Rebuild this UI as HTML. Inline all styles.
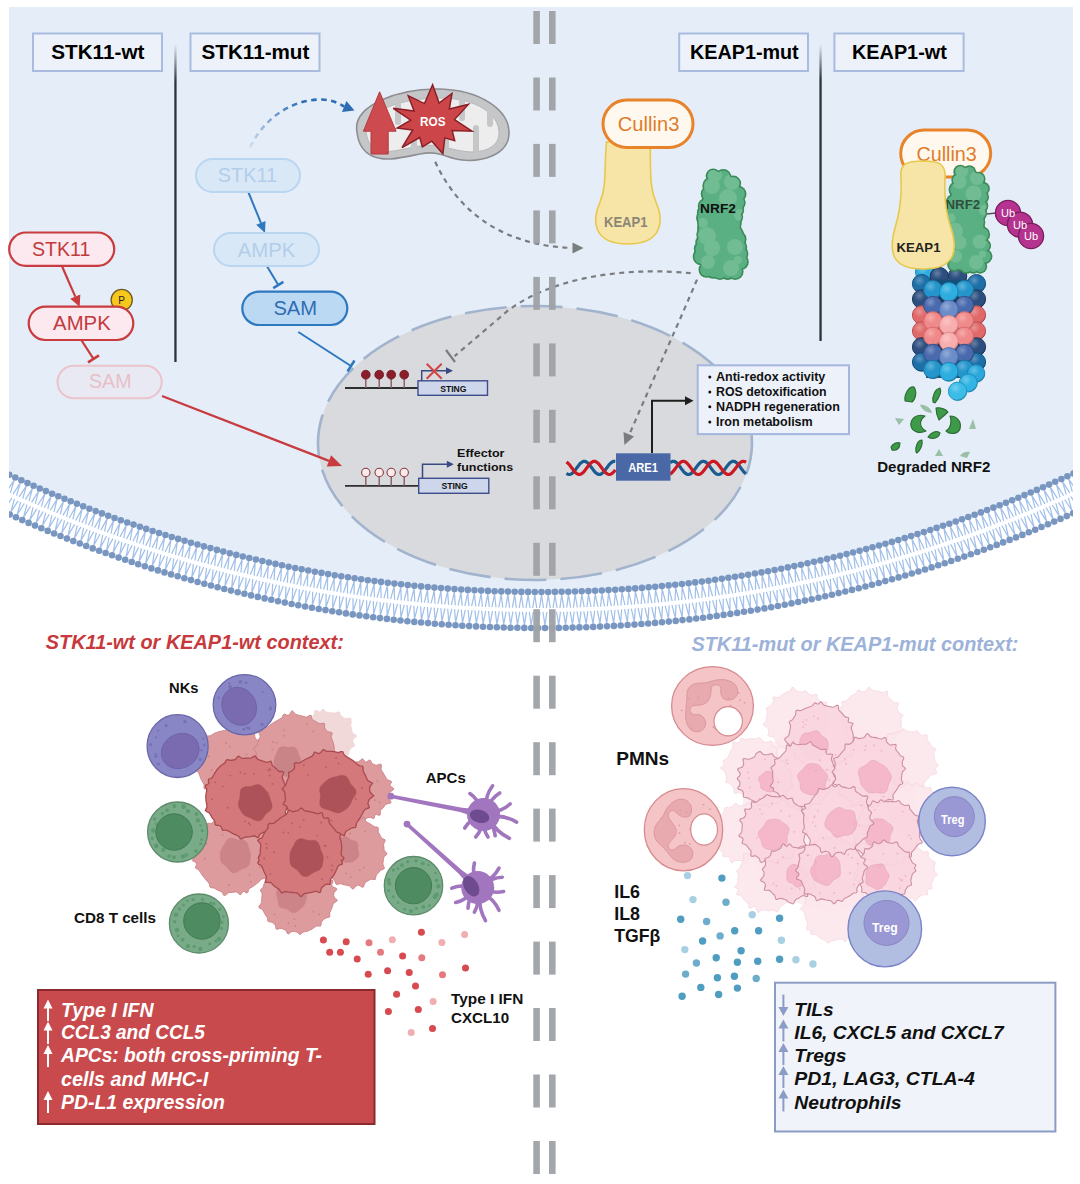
<!DOCTYPE html>
<html><head><meta charset="utf-8"><style>
html,body{margin:0;padding:0;background:#fff;width:1080px;height:1184px;overflow:hidden}
svg{display:block;font-family:"Liberation Sans", sans-serif}
</style></head><body>
<svg width="1080" height="1184" viewBox="0 0 1080 1184">
<defs><clipPath id="panelclip"><rect x="9" y="0" width="1064" height="1184"/></clipPath></defs>
<path d="M9,7 H1073 V474.65 A1260,1260 0 0 1 9,474.65 Z" fill="#E5EEF8"/>
<g clip-path="url(#panelclip)"><path d="M9,474.6 A1260,1260 0 0 0 1073,473.7" fill="none"/><path d="M1080.9,473.3L1084.6,485.9M1080.9,473.3L1088.2,484.2M1090.6,501.9L1083.3,491.0M1090.6,501.9L1086.9,489.3M1074.8,476.2L1078.5,488.8M1074.8,476.2L1082.1,487.1M1084.4,504.8L1077.1,493.9M1084.4,504.8L1080.7,492.2M1068.7,479.0L1072.3,491.7M1068.7,479.0L1076.0,490.0M1078.1,507.7L1070.9,496.7M1078.1,507.7L1074.5,495.0M1062.6,481.8L1066.2,494.5M1062.6,481.8L1069.8,492.8M1071.9,510.5L1064.7,499.5M1071.9,510.5L1068.4,497.9M1056.5,484.6L1060.0,497.3M1056.5,484.6L1063.6,495.6M1065.6,513.4L1058.5,502.3M1065.6,513.4L1062.1,500.7M1050.3,487.3L1053.8,500.0M1050.3,487.3L1057.4,498.4M1059.3,516.1L1052.3,505.0M1059.3,516.1L1055.9,503.4M1044.2,490.0L1047.5,502.7M1044.2,490.0L1051.2,501.1M1053.0,518.9L1046.0,507.7M1053.0,518.9L1049.7,506.1M1038.0,492.7L1041.3,505.4M1038.0,492.7L1045.0,503.8M1046.7,521.6L1039.8,510.4M1046.7,521.6L1043.4,508.8M1031.8,495.3L1035.1,508.0M1031.8,495.3L1038.7,506.5M1040.4,524.3L1033.5,513.1M1040.4,524.3L1037.2,511.5M1025.6,497.9L1028.8,510.7M1025.6,497.9L1032.5,509.1M1034.0,526.9L1027.2,515.7M1034.0,526.9L1030.9,514.1M1019.4,500.5L1022.5,513.2M1019.4,500.5L1026.2,511.7M1027.6,529.5L1020.9,518.2M1027.6,529.5L1024.6,516.7M1013.2,503.0L1016.2,515.8M1013.2,503.0L1019.9,514.3M1021.3,532.1L1014.6,520.8M1021.3,532.1L1018.3,519.3M1007.0,505.5L1009.9,518.3M1007.0,505.5L1013.7,516.8M1014.9,534.6L1008.3,523.3M1014.9,534.6L1012.0,521.8M1000.7,508.0L1003.6,520.8M1000.7,508.0L1007.3,519.3M1008.5,537.1L1001.9,525.8M1008.5,537.1L1005.6,524.3M994.5,510.4L997.3,523.2M994.5,510.4L1001.0,521.8M1002.1,539.6L995.6,528.2M1002.1,539.6L999.3,526.8M988.2,512.8L991.0,525.7M988.2,512.8L994.7,524.2M995.6,542.1L989.2,530.6M995.6,542.1L992.9,529.2M981.9,515.2L984.6,528.0M981.9,515.2L988.3,526.6M989.2,544.5L982.8,533.0M989.2,544.5L986.6,531.6M975.6,517.5L978.2,530.4M975.6,517.5L982.0,529.0M982.7,546.8L976.4,535.3M982.7,546.8L980.2,533.9M969.3,519.8L971.9,532.7M969.3,519.8L975.6,531.3M976.3,549.2L970.0,537.6M976.3,549.2L973.8,536.3M963.0,522.1L965.5,535.0M963.0,522.1L969.2,533.6M969.8,551.5L963.6,539.9M969.8,551.5L967.4,538.5M956.7,524.3L959.1,537.2M956.7,524.3L962.8,535.9M963.3,553.7L957.2,542.1M963.3,553.7L960.9,540.8M950.3,526.5L952.6,539.4M950.3,526.5L956.4,538.1M956.8,556.0L950.7,544.3M956.8,556.0L954.5,543.0M944.0,528.7L946.2,541.6M944.0,528.7L950.0,540.3M950.3,558.2L944.3,546.5M950.3,558.2L948.1,545.2M937.6,530.8L939.8,543.8M937.6,530.8L943.6,542.5M943.8,560.3L937.8,548.6M943.8,560.3L941.6,547.4M931.2,532.9L933.3,545.9M931.2,532.9L937.1,544.6M937.2,562.5L931.3,550.7M937.2,562.5L935.1,549.5M924.8,534.9L926.9,547.9M924.8,534.9L930.7,546.7M930.7,564.6L924.8,552.8M930.7,564.6L928.7,551.6M918.4,537.0L920.4,550.0M918.4,537.0L924.2,548.8M924.1,566.6L918.4,554.8M924.1,566.6L922.2,553.6M912.0,539.0L913.9,552.0M912.0,539.0L917.7,550.8M917.6,568.6L911.8,556.8M917.6,568.6L915.7,555.6M905.6,540.9L907.4,554.0M905.6,540.9L911.3,552.8M911.0,570.6L905.3,558.8M911.0,570.6L909.2,557.6M899.1,542.9L900.9,555.9M899.1,542.9L904.8,554.8M904.4,572.6L898.8,560.7M904.4,572.6L902.6,559.6M892.7,544.8L894.4,557.8M892.7,544.8L898.3,556.7M897.8,574.5L892.3,562.6M897.8,574.5L896.1,561.5M886.2,546.6L887.9,559.7M886.2,546.6L891.7,558.6M891.2,576.4L885.7,564.4M891.2,576.4L889.6,563.3M879.8,548.4L881.4,561.5M879.8,548.4L885.2,560.4M884.5,578.2L879.2,566.3M884.5,578.2L883.0,565.2M873.3,550.2L874.8,563.3M873.3,550.2L878.7,562.2M877.9,580.1L872.6,568.0M877.9,580.1L876.4,567.0M866.8,552.0L868.3,565.1M866.8,552.0L872.1,564.0M871.3,581.8L866.0,569.8M871.3,581.8L869.9,568.8M860.3,553.7L861.7,566.8M860.3,553.7L865.6,565.8M864.6,583.6L859.4,571.5M864.6,583.6L863.3,570.5M853.8,555.4L855.1,568.5M853.8,555.4L859.0,567.5M858.0,585.3L852.8,573.2M858.0,585.3L856.7,572.2M847.3,557.0L848.6,570.1M847.3,557.0L852.4,569.2M851.3,587.0L846.2,574.8M851.3,587.0L850.1,573.9M840.8,558.7L842.0,571.8M840.8,558.7L845.8,570.8M844.6,588.6L839.6,576.4M844.6,588.6L843.5,575.5M834.3,560.2L835.4,573.3M834.3,560.2L839.3,572.4M837.9,590.2L833.0,578.0M837.9,590.2L836.9,577.1M827.7,561.8L828.8,574.9M827.7,561.8L832.7,574.0M831.2,591.8L826.4,579.6M831.2,591.8L830.3,578.7M821.2,563.3L822.1,576.4M821.2,563.3L826.0,575.5M824.5,593.3L819.7,581.1M824.5,593.3L823.6,580.2M814.7,564.8L815.5,577.9M814.7,564.8L819.4,577.0M817.8,594.8L813.1,582.5M817.8,594.8L817.0,581.7M808.1,566.2L808.9,579.3M808.1,566.2L812.8,578.5M811.1,596.3L806.4,584.0M811.1,596.3L810.3,583.1M801.5,567.6L802.3,580.8M801.5,567.6L806.2,579.9M804.4,597.7L799.8,585.4M804.4,597.7L803.7,584.5M795.0,569.0L795.6,582.1M795.0,569.0L799.5,581.3M797.6,599.1L793.1,586.7M797.6,599.1L797.0,585.9M788.4,570.3L789.0,583.5M788.4,570.3L792.9,582.7M790.9,600.4L786.4,588.1M790.9,600.4L790.3,587.3M781.8,571.6L782.3,584.8M781.8,571.6L786.2,584.0M784.2,601.7L779.7,589.4M784.2,601.7L783.7,588.6M775.2,572.9L775.6,586.1M775.2,572.9L779.6,585.3M777.4,603.0L773.0,590.6M777.4,603.0L777.0,589.9M768.6,574.1L769.0,587.3M768.6,574.1L772.9,586.6M770.6,604.3L766.3,591.8M770.6,604.3L770.3,591.1M762.0,575.3L762.3,588.5M762.0,575.3L766.2,587.8M763.9,605.5L759.6,593.0M763.9,605.5L763.6,592.3M755.4,576.5L755.6,589.7M755.4,576.5L759.6,589.0M757.1,606.6L752.9,594.2M757.1,606.6L756.9,593.5M748.7,577.6L748.9,590.8M748.7,577.6L752.9,590.1M750.3,607.8L746.2,595.3M750.3,607.8L750.2,594.6M742.1,578.7L742.2,591.9M742.1,578.7L746.2,591.2M743.5,608.9L739.5,596.4M743.5,608.9L743.5,595.7M735.5,579.8L735.5,592.9M735.5,579.8L739.5,592.3M736.7,609.9L732.8,597.4M736.7,609.9L736.7,596.8M728.8,580.8L728.8,594.0M728.8,580.8L732.8,593.4M729.9,611.0L726.0,598.4M729.9,611.0L730.0,597.8M722.2,581.8L722.1,594.9M722.2,581.8L726.1,594.4M723.1,612.0L719.3,599.4M723.1,612.0L723.3,598.8M715.6,582.7L715.4,595.9M715.6,582.7L719.3,595.3M716.3,612.9L712.6,600.3M716.3,612.9L716.5,599.8M708.9,583.7L708.7,596.8M708.9,583.7L712.6,596.3M709.5,613.8L705.8,601.2M709.5,613.8L709.8,600.7M702.2,584.5L701.9,597.7M702.2,584.5L705.9,597.2M702.7,614.7L699.1,602.1M702.7,614.7L703.0,601.6M695.6,585.4L695.2,598.5M695.6,585.4L699.2,598.0M695.9,615.6L692.3,602.9M695.9,615.6L696.3,602.4M688.9,586.2L688.5,599.3M688.9,586.2L692.4,598.9M689.0,616.4L685.6,603.7M689.0,616.4L689.5,603.2M682.2,587.0L681.7,600.1M682.2,587.0L685.7,599.7M682.2,617.2L678.8,604.5M682.2,617.2L682.8,604.0M675.6,587.7L675.0,600.8M675.6,587.7L679.0,600.4M675.4,617.9L672.0,605.2M675.4,617.9L676.0,604.8M668.9,588.4L668.2,601.5M668.9,588.4L672.2,601.1M668.5,618.6L665.2,605.9M668.5,618.6L669.2,605.5M662.2,589.1L661.5,602.2M662.2,589.1L665.5,601.8M661.7,619.3L658.5,606.5M661.7,619.3L662.5,606.1M655.5,589.7L654.7,602.8M655.5,589.7L658.7,602.5M654.8,619.9L651.7,607.1M654.8,619.9L655.7,606.8M648.8,590.3L648.0,603.4M648.8,590.3L651.9,603.1M648.0,620.5L644.9,607.7M648.0,620.5L648.9,607.4M642.1,590.9L641.2,604.0M642.1,590.9L645.2,603.7M641.1,621.0L638.1,608.2M641.1,621.0L642.1,607.9M635.4,591.4L634.4,604.5M635.4,591.4L638.4,604.2M634.3,621.6L631.3,608.7M634.3,621.6L635.3,608.4M628.7,591.9L627.7,605.0M628.7,591.9L631.7,604.7M627.4,622.0L624.5,609.2M627.4,622.0L628.5,608.9M622.0,592.3L620.9,605.4M622.0,592.3L624.9,605.2M620.6,622.5L617.8,609.6M620.6,622.5L621.7,609.4M615.3,592.8L614.1,605.8M615.3,592.8L618.1,605.6M613.7,622.9L611.0,610.0M613.7,622.9L615.0,609.8M608.6,593.1L607.3,606.2M608.6,593.1L611.3,606.0M606.8,623.3L604.2,610.4M606.8,623.3L608.2,610.2M601.9,593.5L600.6,606.6M601.9,593.5L604.6,606.4M600.0,623.6L597.4,610.7M600.0,623.6L601.4,610.5M595.2,593.8L593.8,606.9M595.2,593.8L597.8,606.7M593.1,623.9L590.6,611.0M593.1,623.9L594.6,610.8M588.5,594.1L587.0,607.1M588.5,594.1L591.0,607.0M586.2,624.2L583.8,611.3M586.2,624.2L587.8,611.1M581.8,594.3L580.2,607.4M581.8,594.3L584.2,607.2M579.4,624.4L577.0,611.5M579.4,624.4L581.0,611.3M575.1,594.5L573.4,607.6M575.1,594.5L577.4,607.5M572.5,624.6L570.2,611.6M572.5,624.6L574.2,611.5M568.4,594.7L566.7,607.7M568.4,594.7L570.7,607.6M565.6,624.7L563.4,611.8M565.6,624.7L567.4,611.7M561.7,594.8L559.9,607.8M561.7,594.8L563.9,607.8M558.7,624.9L556.5,611.9M558.7,624.9L560.5,611.8M554.9,594.9L553.1,607.9M554.9,594.9L557.1,607.9M551.9,624.9L549.7,612.0M551.9,624.9L553.7,611.9M548.2,595.0L546.3,608.0M548.2,595.0L550.3,608.0M545.0,625.0L542.9,612.0M545.0,625.0L546.9,612.0M541.5,595.0L539.5,608.0M541.5,595.0L543.5,608.0M538.1,625.0L536.1,612.0M538.1,625.0L540.1,612.0M534.8,595.0L532.7,608.0M534.8,595.0L536.7,608.0M531.2,625.0L529.3,612.0M531.2,625.0L533.3,612.0M528.1,594.9L526.0,607.9M528.1,594.9L530.0,608.0M524.4,624.9L522.5,611.9M524.4,624.9L526.5,611.9M521.4,594.9L519.2,607.8M521.4,594.9L523.2,607.9M517.5,624.8L515.7,611.8M517.5,624.8L519.7,611.8M514.6,594.7L512.4,607.7M514.6,594.7L516.4,607.8M510.6,624.7L508.9,611.6M510.6,624.7L512.9,611.7M507.9,594.6L505.6,607.5M507.9,594.6L509.6,607.6M503.7,624.5L502.1,611.4M503.7,624.5L506.1,611.6M501.2,594.4L498.8,607.3M501.2,594.4L502.8,607.5M496.9,624.3L495.3,611.2M496.9,624.3L499.3,611.4M494.5,594.2L492.0,607.1M494.5,594.2L496.0,607.2M490.0,624.0L488.5,611.0M490.0,624.0L492.5,611.1M487.8,593.9L485.3,606.8M487.8,593.9L489.3,607.0M483.1,623.7L481.7,610.7M483.1,623.7L485.7,610.8M481.1,593.6L478.5,606.5M481.1,593.6L482.5,606.7M476.3,623.4L474.9,610.3M476.3,623.4L478.9,610.5M474.4,593.3L471.7,606.2M474.4,593.3L475.7,606.4M469.4,623.1L468.1,610.0M469.4,623.1L472.1,610.2M467.7,592.9L464.9,605.8M467.7,592.9L468.9,606.0M462.5,622.7L461.3,609.6M462.5,622.7L465.3,609.8M461.0,592.5L458.2,605.4M461.0,592.5L462.2,605.6M455.7,622.2L454.5,609.1M455.7,622.2L458.5,609.4M454.3,592.1L451.4,604.9M454.3,592.1L455.4,605.2M448.8,621.8L447.7,608.7M448.8,621.8L451.7,609.0M447.6,591.6L444.6,604.4M447.6,591.6L448.6,604.7M441.9,621.3L440.9,608.2M441.9,621.3L444.9,608.5M440.9,591.1L437.9,603.9M440.9,591.1L441.8,604.2M435.1,620.7L434.2,607.6M435.1,620.7L438.1,607.9M434.2,590.6L431.1,603.3M434.2,590.6L435.1,603.7M428.2,620.2L427.4,607.0M428.2,620.2L431.4,607.4M427.5,590.0L424.3,602.7M427.5,590.0L428.3,603.1M421.4,619.5L420.6,606.4M421.4,619.5L424.6,606.8M420.8,589.4L417.6,602.1M420.8,589.4L421.6,602.5M414.5,618.9L413.8,605.8M414.5,618.9L417.8,606.2M414.1,588.7L410.8,601.4M414.1,588.7L414.8,601.8M407.7,618.2L407.0,605.1M407.7,618.2L411.0,605.5M407.4,588.0L404.1,600.7M407.4,588.0L408.1,601.2M400.9,617.5L400.3,604.4M400.9,617.5L404.3,604.8M400.8,587.3L397.3,600.0M400.8,587.3L401.3,600.4M394.0,616.7L393.5,603.6M394.0,616.7L397.5,604.0M394.1,586.5L390.6,599.2M394.1,586.5L394.6,599.7M387.2,615.9L386.8,602.8M387.2,615.9L390.7,603.3M387.4,585.7L383.9,598.4M387.4,585.7L387.8,598.9M380.4,615.1L380.0,602.0M380.4,615.1L384.0,602.5M380.8,584.9L377.1,597.6M380.8,584.9L381.1,598.1M373.6,614.2L373.3,601.1M373.6,614.2L377.2,601.6M374.1,584.1L370.4,596.7M374.1,584.1L374.4,597.2M366.7,613.3L366.5,600.2M366.7,613.3L370.5,600.7M367.4,583.2L363.7,595.8M367.4,583.2L367.6,596.3M359.9,612.4L359.8,599.2M359.9,612.4L363.7,599.8M360.8,582.2L357.0,594.8M360.8,582.2L360.9,595.4M353.1,611.4L353.0,598.3M353.1,611.4L357.0,598.9M354.1,581.2L350.2,593.8M354.1,581.2L354.2,594.4M346.3,610.4L346.3,597.3M346.3,610.4L350.3,597.9M347.5,580.2L343.5,592.8M347.5,580.2L347.5,593.4M339.5,609.4L339.6,596.2M339.5,609.4L343.5,596.8M340.9,579.2L336.8,591.7M340.9,579.2L340.8,592.4M332.7,608.3L332.9,595.1M332.7,608.3L336.8,595.8M334.2,578.1L330.1,590.6M334.2,578.1L334.1,591.3M326.0,607.2L326.1,594.0M326.0,607.2L330.1,594.7M327.6,577.0L323.5,589.5M327.6,577.0L327.4,590.2M319.2,606.0L319.4,592.9M319.2,606.0L323.4,593.5M321.0,575.9L316.8,588.3M321.0,575.9L320.7,589.0M312.4,604.8L312.7,591.7M312.4,604.8L316.7,592.4M314.4,574.7L310.1,587.1M314.4,574.7L314.0,587.8M305.6,603.6L306.0,590.4M305.6,603.6L310.0,591.2M307.8,573.5L303.4,585.9M307.8,573.5L307.4,586.6M298.9,602.3L299.3,589.2M298.9,602.3L303.3,589.9M301.2,572.2L296.8,584.6M301.2,572.2L300.7,585.4M292.1,601.0L292.7,587.9M292.1,601.0L296.6,588.6M294.6,570.9L290.1,583.3M294.6,570.9L294.0,584.1M285.4,599.7L286.0,586.5M285.4,599.7L289.9,587.3M288.0,569.6L283.5,581.9M288.0,569.6L287.4,582.7M278.7,598.3L279.3,585.2M278.7,598.3L283.2,586.0M281.4,568.2L276.8,580.6M281.4,568.2L280.7,581.4M271.9,596.9L272.7,583.8M271.9,596.9L276.6,584.6M274.9,566.9L270.2,579.1M274.9,566.9L274.1,580.0M265.2,595.5L266.0,582.3M265.2,595.5L269.9,583.2M268.3,565.4L263.5,577.7M268.3,565.4L267.5,578.6M258.5,594.0L259.4,580.9M258.5,594.0L263.3,581.7M261.7,564.0L256.9,576.2M261.7,564.0L260.8,577.1M251.8,592.5L252.7,579.3M251.8,592.5L256.6,580.2M255.2,562.5L250.3,574.7M255.2,562.5L254.2,575.6M245.1,590.9L246.1,577.8M245.1,590.9L250.0,578.7M248.7,560.9L243.7,573.1M248.7,560.9L247.6,574.0M238.4,589.3L239.5,576.2M238.4,589.3L243.4,577.2M242.1,559.4L237.1,571.5M242.1,559.4L241.0,572.5M231.7,587.7L232.9,574.6M231.7,587.7L236.8,575.6M235.6,557.8L230.5,569.9M235.6,557.8L234.4,570.9M225.0,586.1L226.3,573.0M225.0,586.1L230.1,573.9M229.1,556.1L224.0,568.2M229.1,556.1L227.8,569.2M218.4,584.4L219.7,571.3M218.4,584.4L223.5,572.3M222.6,554.5L217.4,566.5M222.6,554.5L221.3,567.5M211.7,582.6L213.1,569.6M211.7,582.6L217.0,570.6M216.1,552.8L210.8,564.8M216.1,552.8L214.7,565.8M205.1,580.9L206.5,567.8M205.1,580.9L210.4,568.8M209.6,551.0L204.3,563.0M209.6,551.0L208.1,564.1M198.4,579.1L199.9,566.0M198.4,579.1L203.8,567.1M203.1,549.2L197.7,561.2M203.1,549.2L201.6,562.3M191.8,577.2L193.4,564.2M191.8,577.2L197.2,565.3M196.7,547.4L191.2,559.4M196.7,547.4L195.0,560.5M185.2,575.4L186.8,562.3M185.2,575.4L190.7,563.4M190.2,545.6L184.7,557.5M190.2,545.6L188.5,558.6M178.6,573.5L180.3,560.4M178.6,573.5L184.1,561.5M183.8,543.7L178.2,555.6M183.8,543.7L182.0,556.8M172.0,571.5L173.8,558.5M172.0,571.5L177.6,559.6M177.3,541.8L171.7,553.7M177.3,541.8L175.5,554.8M165.4,569.5L167.3,556.5M165.4,569.5L171.1,557.7M170.9,539.9L165.2,551.7M170.9,539.9L169.0,552.9M158.8,567.5L160.8,554.5M158.8,567.5L164.6,555.7M164.5,537.9L158.7,549.7M164.5,537.9L162.5,550.9M152.3,565.5L154.3,552.5M152.3,565.5L158.1,553.7M158.1,535.9L152.2,547.7M158.1,535.9L156.0,548.9M145.7,563.4L147.8,550.4M145.7,563.4L151.6,551.6M151.7,533.8L145.8,545.6M151.7,533.8L149.6,546.8M139.2,561.3L141.3,548.3M139.2,561.3L145.1,549.6M145.3,531.7L139.3,543.5M145.3,531.7L143.1,544.7M132.6,559.2L134.8,546.2M132.6,559.2L138.6,547.4M138.9,529.6L132.9,541.3M138.9,529.6L136.7,542.6M126.1,557.0L128.4,544.0M126.1,557.0L132.2,545.3M132.5,527.5L126.5,539.1M132.5,527.5L130.2,540.4M119.6,554.8L121.9,541.8M119.6,554.8L125.7,543.1M126.2,525.3L120.0,536.9M126.2,525.3L123.8,538.2M113.1,552.5L115.5,539.6M113.1,552.5L119.3,540.9M119.9,523.1L113.6,534.7M119.9,523.1L117.4,536.0M106.6,550.2L109.1,537.3M106.6,550.2L112.9,538.6M113.5,520.8L107.3,532.4M113.5,520.8L111.0,533.7M100.2,547.9L102.7,535.0M100.2,547.9L106.5,536.3M107.2,518.5L100.9,530.1M107.2,518.5L104.6,531.4M93.7,545.5L96.3,532.6M93.7,545.5L100.1,534.0M100.9,516.2L94.5,527.7M100.9,516.2L98.3,529.1M87.3,543.1L89.9,530.3M87.3,543.1L93.7,531.7M94.6,513.9L88.2,525.3M94.6,513.9L91.9,526.7M80.8,540.7L83.6,527.9M80.8,540.7L87.3,529.3M88.3,511.5L81.8,522.9M88.3,511.5L85.6,524.3M74.4,538.3L77.2,525.4M74.4,538.3L80.9,526.9M82.1,509.1L75.5,520.5M82.1,509.1L79.2,521.9M68.0,535.8L70.9,522.9M68.0,535.8L74.6,524.4M75.8,506.6L69.2,518.0M75.8,506.6L72.9,519.4M61.6,533.2L64.5,520.4M61.6,533.2L68.3,521.9M69.6,504.1L62.9,515.4M69.6,504.1L66.6,516.9M55.2,530.7L58.2,517.9M55.2,530.7L61.9,519.4M63.4,501.6L56.6,512.9M63.4,501.6L60.3,514.4M48.8,528.1L51.9,515.3M48.8,528.1L55.6,516.8M57.1,499.1L50.3,510.3M57.1,499.1L54.0,511.8M42.5,525.5L45.7,512.7M42.5,525.5L49.3,514.2M50.9,496.5L44.1,507.7M50.9,496.5L47.8,509.2M36.2,522.8L39.4,510.0M36.2,522.8L43.1,511.6M44.8,493.9L37.8,505.0M44.8,493.9L41.5,506.6M29.8,520.1L33.1,507.4M29.8,520.1L36.8,508.9M38.6,491.2L31.6,502.3M38.6,491.2L35.3,503.9M23.5,517.4L26.9,504.7M23.5,517.4L30.5,506.3M32.4,488.5L25.4,499.6M32.4,488.5L29.0,501.2M17.2,514.6L20.7,501.9M17.2,514.6L24.3,503.5M26.3,485.8L19.2,496.9M26.3,485.8L22.8,498.5M10.9,511.8L14.4,499.1M10.9,511.8L18.1,500.8M20.2,483.1L13.0,494.1M20.2,483.1L16.6,495.7M4.7,509.0L8.2,496.3M4.7,509.0L11.9,498.0M14.0,480.3L6.8,491.3M14.0,480.3L10.4,492.9M-1.6,506.1L2.1,493.5M-1.6,506.1L5.7,495.1M7.9,477.5L0.7,488.4M7.9,477.5L4.3,490.1M-7.8,503.2L-4.1,490.6M-7.8,503.2L-0.5,492.3M1.9,474.6L-5.5,485.5M1.9,474.6L-1.9,487.2M-14.0,500.3L-10.3,487.7M-14.0,500.3L-6.6,489.4M-4.2,471.7L-11.6,482.6M-4.2,471.7L-8.0,484.3M-20.2,497.3L-16.4,484.7M-20.2,497.3L-12.8,486.5M-10.3,468.8L-17.7,479.7M-10.3,468.8L-14.1,481.4M-26.4,494.3L-22.5,481.8M-26.4,494.3L-18.9,483.5" stroke="#A2C0EA" stroke-width="1.25" fill="none"/><g fill="#7896C0"><circle cx="1079.6" cy="470.6" r="3.3"/><circle cx="1091.9" cy="504.6" r="3.3"/><circle cx="1073.5" cy="473.5" r="3.3"/><circle cx="1085.6" cy="507.5" r="3.3"/><circle cx="1067.4" cy="476.3" r="3.3"/><circle cx="1079.4" cy="510.4" r="3.3"/><circle cx="1061.4" cy="479.1" r="3.3"/><circle cx="1073.1" cy="513.3" r="3.3"/><circle cx="1055.2" cy="481.8" r="3.3"/><circle cx="1066.8" cy="516.1" r="3.3"/><circle cx="1049.1" cy="484.6" r="3.3"/><circle cx="1060.5" cy="518.9" r="3.3"/><circle cx="1043.0" cy="487.3" r="3.3"/><circle cx="1054.2" cy="521.6" r="3.3"/><circle cx="1036.8" cy="489.9" r="3.3"/><circle cx="1047.9" cy="524.3" r="3.3"/><circle cx="1030.7" cy="492.5" r="3.3"/><circle cx="1041.5" cy="527.0" r="3.3"/><circle cx="1024.5" cy="495.1" r="3.3"/><circle cx="1035.2" cy="529.7" r="3.3"/><circle cx="1018.3" cy="497.7" r="3.3"/><circle cx="1028.8" cy="532.3" r="3.3"/><circle cx="1012.1" cy="500.2" r="3.3"/><circle cx="1022.4" cy="534.9" r="3.3"/><circle cx="1005.9" cy="502.7" r="3.3"/><circle cx="1016.0" cy="537.4" r="3.3"/><circle cx="999.6" cy="505.2" r="3.3"/><circle cx="1009.6" cy="539.9" r="3.3"/><circle cx="993.4" cy="507.6" r="3.3"/><circle cx="1003.1" cy="542.4" r="3.3"/><circle cx="987.1" cy="510.0" r="3.3"/><circle cx="996.7" cy="544.9" r="3.3"/><circle cx="980.9" cy="512.4" r="3.3"/><circle cx="990.2" cy="547.3" r="3.3"/><circle cx="974.6" cy="514.7" r="3.3"/><circle cx="983.8" cy="549.7" r="3.3"/><circle cx="968.3" cy="517.0" r="3.3"/><circle cx="977.3" cy="552.0" r="3.3"/><circle cx="962.0" cy="519.2" r="3.3"/><circle cx="970.8" cy="554.3" r="3.3"/><circle cx="955.7" cy="521.5" r="3.3"/><circle cx="964.3" cy="556.6" r="3.3"/><circle cx="949.3" cy="523.7" r="3.3"/><circle cx="957.8" cy="558.8" r="3.3"/><circle cx="943.0" cy="525.8" r="3.3"/><circle cx="951.2" cy="561.0" r="3.3"/><circle cx="936.6" cy="527.9" r="3.3"/><circle cx="944.7" cy="563.2" r="3.3"/><circle cx="930.3" cy="530.0" r="3.3"/><circle cx="938.2" cy="565.3" r="3.3"/><circle cx="923.9" cy="532.1" r="3.3"/><circle cx="931.6" cy="567.4" r="3.3"/><circle cx="917.5" cy="534.1" r="3.3"/><circle cx="925.0" cy="569.5" r="3.3"/><circle cx="911.1" cy="536.1" r="3.3"/><circle cx="918.4" cy="571.5" r="3.3"/><circle cx="904.7" cy="538.1" r="3.3"/><circle cx="911.8" cy="573.5" r="3.3"/><circle cx="898.3" cy="540.0" r="3.3"/><circle cx="905.2" cy="575.5" r="3.3"/><circle cx="891.9" cy="541.9" r="3.3"/><circle cx="898.6" cy="577.4" r="3.3"/><circle cx="885.4" cy="543.7" r="3.3"/><circle cx="892.0" cy="579.3" r="3.3"/><circle cx="879.0" cy="545.5" r="3.3"/><circle cx="885.3" cy="581.1" r="3.3"/><circle cx="872.5" cy="547.3" r="3.3"/><circle cx="878.7" cy="583.0" r="3.3"/><circle cx="866.1" cy="549.1" r="3.3"/><circle cx="872.0" cy="584.7" r="3.3"/><circle cx="859.6" cy="550.8" r="3.3"/><circle cx="865.4" cy="586.5" r="3.3"/><circle cx="853.1" cy="552.5" r="3.3"/><circle cx="858.7" cy="588.2" r="3.3"/><circle cx="846.6" cy="554.1" r="3.3"/><circle cx="852.0" cy="589.9" r="3.3"/><circle cx="840.1" cy="555.7" r="3.3"/><circle cx="845.3" cy="591.5" r="3.3"/><circle cx="833.6" cy="557.3" r="3.3"/><circle cx="838.6" cy="593.1" r="3.3"/><circle cx="827.1" cy="558.9" r="3.3"/><circle cx="831.9" cy="594.7" r="3.3"/><circle cx="820.5" cy="560.4" r="3.3"/><circle cx="825.2" cy="596.2" r="3.3"/><circle cx="814.0" cy="561.8" r="3.3"/><circle cx="818.5" cy="597.7" r="3.3"/><circle cx="807.5" cy="563.3" r="3.3"/><circle cx="811.7" cy="599.2" r="3.3"/><circle cx="800.9" cy="564.7" r="3.3"/><circle cx="805.0" cy="600.6" r="3.3"/><circle cx="794.3" cy="566.1" r="3.3"/><circle cx="798.2" cy="602.0" r="3.3"/><circle cx="787.8" cy="567.4" r="3.3"/><circle cx="791.5" cy="603.4" r="3.3"/><circle cx="781.2" cy="568.7" r="3.3"/><circle cx="784.7" cy="604.7" r="3.3"/><circle cx="774.6" cy="570.0" r="3.3"/><circle cx="777.9" cy="606.0" r="3.3"/><circle cx="768.0" cy="571.2" r="3.3"/><circle cx="771.2" cy="607.2" r="3.3"/><circle cx="761.5" cy="572.4" r="3.3"/><circle cx="764.4" cy="608.4" r="3.3"/><circle cx="754.9" cy="573.5" r="3.3"/><circle cx="757.6" cy="609.6" r="3.3"/><circle cx="748.2" cy="574.7" r="3.3"/><circle cx="750.8" cy="610.7" r="3.3"/><circle cx="741.6" cy="575.8" r="3.3"/><circle cx="744.0" cy="611.8" r="3.3"/><circle cx="735.0" cy="576.8" r="3.3"/><circle cx="737.2" cy="612.9" r="3.3"/><circle cx="728.4" cy="577.8" r="3.3"/><circle cx="730.4" cy="613.9" r="3.3"/><circle cx="721.8" cy="578.8" r="3.3"/><circle cx="723.6" cy="614.9" r="3.3"/><circle cx="715.1" cy="579.8" r="3.3"/><circle cx="716.7" cy="615.9" r="3.3"/><circle cx="708.5" cy="580.7" r="3.3"/><circle cx="709.9" cy="616.8" r="3.3"/><circle cx="701.9" cy="581.6" r="3.3"/><circle cx="703.1" cy="617.7" r="3.3"/><circle cx="695.2" cy="582.4" r="3.3"/><circle cx="696.2" cy="618.5" r="3.3"/><circle cx="688.6" cy="583.2" r="3.3"/><circle cx="689.4" cy="619.4" r="3.3"/><circle cx="681.9" cy="584.0" r="3.3"/><circle cx="682.5" cy="620.1" r="3.3"/><circle cx="675.2" cy="584.7" r="3.3"/><circle cx="675.7" cy="620.9" r="3.3"/><circle cx="668.6" cy="585.4" r="3.3"/><circle cx="668.8" cy="621.6" r="3.3"/><circle cx="661.9" cy="586.1" r="3.3"/><circle cx="662.0" cy="622.2" r="3.3"/><circle cx="655.2" cy="586.7" r="3.3"/><circle cx="655.1" cy="622.9" r="3.3"/><circle cx="648.6" cy="587.3" r="3.3"/><circle cx="648.2" cy="623.5" r="3.3"/><circle cx="641.9" cy="587.9" r="3.3"/><circle cx="641.4" cy="624.0" r="3.3"/><circle cx="635.2" cy="588.4" r="3.3"/><circle cx="634.5" cy="624.6" r="3.3"/><circle cx="628.5" cy="588.9" r="3.3"/><circle cx="627.6" cy="625.0" r="3.3"/><circle cx="621.8" cy="589.3" r="3.3"/><circle cx="620.7" cy="625.5" r="3.3"/><circle cx="615.2" cy="589.8" r="3.3"/><circle cx="613.9" cy="625.9" r="3.3"/><circle cx="608.5" cy="590.1" r="3.3"/><circle cx="607.0" cy="626.3" r="3.3"/><circle cx="601.8" cy="590.5" r="3.3"/><circle cx="600.1" cy="626.6" r="3.3"/><circle cx="595.1" cy="590.8" r="3.3"/><circle cx="593.2" cy="626.9" r="3.3"/><circle cx="588.4" cy="591.1" r="3.3"/><circle cx="586.3" cy="627.2" r="3.3"/><circle cx="581.7" cy="591.3" r="3.3"/><circle cx="579.4" cy="627.4" r="3.3"/><circle cx="575.0" cy="591.5" r="3.3"/><circle cx="572.6" cy="627.6" r="3.3"/><circle cx="568.3" cy="591.7" r="3.3"/><circle cx="565.7" cy="627.7" r="3.3"/><circle cx="561.6" cy="591.8" r="3.3"/><circle cx="558.8" cy="627.9" r="3.3"/><circle cx="554.9" cy="591.9" r="3.3"/><circle cx="551.9" cy="627.9" r="3.3"/><circle cx="548.2" cy="592.0" r="3.3"/><circle cx="545.0" cy="628.0" r="3.3"/><circle cx="541.5" cy="592.0" r="3.3"/><circle cx="538.1" cy="628.0" r="3.3"/><circle cx="534.8" cy="592.0" r="3.3"/><circle cx="531.2" cy="628.0" r="3.3"/><circle cx="528.1" cy="591.9" r="3.3"/><circle cx="524.3" cy="627.9" r="3.3"/><circle cx="521.4" cy="591.9" r="3.3"/><circle cx="517.4" cy="627.8" r="3.3"/><circle cx="514.7" cy="591.7" r="3.3"/><circle cx="510.5" cy="627.7" r="3.3"/><circle cx="508.0" cy="591.6" r="3.3"/><circle cx="503.7" cy="627.5" r="3.3"/><circle cx="501.3" cy="591.4" r="3.3"/><circle cx="496.8" cy="627.3" r="3.3"/><circle cx="494.6" cy="591.2" r="3.3"/><circle cx="489.9" cy="627.0" r="3.3"/><circle cx="487.9" cy="590.9" r="3.3"/><circle cx="483.0" cy="626.7" r="3.3"/><circle cx="481.2" cy="590.6" r="3.3"/><circle cx="476.1" cy="626.4" r="3.3"/><circle cx="474.5" cy="590.3" r="3.3"/><circle cx="469.2" cy="626.1" r="3.3"/><circle cx="467.8" cy="589.9" r="3.3"/><circle cx="462.3" cy="625.7" r="3.3"/><circle cx="461.2" cy="589.5" r="3.3"/><circle cx="455.5" cy="625.2" r="3.3"/><circle cx="454.5" cy="589.1" r="3.3"/><circle cx="448.6" cy="624.8" r="3.3"/><circle cx="447.8" cy="588.6" r="3.3"/><circle cx="441.7" cy="624.3" r="3.3"/><circle cx="441.1" cy="588.1" r="3.3"/><circle cx="434.8" cy="623.7" r="3.3"/><circle cx="434.4" cy="587.6" r="3.3"/><circle cx="428.0" cy="623.1" r="3.3"/><circle cx="427.8" cy="587.0" r="3.3"/><circle cx="421.1" cy="622.5" r="3.3"/><circle cx="421.1" cy="586.4" r="3.3"/><circle cx="414.3" cy="621.9" r="3.3"/><circle cx="414.4" cy="585.7" r="3.3"/><circle cx="407.4" cy="621.2" r="3.3"/><circle cx="407.8" cy="585.0" r="3.3"/><circle cx="400.5" cy="620.5" r="3.3"/><circle cx="401.1" cy="584.3" r="3.3"/><circle cx="393.7" cy="619.7" r="3.3"/><circle cx="394.4" cy="583.6" r="3.3"/><circle cx="386.9" cy="618.9" r="3.3"/><circle cx="387.8" cy="582.8" r="3.3"/><circle cx="380.0" cy="618.1" r="3.3"/><circle cx="381.1" cy="581.9" r="3.3"/><circle cx="373.2" cy="617.2" r="3.3"/><circle cx="374.5" cy="581.1" r="3.3"/><circle cx="366.3" cy="616.3" r="3.3"/><circle cx="367.8" cy="580.2" r="3.3"/><circle cx="359.5" cy="615.4" r="3.3"/><circle cx="361.2" cy="579.3" r="3.3"/><circle cx="352.7" cy="614.4" r="3.3"/><circle cx="354.6" cy="578.3" r="3.3"/><circle cx="345.9" cy="613.4" r="3.3"/><circle cx="348.0" cy="577.3" r="3.3"/><circle cx="339.1" cy="612.3" r="3.3"/><circle cx="341.3" cy="576.2" r="3.3"/><circle cx="332.3" cy="611.2" r="3.3"/><circle cx="334.7" cy="575.2" r="3.3"/><circle cx="325.5" cy="610.1" r="3.3"/><circle cx="328.1" cy="574.1" r="3.3"/><circle cx="318.7" cy="609.0" r="3.3"/><circle cx="321.5" cy="572.9" r="3.3"/><circle cx="311.9" cy="607.8" r="3.3"/><circle cx="314.9" cy="571.7" r="3.3"/><circle cx="305.1" cy="606.5" r="3.3"/><circle cx="308.3" cy="570.5" r="3.3"/><circle cx="298.3" cy="605.3" r="3.3"/><circle cx="301.7" cy="569.3" r="3.3"/><circle cx="291.6" cy="604.0" r="3.3"/><circle cx="295.2" cy="568.0" r="3.3"/><circle cx="284.8" cy="602.6" r="3.3"/><circle cx="288.6" cy="566.7" r="3.3"/><circle cx="278.0" cy="601.3" r="3.3"/><circle cx="282.0" cy="565.3" r="3.3"/><circle cx="271.3" cy="599.8" r="3.3"/><circle cx="275.5" cy="563.9" r="3.3"/><circle cx="264.6" cy="598.4" r="3.3"/><circle cx="268.9" cy="562.5" r="3.3"/><circle cx="257.8" cy="596.9" r="3.3"/><circle cx="262.4" cy="561.0" r="3.3"/><circle cx="251.1" cy="595.4" r="3.3"/><circle cx="255.9" cy="559.5" r="3.3"/><circle cx="244.4" cy="593.8" r="3.3"/><circle cx="249.3" cy="558.0" r="3.3"/><circle cx="237.7" cy="592.2" r="3.3"/><circle cx="242.8" cy="556.5" r="3.3"/><circle cx="231.0" cy="590.6" r="3.3"/><circle cx="236.3" cy="554.9" r="3.3"/><circle cx="224.3" cy="589.0" r="3.3"/><circle cx="229.8" cy="553.2" r="3.3"/><circle cx="217.6" cy="587.3" r="3.3"/><circle cx="223.3" cy="551.6" r="3.3"/><circle cx="211.0" cy="585.5" r="3.3"/><circle cx="216.9" cy="549.9" r="3.3"/><circle cx="204.3" cy="583.8" r="3.3"/><circle cx="210.4" cy="548.1" r="3.3"/><circle cx="197.6" cy="582.0" r="3.3"/><circle cx="203.9" cy="546.4" r="3.3"/><circle cx="191.0" cy="580.1" r="3.3"/><circle cx="197.5" cy="544.5" r="3.3"/><circle cx="184.4" cy="578.3" r="3.3"/><circle cx="191.0" cy="542.7" r="3.3"/><circle cx="177.7" cy="576.3" r="3.3"/><circle cx="184.6" cy="540.8" r="3.3"/><circle cx="171.1" cy="574.4" r="3.3"/><circle cx="178.2" cy="538.9" r="3.3"/><circle cx="164.5" cy="572.4" r="3.3"/><circle cx="171.8" cy="537.0" r="3.3"/><circle cx="157.9" cy="570.4" r="3.3"/><circle cx="165.4" cy="535.0" r="3.3"/><circle cx="151.4" cy="568.4" r="3.3"/><circle cx="159.0" cy="533.0" r="3.3"/><circle cx="144.8" cy="566.3" r="3.3"/><circle cx="152.6" cy="531.0" r="3.3"/><circle cx="138.2" cy="564.2" r="3.3"/><circle cx="146.2" cy="528.9" r="3.3"/><circle cx="131.7" cy="562.0" r="3.3"/><circle cx="139.9" cy="526.8" r="3.3"/><circle cx="125.2" cy="559.8" r="3.3"/><circle cx="133.5" cy="524.6" r="3.3"/><circle cx="118.6" cy="557.6" r="3.3"/><circle cx="127.2" cy="522.5" r="3.3"/><circle cx="112.1" cy="555.3" r="3.3"/><circle cx="120.8" cy="520.2" r="3.3"/><circle cx="105.6" cy="553.0" r="3.3"/><circle cx="114.5" cy="518.0" r="3.3"/><circle cx="99.1" cy="550.7" r="3.3"/><circle cx="108.2" cy="515.7" r="3.3"/><circle cx="92.7" cy="548.4" r="3.3"/><circle cx="101.9" cy="513.4" r="3.3"/><circle cx="86.2" cy="546.0" r="3.3"/><circle cx="95.7" cy="511.1" r="3.3"/><circle cx="79.8" cy="543.5" r="3.3"/><circle cx="89.4" cy="508.7" r="3.3"/><circle cx="73.3" cy="541.1" r="3.3"/><circle cx="83.2" cy="506.3" r="3.3"/><circle cx="66.9" cy="538.6" r="3.3"/><circle cx="76.9" cy="503.8" r="3.3"/><circle cx="60.5" cy="536.0" r="3.3"/><circle cx="70.7" cy="501.3" r="3.3"/><circle cx="54.1" cy="533.5" r="3.3"/><circle cx="64.5" cy="498.8" r="3.3"/><circle cx="47.7" cy="530.9" r="3.3"/><circle cx="58.3" cy="496.3" r="3.3"/><circle cx="41.3" cy="528.2" r="3.3"/><circle cx="52.1" cy="493.7" r="3.3"/><circle cx="35.0" cy="525.6" r="3.3"/><circle cx="45.9" cy="491.1" r="3.3"/><circle cx="28.6" cy="522.9" r="3.3"/><circle cx="39.8" cy="488.5" r="3.3"/><circle cx="22.3" cy="520.1" r="3.3"/><circle cx="33.6" cy="485.8" r="3.3"/><circle cx="16.0" cy="517.3" r="3.3"/><circle cx="27.5" cy="483.1" r="3.3"/><circle cx="9.7" cy="514.5" r="3.3"/><circle cx="21.4" cy="480.3" r="3.3"/><circle cx="3.4" cy="511.7" r="3.3"/><circle cx="15.3" cy="477.5" r="3.3"/><circle cx="-2.8" cy="508.8" r="3.3"/><circle cx="9.2" cy="474.7" r="3.3"/><circle cx="-9.1" cy="505.9" r="3.3"/><circle cx="3.1" cy="471.9" r="3.3"/><circle cx="-2.9" cy="469.0" r="3.3"/><circle cx="-9.0" cy="466.1" r="3.3"/></g></g>
<ellipse cx="535" cy="443" rx="217" ry="137" fill="#D9DADD" stroke="#A2B3CD" stroke-width="2.6" stroke-dasharray="42 14" stroke-dashoffset="10"/>
<defs><linearGradient id="sepg" x1="0" y1="0" x2="0" y2="1"><stop offset="0" stop-color="#2F3236" stop-opacity="0"/><stop offset="0.12" stop-color="#2F3236"/><stop offset="1" stop-color="#2F3236"/></linearGradient></defs>
<rect x="174.3" y="44" width="2.3" height="318" fill="url(#sepg)"/>
<rect x="819.4" y="44" width="2.3" height="297" fill="url(#sepg)"/>
<rect x="33" y="33.5" width="129" height="37.5" fill="#EDF2FA" stroke="#A9BCE0" stroke-width="2"/>
<text x="51.2" y="58.8" font-size="20" fill="#000" font-weight="bold" font-style="normal" text-anchor="start" textLength="93.2" lengthAdjust="spacingAndGlyphs" >STK11-wt</text>
<rect x="190.5" y="33.5" width="129.0" height="37.5" fill="#EDF2FA" stroke="#A9BCE0" stroke-width="2"/>
<text x="201.6" y="58.8" font-size="20" fill="#000" font-weight="bold" font-style="normal" text-anchor="start" textLength="107.7" lengthAdjust="spacingAndGlyphs" >STK11-mut</text>
<rect x="679.2" y="33.5" width="128.79999999999995" height="37.5" fill="#EDF2FA" stroke="#A9BCE0" stroke-width="2"/>
<text x="690.0" y="58.8" font-size="20" fill="#000" font-weight="bold" font-style="normal" text-anchor="start" textLength="108.7" lengthAdjust="spacingAndGlyphs" >KEAP1-mut</text>
<rect x="834.4" y="33.5" width="129.20000000000005" height="37.5" fill="#EDF2FA" stroke="#A9BCE0" stroke-width="2"/>
<text x="852.0" y="58.8" font-size="20" fill="#000" font-weight="bold" font-style="normal" text-anchor="start" textLength="94.8" lengthAdjust="spacingAndGlyphs" >KEAP1-wt</text>
<line x1="62" y1="266.3" x2="75.3" y2="296.6" stroke="#C83B3E" stroke-width="2.2"/>
<path d="M79.7,306.7 L70.2,298.8 L80.3,294.4Z" fill="#C83B3E"/>
<line x1="81.3" y1="340" x2="93.5" y2="358.8" stroke="#C83B3E" stroke-width="2.2"/>
<line x1="88.0" y1="362.3" x2="99.0" y2="355.3" stroke="#C83B3E" stroke-width="2.7"/>
<rect x="9.2" y="232.5" width="105.0" height="33.30000000000001" rx="16.650000000000006" fill="#FBE9EF" stroke="#C83B3E" stroke-width="2.2" opacity="1"/>
<text x="31.9" y="255.8" font-size="19.5" fill="#C23A3C" font-weight="normal" font-style="normal" text-anchor="start" textLength="58.5" lengthAdjust="spacingAndGlyphs" >STK11</text>
<circle cx="121.7" cy="300" r="10.6" fill="#F6C81C" stroke="#6E5A28" stroke-width="1.3"/>
<text x="121.7" y="304" font-size="10" fill="#222" font-weight="normal" font-style="normal" text-anchor="middle" >P</text>
<rect x="28.7" y="306.7" width="104.60000000000001" height="33.30000000000001" rx="16.650000000000006" fill="#FBE9EF" stroke="#C83B3E" stroke-width="2.2" opacity="1"/>
<text x="53.1" y="329.7" font-size="19.5" fill="#C23A3C" font-weight="normal" font-style="normal" text-anchor="start" textLength="57.6" lengthAdjust="spacingAndGlyphs" >AMPK</text>
<rect x="57.5" y="365.8" width="104.19999999999999" height="32.5" rx="16.25" fill="#E9E9F3" stroke="#EBC3CB" stroke-width="2" opacity="1"/>
<text x="88.9" y="388.3" font-size="19.5" fill="#E8BFC8" font-weight="normal" font-style="normal" text-anchor="start" textLength="42.7" lengthAdjust="spacingAndGlyphs" >SAM</text>
<line x1="162" y1="396" x2="329.0" y2="460.9" stroke="#C83B3E" stroke-width="2.2"/>
<path d="M342,466 L326.8,466.5 L331.1,455.3Z" fill="#C83B3E"/>
<line x1="248.3" y1="192" x2="260.9" y2="222.8" stroke="#2E78C0" stroke-width="2"/>
<path d="M265,233 L256.2,224.7 L265.5,220.9Z" fill="#2E78C0"/>
<line x1="267.3" y1="266.7" x2="278.3" y2="285" stroke="#2E78C0" stroke-width="2"/>
<line x1="273.2" y1="288.1" x2="283.4" y2="281.9" stroke="#2E78C0" stroke-width="2.5"/>
<line x1="298.3" y1="332" x2="351" y2="366" stroke="#2E78C0" stroke-width="2"/>
<line x1="347.5" y1="371.5" x2="354.5" y2="360.5" stroke="#2E78C0" stroke-width="2.5"/>
<rect x="196" y="159" width="104" height="33" rx="16.5" fill="#D9E8F6" stroke="#BAD5EF" stroke-width="2" opacity="1"/>
<text x="217.70000000000002" y="181.7" font-size="19.5" fill="#B3CEEA" font-weight="normal" font-style="normal" text-anchor="start" textLength="59.4" lengthAdjust="spacingAndGlyphs" >STK11</text>
<rect x="214" y="233" width="105" height="33" rx="16.5" fill="#D9E8F6" stroke="#BAD5EF" stroke-width="2" opacity="1"/>
<text x="237.70000000000002" y="256.7" font-size="19.5" fill="#B3CEEA" font-weight="normal" font-style="normal" text-anchor="start" textLength="57.7" lengthAdjust="spacingAndGlyphs" >AMPK</text>
<rect x="242.3" y="291.7" width="105.0" height="33.30000000000001" rx="16.650000000000006" fill="#BCD9F3" stroke="#2E78C0" stroke-width="2.2" opacity="1"/>
<text x="273.4" y="315" font-size="19.5" fill="#2E6DB4" font-weight="normal" font-style="normal" text-anchor="start" textLength="43.7" lengthAdjust="spacingAndGlyphs" >SAM</text>
<line x1="345" y1="388" x2="418" y2="388" stroke="#2E2E30" stroke-width="1.8"/>
<line x1="365.8" y1="374.7" x2="365.8" y2="388" stroke="#8A5A5E" stroke-width="1.4"/>
<circle cx="365.8" cy="374.7" r="4.4" fill="#8B1E2A" stroke="#6A1420" stroke-width="0.8"/>
<line x1="379.2" y1="374.7" x2="379.2" y2="388" stroke="#8A5A5E" stroke-width="1.4"/>
<circle cx="379.2" cy="374.7" r="4.4" fill="#8B1E2A" stroke="#6A1420" stroke-width="0.8"/>
<line x1="391.2" y1="374.7" x2="391.2" y2="388" stroke="#8A5A5E" stroke-width="1.4"/>
<circle cx="391.2" cy="374.7" r="4.4" fill="#8B1E2A" stroke="#6A1420" stroke-width="0.8"/>
<line x1="404.2" y1="374.7" x2="404.2" y2="388" stroke="#8A5A5E" stroke-width="1.4"/>
<circle cx="404.2" cy="374.7" r="4.4" fill="#8B1E2A" stroke="#6A1420" stroke-width="0.8"/>
<rect x="418" y="380.8" width="69.5" height="14.5" fill="#CED6EC" stroke="#3E4C8A" stroke-width="1.4"/>
<text x="440.2" y="391.7" font-size="8.6" fill="#111" font-weight="bold" font-style="normal" text-anchor="start" textLength="26.3" lengthAdjust="spacingAndGlyphs" >STING</text>
<path d="M421.7,380.8 V370.8 H447" fill="none" stroke="#3A4A80" stroke-width="1.5"/>
<path d="M453,370.8 L446,367.3 L446,374.3Z" fill="#3A4A80"/>
<line x1="345" y1="485.8" x2="418.7" y2="485.8" stroke="#2E2E30" stroke-width="1.8"/>
<line x1="365.8" y1="472.5" x2="365.8" y2="485.8" stroke="#8A5A5E" stroke-width="1.4"/>
<circle cx="365.8" cy="472.5" r="4.2" fill="#FBEAEA" stroke="#8A3A40" stroke-width="1.1"/>
<line x1="379.2" y1="472.5" x2="379.2" y2="485.8" stroke="#8A5A5E" stroke-width="1.4"/>
<circle cx="379.2" cy="472.5" r="4.2" fill="#FBEAEA" stroke="#8A3A40" stroke-width="1.1"/>
<line x1="391.2" y1="472.5" x2="391.2" y2="485.8" stroke="#8A5A5E" stroke-width="1.4"/>
<circle cx="391.2" cy="472.5" r="4.2" fill="#FBEAEA" stroke="#8A3A40" stroke-width="1.1"/>
<line x1="404.2" y1="472.5" x2="404.2" y2="485.8" stroke="#8A5A5E" stroke-width="1.4"/>
<circle cx="404.2" cy="472.5" r="4.2" fill="#FBEAEA" stroke="#8A3A40" stroke-width="1.1"/>
<rect x="418.7" y="478.3" width="70.10000000000002" height="15.0" fill="#CED6EC" stroke="#3E4C8A" stroke-width="1.4"/>
<text x="441.4" y="489.2" font-size="8.6" fill="#111" font-weight="bold" font-style="normal" text-anchor="start" textLength="26.4" lengthAdjust="spacingAndGlyphs" >STING</text>
<path d="M422.5,478.3 V464.2 H447.8" fill="none" stroke="#3A4A80" stroke-width="1.5"/>
<path d="M453.8,464.2 L446.8,460.7 L446.8,467.7Z" fill="#3A4A80"/>
<path d="M426.7,363.7 L441.7,378.7 M441.7,363.7 L426.7,378.7" stroke="#D24444" stroke-width="2"/>
<text x="457" y="456.7" font-size="11.5" fill="#111" font-weight="bold" font-style="normal" text-anchor="start" textLength="47.5" lengthAdjust="spacingAndGlyphs" >Effector</text>
<text x="457" y="470.8" font-size="11.5" fill="#111" font-weight="bold" font-style="normal" text-anchor="start" textLength="56.2" lengthAdjust="spacingAndGlyphs" >functions</text>
<polyline points="566.5,473.4 567.3,473.9 568.1,474.3 568.9,474.5 569.7,474.5 570.5,474.3 571.3,473.9 572.1,473.4 572.9,472.7 573.7,471.9 574.5,471.0 575.3,469.9 576.1,468.9 576.9,467.8 577.7,466.7 578.5,465.6 579.3,464.6 580.1,463.7 580.9,462.9 581.7,462.3 582.5,461.8 583.3,461.4 584.1,461.3 584.9,461.4 585.7,461.6 586.5,462.0 587.3,462.6 588.1,463.3 588.9,464.1 589.7,465.1 590.5,466.1 591.3,467.2 592.1,468.3 592.9,469.4 593.7,470.5 594.5,471.4 595.3,472.3 596.1,473.1 596.9,473.7 597.7,474.1 598.5,474.4 599.3,474.5 600.1,474.4 600.9,474.1 601.7,473.7 602.5,473.1 603.3,472.3 604.1,471.4 604.9,470.5 605.7,469.4 606.5,468.3 607.3,467.2 608.1,466.1 608.9,465.1 609.7,464.1 610.5,463.3 611.3,462.6 612.1,462.0 612.9,461.6 613.7,461.4 614.5,461.3 615.3,461.4" fill="none" stroke="#1A5C90" stroke-width="3.2"/>
<polyline points="566.5,462.0 567.3,462.6 568.1,463.3 568.9,464.1 569.7,465.1 570.5,466.1 571.3,467.2 572.1,468.3 572.9,469.4 573.7,470.5 574.5,471.4 575.3,472.3 576.1,473.1 576.9,473.7 577.7,474.1 578.5,474.4 579.3,474.5 580.1,474.4 580.9,474.1 581.7,473.7 582.5,473.1 583.3,472.3 584.1,471.4 584.9,470.5 585.7,469.4 586.5,468.3 587.3,467.2 588.1,466.1 588.9,465.1 589.7,464.1 590.5,463.3 591.3,462.6 592.1,462.0 592.9,461.6 593.7,461.4 594.5,461.3 595.3,461.4 596.1,461.8 596.9,462.3 597.7,462.9 598.5,463.7 599.3,464.6 600.1,465.6 600.9,466.7 601.7,467.8 602.5,468.9 603.3,469.9 604.1,471.0 604.9,471.9 605.7,472.7 606.5,473.4 607.3,473.9 608.1,474.3 608.9,474.5 609.7,474.5 610.5,474.3 611.3,473.9 612.1,473.4 612.9,472.7 613.7,471.9 614.5,471.0 615.3,469.9" fill="none" stroke="#CC1A24" stroke-width="3.2"/>
<polyline points="670.0,462.8 670.8,462.2 671.6,461.7 672.4,461.4 673.2,461.3 674.0,461.4 674.8,461.6 675.6,462.1 676.4,462.6 677.2,463.4 678.0,464.2 678.8,465.2 679.6,466.3 680.4,467.3 681.2,468.5 682.0,469.5 682.8,470.6 683.6,471.6 684.4,472.4 685.2,473.2 686.0,473.7 686.8,474.2 687.6,474.4 688.4,474.5 689.2,474.4 690.0,474.1 690.8,473.6 691.6,473.0 692.4,472.2 693.2,471.3 694.0,470.3 694.8,469.3 695.6,468.2 696.4,467.1 697.2,466.0 698.0,465.0 698.8,464.0 699.6,463.2 700.4,462.5 701.2,461.9 702.0,461.5 702.8,461.3 703.6,461.3 704.4,461.5 705.2,461.8 706.0,462.3 706.8,463.0 707.6,463.8 708.4,464.7 709.2,465.7 710.0,466.8 710.8,467.9 711.6,469.0 712.4,470.1 713.2,471.1 714.0,472.0 714.8,472.8 715.6,473.5 716.4,474.0 717.2,474.3 718.0,474.5 718.8,474.5 719.6,474.3 720.4,473.9 721.2,473.3 722.0,472.6 722.8,471.8 723.6,470.8 724.4,469.8 725.2,468.7 726.0,467.6 726.8,466.5 727.6,465.5 728.4,464.5 729.2,463.6 730.0,462.8 730.8,462.2 731.6,461.7 732.4,461.4 733.2,461.3 734.0,461.4 734.8,461.6 735.6,462.1 736.4,462.6 737.2,463.4 738.0,464.2 738.8,465.2 739.6,466.3 740.4,467.3 741.2,468.5 742.0,469.5 742.8,470.6 743.6,471.6 744.4,472.4 745.2,473.2 746.0,473.7" fill="none" stroke="#1A5C90" stroke-width="3.2"/>
<polyline points="670.0,474.1 670.8,473.6 671.6,473.0 672.4,472.2 673.2,471.3 674.0,470.3 674.8,469.3 675.6,468.2 676.4,467.1 677.2,466.0 678.0,465.0 678.8,464.0 679.6,463.2 680.4,462.5 681.2,461.9 682.0,461.5 682.8,461.3 683.6,461.3 684.4,461.5 685.2,461.8 686.0,462.3 686.8,463.0 687.6,463.8 688.4,464.7 689.2,465.7 690.0,466.8 690.8,467.9 691.6,469.0 692.4,470.1 693.2,471.1 694.0,472.0 694.8,472.8 695.6,473.5 696.4,474.0 697.2,474.3 698.0,474.5 698.8,474.5 699.6,474.3 700.4,473.9 701.2,473.3 702.0,472.6 702.8,471.8 703.6,470.8 704.4,469.8 705.2,468.7 706.0,467.6 706.8,466.5 707.6,465.5 708.4,464.5 709.2,463.6 710.0,462.8 710.8,462.2 711.6,461.7 712.4,461.4 713.2,461.3 714.0,461.4 714.8,461.6 715.6,462.1 716.4,462.6 717.2,463.4 718.0,464.2 718.8,465.2 719.6,466.3 720.4,467.3 721.2,468.5 722.0,469.5 722.8,470.6 723.6,471.6 724.4,472.4 725.2,473.2 726.0,473.7 726.8,474.2 727.6,474.4 728.4,474.5 729.2,474.4 730.0,474.1 730.8,473.6 731.6,473.0 732.4,472.2 733.2,471.3 734.0,470.3 734.8,469.3 735.6,468.2 736.4,467.1 737.2,466.0 738.0,465.0 738.8,464.0 739.6,463.2 740.4,462.5 741.2,461.9 742.0,461.5 742.8,461.3 743.6,461.3 744.4,461.5 745.2,461.8 746.0,462.3" fill="none" stroke="#CC1A24" stroke-width="3.2"/>
<rect x="616" y="453.3" width="54.5" height="27.4" fill="#4A68A6"/>
<text x="628.2" y="471.9" font-size="13" fill="#fff" font-weight="bold" font-style="normal" text-anchor="start" textLength="29.8" lengthAdjust="spacingAndGlyphs" >ARE1</text>
<path d="M652,453 V400.8 H686" fill="none" stroke="#1E1E1E" stroke-width="2"/>
<path d="M693.5,400.8 L685,396.3 L685,405.3Z" fill="#1E1E1E"/>
<rect x="697.7" y="365.3" width="151.3" height="68.8" fill="#EDF1FA" stroke="#A4B6DE" stroke-width="2"/>
<circle cx="709.8" cy="376.90000000000003" r="1.5" fill="#111"/>
<text x="716" y="381.3" font-size="12.5" fill="#111" font-weight="bold" font-style="normal" text-anchor="start" textLength="109.3" lengthAdjust="spacingAndGlyphs" >Anti-redox activity</text>
<circle cx="709.8" cy="392.0" r="1.5" fill="#111"/>
<text x="716" y="396.4" font-size="12.5" fill="#111" font-weight="bold" font-style="normal" text-anchor="start" textLength="110.5" lengthAdjust="spacingAndGlyphs" >ROS detoxification</text>
<circle cx="709.8" cy="406.8" r="1.5" fill="#111"/>
<text x="716" y="411.2" font-size="12.5" fill="#111" font-weight="bold" font-style="normal" text-anchor="start" textLength="123.8" lengthAdjust="spacingAndGlyphs" >NADPH regeneration</text>
<circle cx="709.8" cy="422.0" r="1.5" fill="#111"/>
<text x="716" y="426.4" font-size="12.5" fill="#111" font-weight="bold" font-style="normal" text-anchor="start" textLength="96.7" lengthAdjust="spacingAndGlyphs" >Iron metabolism</text>
<path d="M357,132 C352,105 400,88 440,89 C480,90 510,110 509,134 C508,156 480,162 462,160 C445,158 440,150 420,154 C400,158 385,162 372,156 C362,151 358,142 357,132Z" fill="#C5C6C8" stroke="#8E8E92" stroke-width="1.6"/>
<path d="M366,131 C364,112 400,98 440,98 C476,98 500,114 499,134 C498,150 478,154 462,151 C448,149 438,143 420,146 C402,149 388,154 377,150 C369,146 367,139 366,131Z" fill="#EDEDEE" stroke="#B8B8BC" stroke-width="1"/>
<line x1="384" y1="150" x2="384" y2="126" stroke="#C5C6C8" stroke-width="6" stroke-linecap="round"/>
<line x1="398" y1="98" x2="398" y2="122" stroke="#C5C6C8" stroke-width="6" stroke-linecap="round"/>
<line x1="414" y1="150" x2="414" y2="128" stroke="#C5C6C8" stroke-width="6" stroke-linecap="round"/>
<line x1="430" y1="98" x2="430" y2="120" stroke="#C5C6C8" stroke-width="6" stroke-linecap="round"/>
<line x1="446" y1="147" x2="446" y2="124" stroke="#C5C6C8" stroke-width="6" stroke-linecap="round"/>
<line x1="462" y1="98" x2="462" y2="118" stroke="#C5C6C8" stroke-width="6" stroke-linecap="round"/>
<line x1="476" y1="150" x2="476" y2="128" stroke="#C5C6C8" stroke-width="6" stroke-linecap="round"/>
<line x1="490" y1="108" x2="490" y2="124" stroke="#C5C6C8" stroke-width="6" stroke-linecap="round"/>
<path d="M379.6,91.8 L396.1,131.2 L388.2,131.2 L388.2,154 L371,154 L371,131.2 L363.4,131.2Z" fill="#CD4A4E" stroke="#B23A3E" stroke-width="1"/>
<polygon points="432.6,84.7 439.1,103.1 452,93.4 449.3,109.0 468.4,104.4 454.5,119.6 472,131.2 452.2,130.6 454.7,140.6 444.8,137.9 442.9,153.7 431.8,141.2 422.4,146.9 419.7,137.5 402,147.7 412.7,130.0 397.2,128 410.7,120.2 393.3,108.3 414.1,111.1 408.2,95.7 424.5,103.6" fill="#CC4548" stroke="#8A2028" stroke-width="1.5" stroke-linejoin="miter"/>
<text x="420" y="126.4" font-size="13" fill="#fff" font-weight="bold" font-style="normal" text-anchor="start" textLength="25.5" lengthAdjust="spacingAndGlyphs" >ROS</text>
<defs><linearGradient id="bdg" gradientUnits="userSpaceOnUse" x1="250" y1="150" x2="300" y2="100"><stop offset="0" stop-color="#2E6DB4" stop-opacity="0.1"/><stop offset="1" stop-color="#2E6DB4"/></linearGradient></defs>
<path d="M250,147 C268,112 298,99 322,99.5 C332,100 338,103 344.2,106.5" fill="none" stroke="url(#bdg)" stroke-width="2.6" stroke-dasharray="5.5 4.5"/>
<path d="M354.5,110.5 L342,112.1 L346.4,100.9Z" fill="#2E6DB4"/>
<path d="M435.2,161.7 C455,205 495,245 572,248" fill="none" stroke="#7A7C80" stroke-width="2.2" stroke-dasharray="5 4.5"/>
<path d="M583.5,248 L572.5,242.5 L572.5,253.5Z" fill="#7A7C80"/>
<path d="M690.6,273.2 C640,268 560,272 507.8,310.7 L454.6,356.1" fill="none" stroke="#7A7C80" stroke-width="2.2" stroke-dasharray="5 4.5"/>
<line x1="446" y1="350" x2="455" y2="362" stroke="#7A7C80" stroke-width="2.2"/>
<path d="M697,279.6 C680,320 655,375 630,433" fill="none" stroke="#7A7C80" stroke-width="2.2" stroke-dasharray="5 4.5"/>
<path d="M624.4,445 L623.5,432 L634,436.5Z" fill="#7A7C80"/>
<path d="M606.5,142 C604,168 607,186 600,202 C592,220 592,244 628,244 C663,244 664,220 656,202 C649,186 651,168 650,142 Z" fill="#F6E5A6" stroke="#E8C84C" stroke-width="1.6"/>
<rect x="603" y="100" width="90" height="47.5" rx="23.7" fill="#FFF8EE" stroke="#E8832A" stroke-width="3"/>
<text x="617.8" y="130.8" font-size="20.5" fill="#E07D2A" font-weight="normal" font-style="normal" text-anchor="start" textLength="61.6" lengthAdjust="spacingAndGlyphs" >Cullin3</text>
<text x="604" y="227.3" font-size="14.5" fill="#8C8677" font-weight="bold" font-style="normal" text-anchor="start" textLength="43.5" lengthAdjust="spacingAndGlyphs" >KEAP1</text>
<g fill="#3B8A58"><circle cx="713.2" cy="176.0" r="7.6"/><circle cx="723.3" cy="177.2" r="8.2"/><circle cx="733.3" cy="183.4" r="7.800000000000001"/><circle cx="738.2" cy="194.0" r="8.3"/><circle cx="737.3" cy="202.6" r="8.4"/><circle cx="737.0" cy="209.9" r="7.199999999999999"/><circle cx="736.0" cy="217.2" r="7.1"/><circle cx="733.0" cy="222.9" r="8.8"/><circle cx="733.7" cy="227.7" r="7.6"/><circle cx="736.1" cy="233.6" r="7.6"/><circle cx="737.4" cy="239.3" r="9.1"/><circle cx="739.2" cy="247.1" r="8.0"/><circle cx="739.6" cy="253.8" r="8.8"/><circle cx="740.7" cy="262.0" r="8.1"/><circle cx="735.2" cy="271.6" r="8.4"/><circle cx="727.7" cy="272.5" r="7.4"/><circle cx="720.0" cy="271.6" r="8.4"/><circle cx="713.4" cy="270.0" r="8.8"/><circle cx="706.6" cy="269.7" r="8.1"/><circle cx="701.3" cy="256.7" r="8.6"/><circle cx="702.2" cy="249.0" r="8.4"/><circle cx="702.5" cy="242.4" r="7.199999999999999"/><circle cx="704.9" cy="234.5" r="8.6"/><circle cx="705.3" cy="228.8" r="8.3"/><circle cx="704.7" cy="223.6" r="7.699999999999999"/><circle cx="703.2" cy="217.8" r="7.199999999999999"/><circle cx="705.6" cy="213.0" r="8.8"/><circle cx="705.7" cy="206.1" r="8.0"/><circle cx="709.2" cy="194.0" r="8.5"/><circle cx="711.2" cy="185.9" r="8.9"/></g><polygon points="713.2,172.0 723.4,172.5 733.6,178.9 739.5,189.0 740.0,214.8 738.7,229.5 741.2,244.2 741.2,266.3 735.3,276.0 720.0,276.4 706.4,274.1 700.0,261.7 700.5,238.7 699.2,215.7 703.0,201.0 708.1,188.1" fill="#3B8A58" stroke="#3B8A58" stroke-width="3.2" stroke-linejoin="round"/><polygon points="713.2,172.0 723.4,172.5 733.6,178.9 739.5,189.0 740.0,214.8 738.7,229.5 741.2,244.2 741.2,266.3 735.3,276.0 720.0,276.4 706.4,274.1 700.0,261.7 700.5,238.7 699.2,215.7 703.0,201.0 708.1,188.1" fill="#5BB083"/><g fill="#5BB083"><circle cx="713.2" cy="176.0" r="6.0"/><circle cx="723.3" cy="177.2" r="6.6"/><circle cx="733.3" cy="183.4" r="6.2"/><circle cx="738.2" cy="194.0" r="6.7"/><circle cx="737.3" cy="202.6" r="6.8"/><circle cx="737.0" cy="209.9" r="5.6"/><circle cx="736.0" cy="217.2" r="5.5"/><circle cx="733.0" cy="222.9" r="7.2"/><circle cx="733.7" cy="227.7" r="6.0"/><circle cx="736.1" cy="233.6" r="6.0"/><circle cx="737.4" cy="239.3" r="7.5"/><circle cx="739.2" cy="247.1" r="6.4"/><circle cx="739.6" cy="253.8" r="7.2"/><circle cx="740.7" cy="262.0" r="6.5"/><circle cx="735.2" cy="271.6" r="6.8"/><circle cx="727.7" cy="272.5" r="5.8"/><circle cx="720.0" cy="271.6" r="6.8"/><circle cx="713.4" cy="270.0" r="7.2"/><circle cx="706.6" cy="269.7" r="6.5"/><circle cx="701.3" cy="256.7" r="7.0"/><circle cx="702.2" cy="249.0" r="6.8"/><circle cx="702.5" cy="242.4" r="5.6"/><circle cx="704.9" cy="234.5" r="7.0"/><circle cx="705.3" cy="228.8" r="6.7"/><circle cx="704.7" cy="223.6" r="6.1"/><circle cx="703.2" cy="217.8" r="5.6"/><circle cx="705.6" cy="213.0" r="7.2"/><circle cx="705.7" cy="206.1" r="6.4"/><circle cx="709.2" cy="194.0" r="6.9"/><circle cx="711.2" cy="185.9" r="7.3"/></g><defs><clipPath id="nrfA"><circle cx="713.2" cy="176.0" r="6.0"/><circle cx="723.3" cy="177.2" r="6.6"/><circle cx="733.3" cy="183.4" r="6.2"/><circle cx="738.2" cy="194.0" r="6.7"/><circle cx="737.3" cy="202.6" r="6.8"/><circle cx="737.0" cy="209.9" r="5.6"/><circle cx="736.0" cy="217.2" r="5.5"/><circle cx="733.0" cy="222.9" r="7.2"/><circle cx="733.7" cy="227.7" r="6.0"/><circle cx="736.1" cy="233.6" r="6.0"/><circle cx="737.4" cy="239.3" r="7.5"/><circle cx="739.2" cy="247.1" r="6.4"/><circle cx="739.6" cy="253.8" r="7.2"/><circle cx="740.7" cy="262.0" r="6.5"/><circle cx="735.2" cy="271.6" r="6.8"/><circle cx="727.7" cy="272.5" r="5.8"/><circle cx="720.0" cy="271.6" r="6.8"/><circle cx="713.4" cy="270.0" r="7.2"/><circle cx="706.6" cy="269.7" r="6.5"/><circle cx="701.3" cy="256.7" r="7.0"/><circle cx="702.2" cy="249.0" r="6.8"/><circle cx="702.5" cy="242.4" r="5.6"/><circle cx="704.9" cy="234.5" r="7.0"/><circle cx="705.3" cy="228.8" r="6.7"/><circle cx="704.7" cy="223.6" r="6.1"/><circle cx="703.2" cy="217.8" r="5.6"/><circle cx="705.6" cy="213.0" r="7.2"/><circle cx="705.7" cy="206.1" r="6.4"/><circle cx="709.2" cy="194.0" r="6.9"/><circle cx="711.2" cy="185.9" r="7.3"/><polygon points="713.2,172.0 723.4,172.5 733.6,178.9 739.5,189.0 740.0,214.8 738.7,229.5 741.2,244.2 741.2,266.3 735.3,276.0 720.0,276.4 706.4,274.1 700.0,261.7 700.5,238.7 699.2,215.7 703.0,201.0 708.1,188.1"/></clipPath></defs><g fill="#78C098" opacity="0.75" clip-path="url(#nrfA)"><circle cx="715" cy="175" r="7"/><circle cx="732" cy="182" r="8"/><circle cx="712" cy="186" r="8"/><circle cx="728" cy="198" r="9"/><circle cx="740" cy="215" r="6"/><circle cx="703" cy="223" r="5"/><circle cx="707" cy="236" r="9"/><circle cx="712" cy="248" r="8"/><circle cx="735" cy="247" r="8"/><circle cx="708" cy="262" r="7"/><circle cx="731" cy="268" r="8"/><circle cx="738" cy="260" r="4"/></g>
<text x="700.1" y="212.8" font-size="13.5" fill="#111" font-weight="bold" font-style="normal" text-anchor="start" textLength="35.8" lengthAdjust="spacingAndGlyphs" >NRF2</text>
<rect x="900.7" y="130" width="90" height="47" rx="23.5" fill="#FFF8EE" stroke="#E8832A" stroke-width="3"/>
<text x="916.4" y="160.5" font-size="20.5" fill="#E07D2A" font-weight="normal" font-style="normal" text-anchor="start" textLength="60.4" lengthAdjust="spacingAndGlyphs" >Cullin3</text>
<line x1="987" y1="214" x2="996" y2="213" stroke="#555" stroke-width="1.5"/>
<circle cx="1008" cy="213" r="12.6" fill="#B5338F" stroke="#7A1D5E" stroke-width="1.3"/>
<circle cx="1020" cy="224.7" r="12.6" fill="#B5338F" stroke="#7A1D5E" stroke-width="1.3"/>
<circle cx="1031" cy="236" r="12.6" fill="#B5338F" stroke="#7A1D5E" stroke-width="1.3"/>
<text x="1008" y="217" font-size="11" fill="#fff" font-weight="normal" font-style="normal" text-anchor="middle" >Ub</text>
<text x="1020" y="228.7" font-size="11" fill="#fff" font-weight="normal" font-style="normal" text-anchor="middle" >Ub</text>
<text x="1031" y="240" font-size="11" fill="#fff" font-weight="normal" font-style="normal" text-anchor="middle" >Ub</text>
<defs><radialGradient id="hl" cx="0.38" cy="0.32" r="0.7"><stop offset="0" stop-color="#fff" stop-opacity="0.28"/><stop offset="0.45" stop-color="#fff" stop-opacity="0"/><stop offset="0.85" stop-color="#000" stop-opacity="0"/><stop offset="1" stop-color="#000" stop-opacity="0.18"/></radialGradient></defs>
<circle cx="924.5" cy="272" r="9" fill="#2EAEE0" stroke="#1C86B4" stroke-width="1"/><circle cx="924.5" cy="272" r="9" fill="url(#hl)"/>
<circle cx="939.3" cy="276.6" r="9.2" fill="#2C4F80" stroke="#1E3658" stroke-width="1"/><circle cx="939.3" cy="276.6" r="9.2" fill="url(#hl)"/>
<circle cx="957.6" cy="276" r="9.2" fill="#2C4F80" stroke="#1E3658" stroke-width="1"/><circle cx="957.6" cy="276" r="9.2" fill="url(#hl)"/>
<rect x="926" y="279.7" width="46" height="20" fill="#164E7A"/>
<rect x="926" y="295" width="46" height="20" fill="#1E3658"/>
<rect x="926" y="311" width="46" height="20" fill="#C04E50"/>
<rect x="926" y="327" width="46" height="20" fill="#C04E50"/>
<rect x="926" y="342.9" width="46" height="20" fill="#1E3658"/>
<rect x="926" y="358" width="46" height="20" fill="#164E7A"/>
<circle cx="921.6" cy="283.7" r="9.2" fill="#1E6EA8" stroke="#164E7A" stroke-width="1"/><circle cx="921.6" cy="283.7" r="9.2" fill="url(#hl)"/>
<circle cx="976.4" cy="283.7" r="9.2" fill="#1E6EA8" stroke="#164E7A" stroke-width="1"/><circle cx="976.4" cy="283.7" r="9.2" fill="url(#hl)"/>
<circle cx="921.6" cy="299" r="9.2" fill="#2C4F80" stroke="#1E3658" stroke-width="1"/><circle cx="921.6" cy="299" r="9.2" fill="url(#hl)"/>
<circle cx="976.4" cy="299" r="9.2" fill="#2C4F80" stroke="#1E3658" stroke-width="1"/><circle cx="976.4" cy="299" r="9.2" fill="url(#hl)"/>
<circle cx="921.6" cy="315" r="9.2" fill="#E06A6A" stroke="#C04E50" stroke-width="1"/><circle cx="921.6" cy="315" r="9.2" fill="url(#hl)"/>
<circle cx="976.4" cy="315" r="9.2" fill="#E06A6A" stroke="#C04E50" stroke-width="1"/><circle cx="976.4" cy="315" r="9.2" fill="url(#hl)"/>
<circle cx="921.6" cy="331" r="9.2" fill="#E06A6A" stroke="#C04E50" stroke-width="1"/><circle cx="921.6" cy="331" r="9.2" fill="url(#hl)"/>
<circle cx="976.4" cy="331" r="9.2" fill="#E06A6A" stroke="#C04E50" stroke-width="1"/><circle cx="976.4" cy="331" r="9.2" fill="url(#hl)"/>
<circle cx="921.6" cy="346.9" r="9.2" fill="#2C4F80" stroke="#1E3658" stroke-width="1"/><circle cx="921.6" cy="346.9" r="9.2" fill="url(#hl)"/>
<circle cx="976.4" cy="346.9" r="9.2" fill="#2C4F80" stroke="#1E3658" stroke-width="1"/><circle cx="976.4" cy="346.9" r="9.2" fill="url(#hl)"/>
<circle cx="921.6" cy="362" r="9.2" fill="#1E6EA8" stroke="#164E7A" stroke-width="1"/><circle cx="921.6" cy="362" r="9.2" fill="url(#hl)"/>
<circle cx="976.4" cy="362" r="9.2" fill="#1E6EA8" stroke="#164E7A" stroke-width="1"/><circle cx="976.4" cy="362" r="9.2" fill="url(#hl)"/>
<circle cx="932.8" cy="289.6" r="9.2" fill="#2596CC" stroke="#1A72A0" stroke-width="1"/><circle cx="932.8" cy="289.6" r="9.2" fill="url(#hl)"/>
<circle cx="964.4" cy="289.6" r="9.2" fill="#2596CC" stroke="#1A72A0" stroke-width="1"/><circle cx="964.4" cy="289.6" r="9.2" fill="url(#hl)"/>
<circle cx="948.8" cy="292" r="9.4" fill="#2EAEE0" stroke="#1C86B4" stroke-width="1"/><circle cx="948.8" cy="292" r="9.4" fill="url(#hl)"/>
<circle cx="932.8" cy="305.5" r="9.2" fill="#4A6AAE" stroke="#34508A" stroke-width="1"/><circle cx="932.8" cy="305.5" r="9.2" fill="url(#hl)"/>
<circle cx="964.4" cy="305.5" r="9.2" fill="#4A6AAE" stroke="#34508A" stroke-width="1"/><circle cx="964.4" cy="305.5" r="9.2" fill="url(#hl)"/>
<circle cx="948.8" cy="309.7" r="9.4" fill="#6A8CC8" stroke="#4E6EA8" stroke-width="1"/><circle cx="948.8" cy="309.7" r="9.4" fill="url(#hl)"/>
<circle cx="932.8" cy="320.9" r="9.2" fill="#F08A8A" stroke="#D86A6C" stroke-width="1"/><circle cx="932.8" cy="320.9" r="9.2" fill="url(#hl)"/>
<circle cx="964.4" cy="320.9" r="9.2" fill="#F08A8A" stroke="#D86A6C" stroke-width="1"/><circle cx="964.4" cy="320.9" r="9.2" fill="url(#hl)"/>
<circle cx="948.8" cy="325" r="9.4" fill="#F8AEAE" stroke="#E08A8C" stroke-width="1"/><circle cx="948.8" cy="325" r="9.4" fill="url(#hl)"/>
<circle cx="932.8" cy="336.3" r="9.2" fill="#F08A8A" stroke="#D86A6C" stroke-width="1"/><circle cx="932.8" cy="336.3" r="9.2" fill="url(#hl)"/>
<circle cx="964.4" cy="336.3" r="9.2" fill="#F08A8A" stroke="#D86A6C" stroke-width="1"/><circle cx="964.4" cy="336.3" r="9.2" fill="url(#hl)"/>
<circle cx="948.8" cy="341.6" r="9.4" fill="#F8AEAE" stroke="#E08A8C" stroke-width="1"/><circle cx="948.8" cy="341.6" r="9.4" fill="url(#hl)"/>
<circle cx="932.8" cy="353.4" r="9.2" fill="#4A6AAE" stroke="#34508A" stroke-width="1"/><circle cx="932.8" cy="353.4" r="9.2" fill="url(#hl)"/>
<circle cx="964.4" cy="353.4" r="9.2" fill="#4A6AAE" stroke="#34508A" stroke-width="1"/><circle cx="964.4" cy="353.4" r="9.2" fill="url(#hl)"/>
<circle cx="948.8" cy="357" r="9.4" fill="#6A8CC8" stroke="#4E6EA8" stroke-width="1"/><circle cx="948.8" cy="357" r="9.4" fill="url(#hl)"/>
<circle cx="932.8" cy="369.4" r="9.2" fill="#2596CC" stroke="#1A72A0" stroke-width="1"/><circle cx="932.8" cy="369.4" r="9.2" fill="url(#hl)"/>
<circle cx="964.4" cy="369.4" r="9.2" fill="#2596CC" stroke="#1A72A0" stroke-width="1"/><circle cx="964.4" cy="369.4" r="9.2" fill="url(#hl)"/>
<circle cx="948.8" cy="371.8" r="9.4" fill="#2EAEE0" stroke="#1C86B4" stroke-width="1"/><circle cx="948.8" cy="371.8" r="9.4" fill="url(#hl)"/>
<circle cx="976" cy="373.5" r="8.8" fill="#2AA8DC" stroke="#1C86B4" stroke-width="1"/><circle cx="976" cy="373.5" r="8.8" fill="url(#hl)"/>
<circle cx="968.3" cy="383" r="9" fill="#32B4E4" stroke="#1E8EBE" stroke-width="1"/><circle cx="968.3" cy="383" r="9" fill="url(#hl)"/>
<circle cx="957.6" cy="391.3" r="9.2" fill="#3CBDE8" stroke="#2096C6" stroke-width="1"/><circle cx="957.6" cy="391.3" r="9.2" fill="url(#hl)"/>
<g fill="#3B8A58"><circle cx="960.3" cy="171.7" r="7.0"/><circle cx="969.4" cy="172.0" r="6.800000000000001"/><circle cx="978.2" cy="179.0" r="7.300000000000001"/><circle cx="983.0" cy="188.7" r="6.9"/><circle cx="982.4" cy="197.1" r="6.699999999999999"/><circle cx="981.0" cy="205.7" r="7.300000000000001"/><circle cx="978.9" cy="213.1" r="8.3"/><circle cx="977.3" cy="222.3" r="8.0"/><circle cx="982.1" cy="234.4" r="8.0"/><circle cx="984.1" cy="245.7" r="7.0"/><circle cx="984.8" cy="256.4" r="7.6"/><circle cx="980.1" cy="266.6" r="7.1"/><circle cx="973.2" cy="266.8" r="6.9"/><circle cx="966.3" cy="267.1" r="6.800000000000001"/><circle cx="954.2" cy="264.8" r="7.0"/><circle cx="949.7" cy="250.9" r="8.3"/><circle cx="950.5" cy="243.4" r="8.1"/><circle cx="951.6" cy="236.0" r="8.1"/><circle cx="953.0" cy="229.1" r="8.0"/><circle cx="952.9" cy="223.8" r="6.9"/><circle cx="953.2" cy="218.6" r="7.199999999999999"/><circle cx="952.7" cy="213.5" r="7.699999999999999"/><circle cx="953.4" cy="208.2" r="7.9"/><circle cx="953.9" cy="202.0" r="8.1"/><circle cx="956.7" cy="189.6" r="8.2"/><circle cx="958.1" cy="179.9" r="6.800000000000001"/></g><polygon points="960.3,168.1 969.4,168.6 978.4,174.8 983.8,184.8 984.1,210.1 983.0,224.4 985.2,238.9 985.2,260.5 979.9,270.0 966.3,270.4 954.3,268.2 948.6,256.0 948.9,233.4 947.8,210.9 951.2,196.6 955.7,183.9" fill="#3B8A58" stroke="#3B8A58" stroke-width="3.2" stroke-linejoin="round"/><polygon points="960.3,168.1 969.4,168.6 978.4,174.8 983.8,184.8 984.1,210.1 983.0,224.4 985.2,238.9 985.2,260.5 979.9,270.0 966.3,270.4 954.3,268.2 948.6,256.0 948.9,233.4 947.8,210.9 951.2,196.6 955.7,183.9" fill="#5BB083"/><g fill="#5BB083"><circle cx="960.3" cy="171.7" r="5.4"/><circle cx="969.4" cy="172.0" r="5.2"/><circle cx="978.2" cy="179.0" r="5.7"/><circle cx="983.0" cy="188.7" r="5.3"/><circle cx="982.4" cy="197.1" r="5.1"/><circle cx="981.0" cy="205.7" r="5.7"/><circle cx="978.9" cy="213.1" r="6.7"/><circle cx="977.3" cy="222.3" r="6.4"/><circle cx="982.1" cy="234.4" r="6.4"/><circle cx="984.1" cy="245.7" r="5.4"/><circle cx="984.8" cy="256.4" r="6.0"/><circle cx="980.1" cy="266.6" r="5.5"/><circle cx="973.2" cy="266.8" r="5.3"/><circle cx="966.3" cy="267.1" r="5.2"/><circle cx="954.2" cy="264.8" r="5.4"/><circle cx="949.7" cy="250.9" r="6.7"/><circle cx="950.5" cy="243.4" r="6.5"/><circle cx="951.6" cy="236.0" r="6.5"/><circle cx="953.0" cy="229.1" r="6.4"/><circle cx="952.9" cy="223.8" r="5.3"/><circle cx="953.2" cy="218.6" r="5.6"/><circle cx="952.7" cy="213.5" r="6.1"/><circle cx="953.4" cy="208.2" r="6.3"/><circle cx="953.9" cy="202.0" r="6.5"/><circle cx="956.7" cy="189.6" r="6.6"/><circle cx="958.1" cy="179.9" r="5.2"/></g><defs><clipPath id="nrfB"><circle cx="960.3" cy="171.7" r="5.4"/><circle cx="969.4" cy="172.0" r="5.2"/><circle cx="978.2" cy="179.0" r="5.7"/><circle cx="983.0" cy="188.7" r="5.3"/><circle cx="982.4" cy="197.1" r="5.1"/><circle cx="981.0" cy="205.7" r="5.7"/><circle cx="978.9" cy="213.1" r="6.7"/><circle cx="977.3" cy="222.3" r="6.4"/><circle cx="982.1" cy="234.4" r="6.4"/><circle cx="984.1" cy="245.7" r="5.4"/><circle cx="984.8" cy="256.4" r="6.0"/><circle cx="980.1" cy="266.6" r="5.5"/><circle cx="973.2" cy="266.8" r="5.3"/><circle cx="966.3" cy="267.1" r="5.2"/><circle cx="954.2" cy="264.8" r="5.4"/><circle cx="949.7" cy="250.9" r="6.7"/><circle cx="950.5" cy="243.4" r="6.5"/><circle cx="951.6" cy="236.0" r="6.5"/><circle cx="953.0" cy="229.1" r="6.4"/><circle cx="952.9" cy="223.8" r="5.3"/><circle cx="953.2" cy="218.6" r="5.6"/><circle cx="952.7" cy="213.5" r="6.1"/><circle cx="953.4" cy="208.2" r="6.3"/><circle cx="953.9" cy="202.0" r="6.5"/><circle cx="956.7" cy="189.6" r="6.6"/><circle cx="958.1" cy="179.9" r="5.2"/><polygon points="960.3,168.1 969.4,168.6 978.4,174.8 983.8,184.8 984.1,210.1 983.0,224.4 985.2,238.9 985.2,260.5 979.9,270.0 966.3,270.4 954.3,268.2 948.6,256.0 948.9,233.4 947.8,210.9 951.2,196.6 955.7,183.9"/></clipPath></defs><g fill="#78C098" opacity="0.75" clip-path="url(#nrfB)"><circle cx="961.9" cy="171.0" r="6.3"/><circle cx="977.1" cy="177.9" r="7.2"/><circle cx="959.3" cy="181.8" r="7.2"/><circle cx="973.5" cy="193.6" r="8.1"/><circle cx="984.2" cy="210.2" r="5.4"/><circle cx="951.3" cy="218.1" r="4.5"/><circle cx="954.8" cy="230.8" r="8.1"/><circle cx="959.3" cy="242.6" r="7.2"/><circle cx="979.7" cy="241.6" r="7.2"/><circle cx="955.7" cy="256.3" r="6.3"/><circle cx="976.2" cy="262.2" r="7.2"/><circle cx="982.4" cy="254.3" r="3.6"/></g>
<text x="945.4" y="208.8" font-size="13.5" fill="#2F4F3F" font-weight="bold" font-style="normal" text-anchor="start" textLength="34.8" lengthAdjust="spacingAndGlyphs" >NRF2</text>
<path d="M901,178 C899,163 908,161 923,161 C938,161 946,163 945,178 C944,198 946,214 951,228 C958,250 956,269 923,269 C890,269 889,250 895,228 C900,212 902,198 901,178 Z" fill="#F6E5A6" stroke="#E8C84C" stroke-width="1.6"/>
<text x="896.5" y="252" font-size="13.5" fill="#222" font-weight="bold" font-style="normal" text-anchor="start" textLength="44" lengthAdjust="spacingAndGlyphs" >KEAP1</text>
<g fill="#3C9A48" stroke="#2A6A34" stroke-width="1.1" stroke-linejoin="round"><path d="M905,401 C904,394 909,386 914,387 C917,391 916,399 912,402 Z"/><path d="M933,402 C932,396 935,389 940,388 C942,392 939,398 935,403Z"/><path d="M936,408 C940,407 946,409 948,412 C945,415 941,418 939,420 C937,416 936,412 936,408Z"/><path d="M925,416 C915,413 910,420 911,426 C912,432 920,434 926,431 C920,428 918,421 925,416Z"/><path d="M950,416 C957,416 962,422 960,429 C958,434 950,435 946,431 C951,428 952,421 950,416Z"/><path d="M928,437 C931,432 937,430 940,433 C939,438 933,440 928,437Z"/><path d="M891,447 C893,443 898,442 900,443 C900,448 897,451 892,450Z"/><path d="M916,452 C915,446 918,440 922,440 C923,445 920,451 917,453Z"/></g>
<g fill="#8CB89A" opacity="0.85"><path d="M920,405 C925,404 931,408 932,413 C927,413 922,410 920,405Z"/><path d="M895,418 L904,419 L899,425Z"/><path d="M969,429 L973,419 L976,429Z"/><path d="M935,456 L939,449 L943,456Z"/><path d="M960,456 C962,452 967,451 970,452 L967,458Z"/></g>
<text x="877.2" y="472.2" font-size="15.5" fill="#111" font-weight="bold" font-style="normal" text-anchor="start" textLength="113.1" lengthAdjust="spacingAndGlyphs" >Degraded NRF2</text>
<text x="45.8" y="649.4" font-size="20" fill="#C8393B" font-weight="bold" font-style="italic" text-anchor="start" textLength="298" lengthAdjust="spacingAndGlyphs" >STK11-wt or KEAP1-wt context:</text>
<text x="691.4" y="650.8" font-size="20" fill="#9DB2D9" font-weight="bold" font-style="italic" text-anchor="start" textLength="327" lengthAdjust="spacingAndGlyphs" >STK11-mut or KEAP1-mut context:</text>
<g opacity="0.8"><path d="M356.6,736.5L355.2,737.6L353.8,738.5L353.1,739.5L352.9,740.5L353.0,741.5L353.4,742.7L354.3,744.0L354.8,745.3L354.4,746.3L353.0,747.0L351.8,747.6L351.0,748.3L350.4,749.2L349.9,750.0L349.3,750.9L348.9,751.8L348.8,753.0L348.7,754.3L348.0,755.2L346.6,755.3L345.2,755.4L344.2,755.7L343.3,756.2L342.6,756.9L342.2,758.1L342.0,759.7L341.5,760.9L340.2,760.9L338.7,760.2L337.5,759.8L336.4,759.8L335.5,760.1L334.5,760.3L333.6,760.5L332.6,760.7L331.7,761.0L330.8,761.7L329.9,762.9L328.9,763.7L327.8,763.4L326.8,762.4L325.8,761.6L324.9,761.2L323.9,761.3L322.8,761.7L321.5,762.6L320.3,763.0L319.4,762.4L318.8,761.0L318.1,759.8L317.4,759.1L316.6,758.5L315.8,758.0L315.0,757.4L314.2,756.8L313.3,756.4L312.1,756.4L310.6,756.6L309.5,756.2L309.3,755.0L309.3,753.6L309.0,752.5L308.0,752.1L306.3,752.1L304.4,752.2L303.5,751.4L304.0,749.8L304.6,748.3L304.7,747.1L304.4,746.2L304.0,745.3L303.6,744.4L303.3,743.4L303.0,742.5L302.7,741.5L302.1,740.6L300.9,739.7L299.4,738.7L298.9,737.6L299.8,736.5L301.2,735.5L302.1,734.5L302.5,733.5L302.6,732.5L302.8,731.5L303.0,730.5L303.3,729.6L303.4,728.6L303.4,727.5L303.0,726.2L302.7,724.9L303.1,723.9L304.0,723.2L304.2,722.0L303.9,720.5L304.5,719.6L306.2,719.5L308.0,719.6L309.2,719.3L310.0,718.7L310.7,718.0L311.4,717.3L312.2,716.7L312.9,716.0L313.6,715.2L314.1,714.2L314.4,712.6L314.7,710.8L315.6,710.0L317.1,710.6L318.6,711.6L319.8,712.0L320.7,711.5L321.5,710.3L322.4,709.2L323.5,709.3L324.7,710.4L325.8,711.5L326.8,712.1L327.8,712.3L328.7,712.4L329.7,712.4L330.6,712.5L331.6,712.6L332.5,712.8L333.5,712.9L334.4,713.0L335.4,713.0L336.6,712.5L338.0,711.9L339.2,711.8L339.9,712.8L340.3,714.2L340.8,715.2L341.5,715.9L342.3,716.5L343.1,717.1L343.9,717.7L344.7,718.2L345.9,718.4L347.6,718.2L349.6,717.9L350.8,718.4L351.1,719.6L351.2,720.9L351.3,722.1L351.1,723.5L350.8,724.8L350.8,725.9L351.1,726.9L351.4,727.8L351.6,728.8L351.9,729.7L352.0,730.7L352.2,731.6L352.5,732.6L353.3,733.5L354.8,734.4L356.4,735.4Z" fill="#F0D0D0" stroke="#E8C0C0" stroke-width="0.5"/></g>
<g opacity="1"><path d="M269.3,764.8L270.6,766.3L269.6,767.7L268.2,769.0L267.7,770.4L267.6,771.8L267.3,773.1L267.0,774.5L266.6,775.9L266.2,777.2L265.7,778.5L265.7,780.1L266.8,782.2L266.8,783.9L264.5,784.3L262.5,784.7L261.4,785.7L260.5,786.8L259.6,787.9L258.7,788.9L257.7,789.9L256.7,790.9L255.7,791.8L254.6,792.7L253.5,793.5L252.5,794.5L252.0,796.4L251.7,799.0L250.2,799.3L247.9,797.9L246.1,797.5L244.8,797.8L243.6,798.7L242.7,800.6L241.5,802.1L239.8,801.2L238.2,800.2L236.8,800.1L235.4,800.3L234.0,800.5L232.6,801.0L231.1,802.2L229.6,802.7L228.3,801.5L227.0,800.3L225.7,799.7L224.3,799.2L223.0,798.7L221.6,798.5L219.9,799.2L218.2,799.6L217.4,797.7L216.9,795.6L216.0,794.5L214.9,793.7L213.8,792.9L212.8,792.1L211.7,791.3L210.6,790.5L209.6,789.7L208.4,789.0L206.5,788.9L204.4,788.9L203.9,787.4L204.2,785.4L203.8,784.0L203.1,782.9L202.4,781.7L201.7,780.5L201.1,779.3L200.6,778.1L200.1,776.8L199.6,775.5L199.2,774.2L198.7,772.9L197.5,771.8L195.5,770.7L195.0,769.3L196.5,767.6L197.4,766.2L197.5,764.8L197.5,763.4L197.2,762.0L196.2,760.5L195.3,758.9L196.5,757.6L198.1,756.5L198.9,755.3L199.0,753.9L198.2,752.1L197.9,750.4L199.5,749.5L201.3,748.8L202.2,747.8L202.8,746.6L203.5,745.3L204.1,744.1L204.8,742.9L205.5,741.6L205.8,740.1L205.5,737.7L205.9,735.9L207.9,735.9L209.9,735.9L211.2,735.3L212.4,734.5L213.6,733.8L214.9,733.1L216.2,732.6L217.5,732.1L218.9,731.7L220.3,731.3L221.6,731.1L223.0,730.8L224.4,730.6L225.7,730.2L226.9,728.9L228.1,726.9L229.6,727.0L231.2,728.5L232.6,727.8L234.1,726.1L235.6,727.2L236.8,729.4L238.1,730.3L239.4,730.7L240.7,731.0L242.0,731.4L243.3,731.8L244.6,732.3L245.8,732.8L247.1,733.4L248.3,734.0L249.6,734.5L251.4,734.1L253.6,733.3L254.7,734.3L254.8,736.7L255.3,738.2L256.3,739.2L257.5,739.9L259.6,739.9L261.7,740.0L261.8,741.7L261.2,744.0L261.5,745.5L262.0,746.8L262.6,748.0L263.1,749.3L263.5,750.5L263.9,751.8L264.3,753.1L264.9,754.3L266.3,755.3L268.4,756.2L268.6,757.6L267.2,759.3L266.6,760.8L266.8,762.1L267.6,763.4Z" fill="#DE9B9D" stroke="#C98084" stroke-width="0.9"/><path d="M250.7,770.0L250.7,771.1L250.6,772.2L250.4,773.3L250.1,774.4L249.6,775.4L249.0,776.3L248.2,777.1L247.2,777.8L246.3,778.3L245.4,778.8L244.5,779.3L243.8,780.0L243.0,780.7L242.2,781.4L241.2,782.0L240.2,782.4L239.1,782.4L238.0,782.1L237.0,781.6L236.1,780.9L235.2,780.3L234.4,779.8L233.6,779.5L232.6,779.4L231.5,779.2L230.4,779.0L229.4,778.6L228.4,778.0L227.7,777.2L227.2,776.3L226.8,775.2L226.5,774.2L226.3,773.1L226.0,772.1L225.8,771.1L225.7,770.0L225.7,768.9L225.8,767.8L226.1,766.8L226.4,765.8L226.9,764.8L227.3,763.8L227.8,762.8L228.3,761.8L228.9,760.9L229.7,760.1L230.7,759.5L231.8,759.2L232.9,759.1L234.1,759.3L235.2,759.4L236.2,759.5L237.1,759.5L238.0,759.2L239.0,758.8L240.0,758.5L241.1,758.3L242.2,758.4L243.2,758.8L244.1,759.5L244.8,760.3L245.4,761.2L245.9,762.1L246.5,762.9L247.2,763.6L248.0,764.3L248.7,765.0L249.5,765.8L250.0,766.8L250.4,767.8L250.7,768.9Z" fill="#CC8488" stroke="#C98084" stroke-width="0.6" stroke-opacity="0.5"/><circle cx="211.6" cy="769.8" r="0.9" fill="#C98084"/><circle cx="251.3" cy="787.0" r="0.9" fill="#C98084"/><circle cx="256.1" cy="765.8" r="0.9" fill="#C98084"/><circle cx="246.4" cy="754.5" r="0.9" fill="#C98084"/><circle cx="208.8" cy="756.4" r="0.9" fill="#C98084"/><circle cx="253.6" cy="770.3" r="0.9" fill="#C98084"/><circle cx="226.0" cy="743.0" r="0.9" fill="#C98084"/><circle cx="229.7" cy="746.7" r="0.9" fill="#C98084"/><circle cx="233.9" cy="782.4" r="0.9" fill="#C98084"/><circle cx="202.8" cy="763.7" r="0.9" fill="#C98084"/></g>
<g opacity="1"><path d="M334.3,752.7L334.5,754.2L335.9,755.9L336.6,757.6L334.7,758.9L332.9,760.2L332.3,761.6L331.8,763.0L331.4,764.4L331.0,765.8L330.9,767.4L332.0,769.6L332.6,771.6L330.4,772.3L328.5,773.0L328.1,774.5L328.9,777.1L328.7,778.9L326.1,778.9L324.0,779.2L322.8,780.1L321.6,781.1L320.4,782.0L319.2,782.8L317.9,783.6L316.5,784.3L315.2,785.0L313.8,785.6L312.5,786.2L311.3,787.2L310.5,789.1L309.2,790.2L307.3,789.2L305.5,788.7L304.1,789.0L302.9,790.2L301.7,792.8L300.2,792.9L298.4,790.7L296.9,789.8L295.4,789.7L294.0,789.6L292.5,789.5L291.1,789.3L289.6,789.1L288.2,788.9L286.8,788.6L285.3,788.4L283.7,788.6L281.6,790.0L279.7,790.7L278.9,788.6L278.1,786.7L276.8,786.0L275.4,785.3L274.1,784.6L272.8,783.8L271.5,783.0L270.4,782.0L269.3,781.0L268.2,779.9L267.0,779.0L264.7,778.9L262.7,778.5L263.1,776.1L263.7,773.9L263.2,772.4L262.6,771.1L261.9,769.8L261.2,768.5L260.5,767.1L259.7,765.9L258.1,764.8L255.9,763.8L255.9,762.2L257.0,760.3L257.1,758.8L256.8,757.3L256.5,755.8L256.4,754.2L256.1,752.7L255.2,751.1L253.5,749.4L254.1,747.8L256.1,746.5L257.1,745.1L257.5,743.6L258.0,742.1L258.4,740.7L259.0,739.3L259.6,737.9L260.1,736.4L259.7,734.5L258.5,732.0L259.7,730.8L262.3,730.6L262.9,729.1L263.6,727.7L265.7,727.3L267.4,726.8L268.7,726.0L269.9,725.1L271.1,724.2L272.3,723.4L273.5,722.6L274.8,721.9L276.1,721.1L277.3,720.4L278.6,719.7L279.9,719.0L281.1,718.3L282.3,717.1L283.1,715.0L284.5,714.0L286.3,715.0L288.0,715.3L289.4,714.7L290.7,712.6L292.1,710.6L293.8,712.2L295.4,714.2L296.9,714.8L298.4,715.1L299.8,715.4L301.2,715.8L302.7,716.2L304.1,716.6L305.5,717.1L307.0,717.0L309.1,715.7L311.0,715.1L311.6,717.5L312.3,719.5L313.5,720.3L314.8,721.0L316.1,721.7L317.4,722.4L318.7,723.2L320.2,723.7L322.6,723.3L324.6,723.5L324.6,725.7L324.6,727.8L325.4,729.1L326.3,730.2L327.3,731.4L329.1,732.0L331.7,732.4L332.3,733.9L331.3,736.2L331.3,737.8L331.9,739.2L332.5,740.6L333.1,742.1L333.5,743.6L333.9,745.0L334.1,746.6L334.3,748.1L334.4,749.6L334.4,751.2Z" fill="#DE9B9D" stroke="#C98084" stroke-width="0.9"/><path d="M300.7,760.8L300.6,762.0L300.5,763.1L300.3,764.3L300.2,765.5L299.9,766.7L299.5,767.8L298.9,768.9L298.1,769.9L297.1,770.6L296.0,771.2L294.9,771.7L293.9,772.3L293.0,772.9L292.0,773.7L291.0,774.7L289.9,775.6L288.7,776.3L287.3,776.7L285.9,776.6L284.6,776.1L283.4,775.2L282.4,774.2L281.5,773.3L280.6,772.4L279.6,771.7L278.6,771.2L277.5,770.6L276.5,769.9L275.5,769.0L274.8,768.0L274.4,766.8L274.1,765.6L274.0,764.4L274.0,763.1L274.0,762.0L274.0,760.8L274.1,759.6L274.3,758.5L274.6,757.4L275.0,756.3L275.5,755.3L276.1,754.3L276.6,753.3L277.0,752.2L277.5,751.0L278.1,749.8L278.8,748.6L279.7,747.6L280.8,746.9L282.1,746.6L283.5,746.6L284.8,746.8L286.1,747.1L287.3,747.3L288.5,747.3L289.7,747.1L291.0,746.9L292.4,746.8L293.8,746.9L295.0,747.4L296.1,748.2L296.9,749.3L297.5,750.6L297.9,751.9L298.3,753.1L298.7,754.2L299.1,755.3L299.6,756.3L300.1,757.4L300.4,758.5L300.6,759.6Z" fill="#C98488" stroke="#C98084" stroke-width="0.6" stroke-opacity="0.5"/><circle cx="273.0" cy="742.0" r="0.9" fill="#C98084"/><circle cx="276.6" cy="742.7" r="0.9" fill="#C98084"/><circle cx="307.4" cy="723.9" r="0.9" fill="#C98084"/><circle cx="283.6" cy="735.8" r="0.9" fill="#C98084"/><circle cx="272.3" cy="749.7" r="0.9" fill="#C98084"/><circle cx="295.4" cy="785.9" r="0.9" fill="#C98084"/><circle cx="314.1" cy="752.2" r="0.9" fill="#C98084"/><circle cx="313.0" cy="731.4" r="0.9" fill="#C98084"/><circle cx="278.8" cy="768.0" r="0.9" fill="#C98084"/><circle cx="283.9" cy="730.2" r="0.9" fill="#C98084"/></g>
<g opacity="1"><path d="M393.1,790.0L391.2,791.2L390.1,792.4L389.7,793.5L389.5,794.7L389.2,795.8L388.9,796.9L388.8,798.1L389.4,799.5L390.7,801.3L391.0,802.8L389.2,803.5L387.1,803.8L385.8,804.4L385.0,805.3L384.3,806.3L383.6,807.2L382.9,808.0L382.1,808.8L381.2,809.6L380.5,810.5L380.2,811.9L380.4,813.9L379.9,815.3L378.2,815.1L376.3,814.4L375.1,814.7L374.6,816.1L374.3,818.0L373.2,818.6L371.6,817.9L370.1,817.3L368.9,817.5L367.8,817.8L366.8,818.2L365.7,818.5L364.6,818.9L363.5,819.6L362.4,820.9L361.2,821.5L360.0,820.6L358.8,819.4L357.7,818.7L356.6,818.3L355.6,818.0L354.4,818.0L353.2,818.4L351.8,819.2L350.6,819.1L349.8,817.6L349.1,816.3L348.2,815.6L347.2,815.1L346.2,814.7L345.1,814.2L344.1,813.7L343.1,813.2L342.2,812.6L341.2,812.0L340.3,811.3L339.5,810.5L338.5,809.9L336.9,809.7L334.7,809.9L333.2,809.4L333.5,807.7L334.2,805.8L334.2,804.5L333.7,803.4L333.1,802.4L332.4,801.4L331.1,800.6L329.1,800.1L327.7,799.1L328.4,797.6L329.7,796.0L329.9,794.8L328.8,793.7L327.7,792.5L328.0,791.3L329.4,790.0L330.4,788.8L330.8,787.7L331.1,786.6L331.3,785.5L331.6,784.3L331.9,783.2L332.2,782.1L332.4,781.0L332.4,779.8L331.7,778.3L330.5,776.4L330.8,775.1L332.6,774.7L334.3,774.3L335.3,773.5L336.0,772.5L336.7,771.6L337.4,770.7L338.2,769.9L339.0,769.0L339.5,767.9L339.5,766.0L339.6,764.1L340.9,763.6L342.8,764.2L343.9,763.7L344.4,762.2L345.6,761.8L347.4,762.7L349.0,763.4L350.2,763.4L351.2,763.1L352.3,762.8L353.4,762.5L354.5,762.3L355.6,762.1L356.7,761.9L357.8,761.8L358.9,761.6L360.0,760.8L361.2,759.4L362.5,758.7L363.6,759.7L364.5,761.3L365.6,762.0L366.8,761.8L368.3,760.7L369.8,759.9L370.8,760.8L371.4,762.4L372.2,763.5L373.2,764.1L374.2,764.6L375.3,765.0L376.6,765.2L378.4,764.7L380.5,764.0L381.5,764.9L381.2,767.1L381.0,769.0L381.4,770.2L382.0,771.2L382.7,772.1L383.3,773.1L383.9,774.1L384.4,775.0L385.0,776.0L385.5,777.0L386.1,778.0L386.7,778.9L387.6,779.8L389.3,780.5L391.2,781.2L391.5,782.4L390.5,783.9L389.9,785.3L390.6,786.4L392.5,787.4L393.9,788.7Z" fill="#DE9B9D" stroke="#C98084" stroke-width="0.9"/><path d="M368.0,792.0L368.4,792.9L368.8,793.9L368.9,794.9L368.8,795.9L368.3,796.8L367.7,797.6L366.9,798.2L366.0,798.7L365.3,799.3L364.6,799.9L364.0,800.6L363.4,801.3L362.7,802.1L361.9,802.8L361.0,803.4L360.1,803.7L359.0,803.8L358.0,803.8L357.0,803.7L356.0,803.5L355.0,803.2L354.1,802.8L353.2,802.4L352.3,801.8L351.6,801.1L351.0,800.3L350.5,799.5L350.0,798.7L349.5,798.0L348.9,797.3L348.2,796.6L347.6,795.8L347.1,794.9L346.8,794.0L346.8,793.0L347.1,792.0L347.6,791.1L348.2,790.3L348.6,789.5L349.0,788.7L349.1,787.9L349.2,786.9L349.2,785.9L349.4,784.8L349.8,783.8L350.4,783.0L351.2,782.3L352.2,781.9L353.2,781.6L354.2,781.5L355.1,781.3L356.1,781.1L357.0,780.9L358.0,780.7L359.0,780.7L360.0,780.7L361.0,781.0L361.9,781.3L362.8,781.7L363.7,782.2L364.5,782.7L365.4,783.2L366.2,783.8L366.8,784.6L367.3,785.5L367.5,786.5L367.6,787.5L367.6,788.5L367.5,789.5L367.5,790.3L367.7,791.2Z" fill="#CC8A8C" stroke="#C98084" stroke-width="0.6" stroke-opacity="0.5"/><circle cx="340.3" cy="796.1" r="0.9" fill="#C98084"/><circle cx="377.4" cy="780.9" r="0.9" fill="#C98084"/><circle cx="339.1" cy="789.0" r="0.9" fill="#C98084"/><circle cx="368.0" cy="808.4" r="0.9" fill="#C98084"/><circle cx="344.3" cy="773.3" r="0.9" fill="#C98084"/><circle cx="375.0" cy="800.0" r="0.9" fill="#C98084"/><circle cx="379.5" cy="802.5" r="0.9" fill="#C98084"/><circle cx="354.6" cy="775.6" r="0.9" fill="#C98084"/></g>
<g opacity="1"><path d="M270.2,854.0L270.2,855.4L270.2,856.9L270.1,858.3L270.1,859.8L270.0,861.2L269.8,862.7L269.9,864.2L270.6,866.0L271.0,867.8L269.5,868.9L268.1,869.9L267.3,871.2L266.6,872.5L266.0,873.8L266.1,875.7L266.3,877.7L264.6,878.5L262.5,878.7L261.2,879.5L260.2,880.6L259.1,881.6L258.0,882.6L256.9,883.5L255.7,884.5L254.5,885.4L253.3,886.2L252.1,887.0L250.8,887.7L249.5,888.4L248.5,889.9L247.8,892.5L246.3,893.0L244.2,891.4L242.6,891.5L241.5,893.8L240.1,894.9L238.2,893.1L236.6,892.0L235.1,892.0L233.6,892.2L232.1,892.4L230.6,892.5L229.0,892.6L227.4,893.4L225.4,895.3L223.7,895.3L222.6,893.1L221.3,891.7L219.9,891.1L218.5,890.5L217.1,889.8L215.7,889.1L214.4,888.2L212.9,887.8L211.0,887.8L209.8,886.7L209.5,884.6L208.8,883.1L207.8,881.9L206.8,880.8L205.8,879.7L204.9,878.5L203.9,877.4L203.0,876.2L202.1,875.0L201.3,873.8L200.5,872.6L199.7,871.3L198.9,870.0L197.3,869.0L195.5,868.1L195.7,866.3L196.6,864.4L196.3,862.9L194.5,861.8L192.2,860.6L193.3,858.8L195.3,857.0L195.9,855.5L195.9,854.0L195.9,852.5L196.0,851.0L196.1,849.6L196.4,848.1L196.6,846.6L197.0,845.2L197.4,843.8L197.9,842.4L198.3,841.0L197.9,839.2L197.3,837.3L198.9,836.3L201.0,835.7L202.2,834.8L203.1,833.6L204.0,832.5L204.9,831.4L205.8,830.2L206.7,829.1L207.3,827.7L207.0,825.3L207.4,823.3L209.5,823.4L211.3,823.4L212.6,822.5L213.7,821.5L214.9,820.5L215.9,819.2L216.6,817.1L217.8,815.9L219.8,816.7L221.6,817.0L223.1,816.7L224.6,816.3L226.1,816.1L227.6,815.9L229.1,815.8L230.6,815.7L232.1,815.7L233.6,815.1L235.2,813.9L236.8,813.9L238.2,815.3L239.6,816.1L241.1,816.4L242.7,816.3L244.6,814.9L246.8,813.5L247.8,815.5L248.5,817.9L249.8,819.0L251.1,819.7L252.4,820.4L253.7,821.2L255.0,822.0L256.2,822.9L257.5,823.7L259.4,823.8L262.2,823.1L263.3,824.3L262.8,827.0L263.2,828.8L264.2,829.9L265.9,830.5L268.4,830.8L268.9,832.4L268.2,834.7L268.2,836.3L268.7,837.8L269.2,839.3L269.6,840.7L269.8,842.2L270.0,843.7L270.3,845.2L271.3,846.5L273.3,847.7L272.9,849.3L271.1,851.1L270.3,852.6Z" fill="#DE9B9D" stroke="#C98084" stroke-width="0.9"/><path d="M250.7,855.0L250.7,856.3L250.6,857.7L250.5,859.0L250.3,860.3L250.1,861.7L249.7,863.2L249.2,864.5L248.5,865.8L247.4,866.8L246.2,867.6L244.8,868.2L243.5,868.6L242.2,869.0L240.9,869.6L239.7,870.3L238.5,871.2L237.1,872.0L235.6,872.7L234.0,872.9L232.5,872.7L231.0,872.0L229.8,870.9L228.8,869.7L227.9,868.4L227.0,867.3L226.1,866.3L225.1,865.5L224.0,864.8L222.9,863.9L221.9,862.9L221.2,861.7L220.7,860.4L220.4,859.1L220.3,857.7L220.3,856.3L220.3,855.0L220.3,853.7L220.4,852.3L220.7,851.0L221.1,849.7L221.7,848.5L222.4,847.4L223.1,846.3L223.9,845.1L224.5,843.9L225.2,842.6L226.0,841.2L226.9,839.9L228.1,838.9L229.5,838.2L231.0,837.9L232.6,838.1L234.2,838.6L235.6,839.1L236.9,839.6L238.3,839.9L239.6,840.0L241.1,840.0L242.6,840.0L244.1,840.3L245.4,841.0L246.6,841.9L247.4,843.2L248.0,844.6L248.3,846.1L248.7,847.5L249.0,848.8L249.4,850.0L249.8,851.2L250.2,852.4L250.6,853.7Z" fill="#CC8488" stroke="#C98084" stroke-width="0.6" stroke-opacity="0.5"/><circle cx="204.8" cy="858.7" r="0.9" fill="#C98084"/><circle cx="222.5" cy="835.0" r="0.9" fill="#C98084"/><circle cx="258.8" cy="855.7" r="0.9" fill="#C98084"/><circle cx="228.9" cy="885.0" r="0.9" fill="#C98084"/><circle cx="223.2" cy="827.6" r="0.9" fill="#C98084"/><circle cx="206.3" cy="843.6" r="0.9" fill="#C98084"/><circle cx="249.6" cy="874.7" r="0.9" fill="#C98084"/><circle cx="250.7" cy="881.8" r="0.9" fill="#C98084"/><circle cx="262.9" cy="865.4" r="0.9" fill="#C98084"/><circle cx="260.0" cy="867.4" r="0.9" fill="#C98084"/></g>
<g opacity="1"><path d="M385.6,852.0L387.0,853.4L386.5,854.7L384.8,855.9L383.9,857.0L383.6,858.3L383.5,859.5L383.3,860.8L383.1,862.1L382.9,863.4L383.0,864.8L383.9,866.7L384.4,868.5L383.1,869.3L381.2,869.9L380.1,870.7L379.3,871.8L378.5,872.8L377.6,873.8L376.7,874.7L376.0,875.9L375.7,877.6L375.4,879.3L373.8,879.5L371.8,879.2L370.4,879.4L369.3,880.0L368.2,880.7L367.0,881.3L365.9,882.0L364.9,882.9L364.2,884.7L363.5,887.0L362.0,887.2L360.2,885.8L358.7,885.2L357.4,885.4L356.1,885.9L354.9,887.2L353.5,888.9L352.1,888.7L350.7,887.0L349.4,885.9L348.1,885.6L346.8,885.3L345.5,885.1L344.2,884.8L343.0,884.4L341.7,884.0L340.4,883.7L338.8,884.0L337.1,884.6L335.8,883.9L335.3,882.0L334.6,880.6L333.6,879.6L332.7,878.8L331.7,877.9L330.6,877.1L329.0,877.0L326.7,877.4L325.9,876.2L326.6,873.8L326.7,872.0L326.2,870.8L325.5,869.8L324.5,868.9L322.5,868.6L320.2,868.3L320.0,866.8L321.1,864.8L321.4,863.3L321.0,862.1L320.5,860.9L320.1,859.7L319.7,858.4L319.5,857.2L319.3,855.9L319.2,854.6L318.9,853.3L317.8,852.0L315.9,850.6L316.2,849.2L318.4,848.0L319.9,846.9L320.4,845.7L320.7,844.5L320.5,843.1L319.7,841.5L319.6,840.0L321.0,839.1L322.4,838.3L323.1,837.2L323.7,836.1L324.3,834.9L324.9,833.8L325.6,832.7L326.3,831.6L327.1,830.6L327.8,829.6L328.5,828.4L328.4,826.4L328.2,824.0L329.5,823.4L331.8,824.0L333.4,824.0L334.6,823.4L335.6,822.5L336.4,821.2L337.1,819.4L338.2,818.5L339.9,819.0L341.5,819.3L342.8,819.1L344.1,818.7L345.4,818.4L346.6,817.4L347.8,815.6L349.2,814.9L350.7,816.6L352.1,818.1L353.4,818.7L354.7,819.0L356.0,819.2L357.2,819.5L358.5,819.8L359.8,819.8L361.4,818.9L363.4,817.2L364.8,817.7L365.3,820.1L366.1,821.7L367.2,822.4L368.4,822.9L369.6,823.5L370.7,824.2L371.8,824.9L372.8,825.7L373.9,826.5L375.2,827.0L377.1,827.0L378.3,827.8L378.3,829.7L378.2,831.4L378.7,832.7L379.3,833.8L379.9,835.0L380.5,836.1L381.1,837.2L381.8,838.3L383.4,839.0L385.1,839.8L385.0,841.3L384.0,843.0L383.6,844.4L383.7,845.7L383.9,847.0L384.0,848.2L384.1,849.5L384.4,850.7Z" fill="#DE9B9D" stroke="#C98084" stroke-width="0.9"/><path d="M358.2,850.0L358.5,851.1L358.8,852.3L359.0,853.5L359.0,854.7L358.7,855.9L358.2,857.1L357.5,858.0L356.6,858.9L355.7,859.7L354.8,860.5L353.8,861.1L352.8,861.7L351.7,862.2L350.5,862.4L349.4,862.5L348.2,862.5L347.1,862.4L346.0,862.4L344.9,862.4L343.8,862.5L342.6,862.6L341.5,862.5L340.3,862.2L339.3,861.5L338.6,860.6L338.0,859.6L337.6,858.4L337.2,857.4L336.7,856.5L336.1,855.7L335.3,855.0L334.3,854.2L333.4,853.4L332.6,852.4L332.2,851.2L332.0,850.0L332.2,848.8L332.6,847.6L333.2,846.6L333.7,845.5L334.2,844.5L334.7,843.5L335.2,842.4L335.7,841.4L336.4,840.4L337.3,839.6L338.2,838.9L339.2,838.3L340.3,837.8L341.4,837.3L342.5,836.9L343.6,836.6L344.8,836.4L346.0,836.5L347.1,836.9L348.2,837.5L349.2,838.2L350.0,838.9L350.9,839.6L351.7,840.0L352.7,840.4L353.9,840.6L355.0,841.0L356.1,841.5L357.1,842.3L357.7,843.2L358.0,844.4L358.1,845.6L358.0,846.8L357.9,847.9L358.0,849.0Z" fill="#CC8488" stroke="#C98084" stroke-width="0.6" stroke-opacity="0.5"/><circle cx="350.7" cy="877.2" r="0.9" fill="#C98084"/><circle cx="341.1" cy="827.1" r="0.9" fill="#C98084"/><circle cx="359.9" cy="870.2" r="0.9" fill="#C98084"/><circle cx="364.0" cy="867.7" r="0.9" fill="#C98084"/><circle cx="350.2" cy="833.5" r="0.9" fill="#C98084"/><circle cx="332.9" cy="848.2" r="0.9" fill="#C98084"/><circle cx="346.0" cy="873.3" r="0.9" fill="#C98084"/><circle cx="364.8" cy="831.3" r="0.9" fill="#C98084"/></g>
<g opacity="1"><path d="M334.1,897.0L335.5,898.5L337.4,900.1L336.3,901.6L334.1,902.8L333.1,904.1L332.7,905.5L332.3,906.8L331.8,908.2L331.3,909.5L330.7,910.8L330.1,912.1L329.6,913.4L329.7,915.1L329.8,916.8L328.1,917.5L326.1,917.9L324.8,918.6L323.8,919.5L322.8,920.5L321.8,921.4L321.2,922.7L321.1,924.7L320.4,926.2L318.5,926.0L316.8,926.0L315.6,926.6L314.4,927.4L313.3,928.2L312.1,929.0L310.9,929.6L309.7,930.2L308.4,930.8L307.0,931.2L305.7,931.5L304.3,931.8L303.0,932.2L301.7,933.4L300.4,934.6L298.8,933.8L297.4,932.4L296.0,931.8L294.7,931.6L293.3,931.5L291.9,931.5L290.3,932.5L288.5,934.0L287.2,933.2L286.4,931.0L285.3,929.9L284.0,929.4L282.7,928.9L281.4,928.4L279.8,928.4L277.6,929.3L276.0,929.0L275.7,926.8L275.3,925.1L274.3,924.0L273.2,923.1L272.1,922.3L270.4,921.9L268.5,921.7L267.6,920.5L267.6,918.6L267.1,917.2L266.3,916.1L265.5,914.9L264.7,913.7L264.0,912.4L263.4,911.1L262.7,909.8L261.2,908.8L259.0,907.8L258.9,906.3L260.6,904.3L261.5,902.7L261.6,901.2L261.7,899.8L261.8,898.4L261.9,897.0L262.0,895.6L262.1,894.2L261.8,892.8L260.7,891.2L260.6,889.7L262.0,888.5L263.1,887.3L263.5,886.0L263.9,884.6L264.3,883.3L264.8,882.0L265.3,880.7L265.9,879.4L266.3,877.9L266.1,876.1L266.6,874.6L268.5,874.2L270.1,873.7L271.3,872.9L272.3,871.9L273.4,871.1L274.5,870.2L275.5,869.2L276.1,867.7L276.7,866.0L278.2,865.7L280.1,866.1L281.5,865.9L282.8,865.4L284.0,864.7L285.1,863.5L285.9,861.5L287.2,861.0L289.1,862.3L290.6,863.0L292.0,863.0L293.4,862.9L294.7,862.8L296.1,862.7L297.4,862.7L298.8,862.6L300.1,862.6L301.5,862.6L302.9,862.6L304.2,862.6L305.7,862.5L307.4,861.7L309.2,860.8L310.4,861.7L311.4,863.3L312.6,864.0L314.3,863.9L316.5,862.9L317.9,863.5L318.2,865.9L318.7,867.7L319.6,868.8L320.6,869.8L321.6,870.8L322.5,871.9L323.4,873.0L324.3,874.0L325.2,875.1L326.0,876.2L326.8,877.3L327.7,878.4L328.8,879.4L330.9,880.0L333.0,880.6L332.8,882.4L331.8,884.3L331.9,885.8L333.0,887.0L335.4,887.9L337.1,889.1L335.6,890.9L334.0,892.7L333.7,894.1L333.7,895.6Z" fill="#DE9B9D" stroke="#C98084" stroke-width="0.9"/><path d="M306.7,896.6L306.5,897.9L306.2,899.2L305.9,900.5L305.5,901.8L305.1,903.1L304.6,904.3L303.9,905.4L303.1,906.5L302.1,907.4L301.1,908.3L300.1,909.2L299.1,910.1L298.0,910.9L296.8,911.8L295.5,912.4L294.1,912.7L292.7,912.7L291.3,912.2L290.0,911.5L288.8,910.6L287.8,909.8L286.7,909.2L285.6,908.8L284.4,908.5L283.1,908.3L281.7,908.0L280.5,907.4L279.5,906.5L278.8,905.4L278.3,904.1L278.2,902.7L278.1,901.4L277.9,900.2L277.7,899.0L277.3,897.8L276.9,896.6L276.6,895.3L276.4,894.0L276.4,892.6L276.7,891.3L277.1,890.0L277.6,888.7L278.3,887.5L279.0,886.3L279.9,885.2L280.9,884.2L282.1,883.4L283.4,882.9L284.8,882.6L286.2,882.5L287.5,882.5L288.8,882.4L290.0,882.3L291.3,881.9L292.6,881.6L294.0,881.3L295.4,881.3L296.7,881.7L297.9,882.4L298.8,883.5L299.6,884.8L300.1,886.1L300.7,887.2L301.3,888.2L302.1,889.0L303.1,889.8L304.2,890.6L305.2,891.5L306.0,892.7L306.5,893.9L306.7,895.3Z" fill="#CC8488" stroke="#C98084" stroke-width="0.6" stroke-opacity="0.5"/><circle cx="319.2" cy="914.3" r="0.9" fill="#C98084"/><circle cx="279.6" cy="871.9" r="0.9" fill="#C98084"/><circle cx="294.5" cy="919.0" r="0.9" fill="#C98084"/><circle cx="294.6" cy="869.9" r="0.9" fill="#C98084"/><circle cx="288.4" cy="923.0" r="0.9" fill="#C98084"/><circle cx="274.5" cy="914.4" r="0.9" fill="#C98084"/><circle cx="313.4" cy="911.8" r="0.9" fill="#C98084"/><circle cx="316.5" cy="883.3" r="0.9" fill="#C98084"/><circle cx="295.5" cy="926.0" r="0.9" fill="#C98084"/><circle cx="283.2" cy="881.7" r="0.9" fill="#C98084"/></g>
<g opacity="1"><path d="M291.8,797.0L291.0,798.7L288.8,800.3L288.1,801.9L287.9,803.5L287.6,805.1L287.2,806.7L286.7,808.2L286.2,809.7L285.6,811.2L285.5,813.0L286.9,815.4L286.8,817.3L283.7,817.6L281.7,818.2L280.6,819.5L279.6,820.7L278.6,821.9L277.6,823.1L276.5,824.3L276.1,826.1L276.3,828.7L274.7,829.4L272.0,828.8L270.3,829.1L268.9,829.8L267.6,830.5L266.2,831.2L264.8,831.8L263.3,832.4L261.9,833.0L260.5,833.7L259.4,835.1L258.4,837.4L256.7,837.3L254.8,836.0L253.2,836.0L251.7,836.3L250.1,836.6L248.6,836.8L247.0,837.0L245.4,837.1L243.8,837.5L242.0,838.8L240.4,838.8L239.1,836.8L237.7,835.7L236.3,835.1L234.8,834.4L233.4,833.8L232.1,833.1L230.7,832.3L229.4,831.6L228.0,830.9L226.7,830.2L224.8,830.2L222.7,830.4L221.9,828.9L221.3,827.1L220.2,826.0L218.6,825.4L216.4,825.3L215.1,824.3L215.0,822.3L214.4,820.7L213.4,819.4L212.5,818.2L211.6,816.8L210.8,815.4L210.1,814.0L209.1,812.7L206.9,811.8L205.4,810.5L206.4,808.4L207.0,806.6L206.8,805.0L206.5,803.4L206.2,801.8L206.0,800.2L205.9,798.6L205.8,797.0L205.9,795.4L206.1,793.8L206.4,792.2L206.7,790.6L206.7,789.0L205.5,787.0L205.5,785.3L207.8,784.3L208.9,783.0L208.3,781.0L208.6,779.3L210.8,778.5L212.2,777.5L213.0,776.2L213.8,774.8L214.6,773.4L215.4,772.1L216.3,770.8L217.2,769.5L218.3,768.3L219.4,767.1L220.5,766.0L221.8,765.0L223.1,764.1L224.4,763.2L225.5,761.9L226.3,760.0L228.0,759.7L230.1,760.4L231.8,760.4L233.4,760.0L234.9,759.6L236.2,758.7L237.3,756.7L238.9,756.3L240.8,757.8L242.4,758.4L244.0,758.3L245.5,758.2L247.0,758.1L248.5,758.1L250.1,758.1L251.6,757.9L253.4,756.6L255.2,755.9L256.4,757.8L257.7,759.2L259.1,759.8L260.6,760.3L262.0,760.8L263.5,761.3L264.9,761.9L266.4,762.3L268.6,761.8L270.9,761.2L271.7,763.1L272.1,765.2L273.2,766.3L274.5,767.3L275.7,768.3L276.8,769.4L277.9,770.6L279.4,771.5L282.1,771.5L283.8,772.4L282.7,775.1L282.2,777.3L282.7,778.8L283.2,780.3L283.8,781.8L284.3,783.2L284.9,784.7L286.2,786.0L288.0,787.1L287.9,788.9L287.0,790.7L287.0,792.3L287.5,793.8L289.1,795.3Z" fill="#D5787B" stroke="#A84C50" stroke-width="1.3"/><path d="M271.3,802.3L271.8,803.8L272.1,805.3L272.1,806.9L271.7,808.5L270.9,809.8L269.8,811.0L268.6,812.0L267.4,812.8L266.3,813.8L265.3,814.8L264.5,816.1L263.6,817.5L262.5,818.9L261.3,820.0L259.8,820.8L258.1,821.1L256.4,820.8L254.8,820.2L253.3,819.5L251.9,818.7L250.6,818.0L249.3,817.5L247.9,817.0L246.6,816.5L245.3,815.9L244.1,815.1L243.0,814.1L242.1,812.9L241.3,811.7L240.6,810.5L239.9,809.3L239.2,808.0L238.7,806.6L238.4,805.2L238.3,803.7L238.5,802.3L238.8,800.9L239.3,799.6L239.6,798.2L239.8,796.9L239.9,795.4L240.0,793.7L240.1,792.0L240.5,790.3L241.3,788.8L242.6,787.7L244.1,787.0L245.8,786.6L247.5,786.5L249.1,786.5L250.5,786.4L251.9,786.1L253.3,785.6L254.8,785.1L256.3,784.7L257.9,784.5L259.5,784.8L260.9,785.5L262.2,786.4L263.3,787.5L264.4,788.7L265.3,789.8L266.2,790.9L267.1,792.0L267.9,793.1L268.6,794.3L269.2,795.6L269.6,796.9L270.0,798.2L270.3,799.6L270.8,800.9Z" fill="#AD5258" stroke="#A84C50" stroke-width="0.6" stroke-opacity="0.5"/><circle cx="267.7" cy="792.3" r="0.9" fill="#B85A60"/><circle cx="244.9" cy="773.7" r="0.9" fill="#B85A60"/><circle cx="268.2" cy="795.1" r="0.9" fill="#B85A60"/><circle cx="269.6" cy="775.5" r="0.9" fill="#B85A60"/><circle cx="269.4" cy="768.8" r="0.9" fill="#B85A60"/><circle cx="248.7" cy="823.0" r="0.9" fill="#B85A60"/><circle cx="240.4" cy="772.7" r="0.9" fill="#B85A60"/><circle cx="245.0" cy="821.3" r="0.9" fill="#B85A60"/><circle cx="268.3" cy="770.4" r="0.9" fill="#B85A60"/><circle cx="254.1" cy="773.7" r="0.9" fill="#B85A60"/><circle cx="272.5" cy="783.9" r="0.9" fill="#B85A60"/><circle cx="250.3" cy="824.6" r="0.9" fill="#B85A60"/><circle cx="227.6" cy="807.7" r="0.9" fill="#B85A60"/><circle cx="222.7" cy="786.6" r="0.9" fill="#B85A60"/><circle cx="215.3" cy="782.3" r="0.9" fill="#B85A60"/><circle cx="230.4" cy="775.6" r="0.9" fill="#B85A60"/><circle cx="270.4" cy="769.8" r="0.9" fill="#B85A60"/><circle cx="211.9" cy="799.2" r="0.9" fill="#B85A60"/></g>
<g opacity="1"><path d="M371.8,794.0L373.7,795.8L371.7,797.5L369.5,799.0L368.7,800.6L368.2,802.2L367.9,803.8L368.9,805.8L369.3,807.7L366.6,808.6L364.8,809.7L363.9,811.0L363.1,812.4L362.3,813.8L361.6,815.2L360.8,816.6L360.0,817.9L359.1,819.3L358.2,820.7L357.3,822.0L356.4,823.4L356.1,825.5L355.6,827.4L353.5,827.6L351.7,828.0L350.3,828.8L348.9,829.7L347.4,830.5L346.0,831.3L345.1,833.3L344.3,835.7L342.1,834.9L339.9,833.7L338.2,833.9L336.7,834.3L335.1,834.6L333.5,834.9L331.9,835.2L330.3,835.4L328.7,836.1L327.0,838.4L325.2,839.0L323.6,836.7L322.1,835.6L320.5,835.3L318.9,835.0L317.2,834.7L315.5,834.9L313.3,836.0L311.8,835.3L310.8,833.2L309.4,832.2L307.8,831.6L306.3,831.0L304.8,830.3L303.2,829.6L301.6,828.9L299.3,829.1L296.7,829.4L296.2,827.3L296.0,825.0L294.9,823.7L293.8,822.4L292.7,821.0L291.8,819.6L290.9,818.1L290.2,816.6L289.5,815.0L289.0,813.4L288.4,811.8L288.0,810.2L287.5,808.6L287.1,807.0L285.7,805.6L283.3,804.5L283.8,802.6L285.4,800.6L285.5,798.9L285.3,797.3L285.1,795.6L285.0,794.0L284.8,792.3L283.7,790.6L282.2,788.7L283.6,787.1L285.4,785.7L286.0,784.2L286.5,782.6L287.0,781.0L287.7,779.5L288.3,778.0L288.9,776.4L288.6,774.4L288.6,772.5L290.6,771.7L292.3,770.8L293.4,769.6L294.3,768.2L294.7,766.5L294.2,763.7L295.7,762.7L298.5,763.1L300.2,762.6L301.5,761.7L302.9,760.8L304.3,760.0L305.7,759.2L307.1,758.5L308.6,757.9L310.0,757.2L311.5,756.6L312.8,755.6L313.8,753.4L315.1,752.0L317.2,753.2L318.9,753.5L320.5,752.8L321.9,751.0L323.5,749.5L325.3,750.6L327.0,751.4L328.7,751.4L330.4,751.3L332.0,751.4L333.7,751.6L335.4,751.9L337.0,752.3L338.7,752.5L340.7,751.7L342.7,751.6L343.6,753.8L344.8,755.5L346.2,756.4L347.6,757.2L349.0,758.1L350.4,759.0L351.8,759.9L353.2,760.8L354.5,761.8L355.8,762.9L357.0,764.0L358.3,765.1L359.9,765.9L362.3,766.1L363.2,767.7L362.9,770.0L363.4,771.7L364.3,773.1L365.0,774.6L365.8,776.1L366.4,777.7L367.1,779.2L367.9,780.7L370.1,781.8L372.5,783.1L370.9,785.3L369.6,787.3L369.6,789.0L369.8,790.6L370.1,792.3Z" fill="#D5787B" stroke="#A84C50" stroke-width="1.3"/><path d="M355.7,794.2L354.9,795.8L354.0,797.2L353.1,798.5L352.3,799.8L351.7,801.1L351.1,802.4L350.6,803.8L349.9,805.1L349.0,806.3L348.0,807.5L346.9,808.5L345.7,809.4L344.4,810.2L343.0,811.1L341.6,811.9L340.1,812.5L338.5,812.9L336.9,812.9L335.3,812.6L333.8,812.0L332.3,811.4L330.9,810.7L329.5,810.2L327.9,809.8L326.2,809.4L324.5,809.0L322.8,808.3L321.4,807.2L320.3,805.8L319.8,804.1L319.7,802.2L319.9,800.4L320.2,798.7L320.4,797.1L320.4,795.6L320.2,794.2L319.9,792.7L319.6,791.2L319.6,789.6L319.9,788.0L320.6,786.6L321.5,785.3L322.6,784.2L323.7,783.1L324.8,782.1L325.9,781.1L327.1,780.2L328.3,779.3L329.6,778.5L331.0,777.9L332.4,777.5L333.9,777.1L335.4,776.8L336.9,776.4L338.5,775.9L340.2,775.5L342.0,775.3L343.7,775.4L345.4,776.0L346.8,777.1L347.9,778.5L348.8,780.0L349.5,781.6L350.2,783.1L351.0,784.3L352.0,785.5L353.2,786.6L354.4,787.8L355.4,789.2L356.0,790.8L356.1,792.5Z" fill="#AD5258" stroke="#A84C50" stroke-width="0.6" stroke-opacity="0.5"/><circle cx="307.9" cy="816.7" r="0.9" fill="#B85A60"/><circle cx="301.8" cy="808.6" r="0.9" fill="#B85A60"/><circle cx="299.6" cy="811.5" r="0.9" fill="#B85A60"/><circle cx="325.2" cy="826.1" r="0.9" fill="#B85A60"/><circle cx="353.8" cy="795.7" r="0.9" fill="#B85A60"/><circle cx="314.7" cy="814.9" r="0.9" fill="#B85A60"/><circle cx="325.8" cy="767.1" r="0.9" fill="#B85A60"/><circle cx="336.0" cy="757.8" r="0.9" fill="#B85A60"/><circle cx="326.2" cy="830.3" r="0.9" fill="#B85A60"/><circle cx="338.5" cy="763.4" r="0.9" fill="#B85A60"/><circle cx="355.9" cy="799.0" r="0.9" fill="#B85A60"/><circle cx="308.3" cy="774.9" r="0.9" fill="#B85A60"/><circle cx="331.3" cy="820.6" r="0.9" fill="#B85A60"/><circle cx="325.2" cy="828.6" r="0.9" fill="#B85A60"/><circle cx="310.4" cy="817.5" r="0.9" fill="#B85A60"/><circle cx="303.8" cy="765.0" r="0.9" fill="#B85A60"/><circle cx="321.0" cy="815.9" r="0.9" fill="#B85A60"/><circle cx="361.8" cy="788.1" r="0.9" fill="#B85A60"/></g>
<g opacity="1"><path d="M341.2,852.5L341.0,854.1L341.6,855.7L343.8,857.6L343.6,859.3L341.3,860.6L342.3,862.5L342.1,864.2L339.3,865.1L337.9,866.3L337.3,867.7L336.7,869.2L336.1,870.6L335.4,872.1L334.7,873.4L333.9,874.8L333.0,876.1L332.1,877.4L331.1,878.6L330.3,880.0L330.3,882.3L329.9,884.3L327.6,884.2L325.7,884.4L324.4,885.4L323.1,886.4L321.9,887.4L321.0,889.1L320.6,892.0L318.9,892.5L316.6,891.3L314.8,891.4L313.3,891.9L311.7,892.3L310.1,892.7L308.5,893.0L306.9,893.1L305.3,893.3L303.7,893.8L302.2,895.8L300.5,896.6L298.9,894.4L297.3,893.1L295.7,892.8L294.1,892.7L292.5,892.5L290.9,892.4L289.3,892.2L287.7,891.9L286.1,891.7L284.2,892.0L281.9,892.9L280.5,891.8L279.6,889.9L278.3,888.8L276.9,887.9L275.5,886.9L274.2,885.9L273.0,884.7L271.8,883.6L270.5,882.5L268.3,882.3L265.6,882.3L265.8,879.8L266.6,877.1L266.1,875.5L265.3,874.1L264.5,872.6L263.8,871.2L263.2,869.7L262.6,868.2L262.0,866.7L261.0,865.3L258.7,864.3L257.7,862.8L259.1,860.7L258.6,859.1L258.3,857.5L259.6,855.7L260.2,854.1L260.3,852.5L260.3,850.9L260.4,849.3L260.5,847.8L260.7,846.2L260.7,844.6L259.7,842.7L257.7,840.4L259.0,839.0L261.6,838.2L262.6,836.8L263.3,835.3L263.9,833.9L264.7,832.5L265.6,831.1L266.6,829.8L267.6,828.6L268.2,827.1L268.0,824.8L269.2,823.5L271.7,823.7L273.5,823.3L274.8,822.4L276.0,821.4L277.2,820.5L278.5,819.6L279.8,818.6L281.0,817.7L282.3,816.8L283.7,816.0L285.0,815.1L286.4,814.2L287.5,812.4L288.6,810.2L290.5,810.7L292.4,811.6L294.0,811.5L295.6,811.2L297.2,810.9L298.8,810.0L300.5,808.1L302.2,808.3L303.8,810.3L305.4,811.0L307.0,811.2L308.7,811.5L310.3,811.8L311.9,812.2L313.5,812.6L315.0,813.1L316.6,813.7L318.4,813.7L320.8,812.6L322.4,813.3L322.8,816.1L323.7,817.8L325.4,818.3L327.9,817.8L329.0,819.1L328.9,821.8L329.6,823.4L330.6,824.7L331.6,825.9L332.7,827.1L333.7,828.4L334.7,829.7L335.7,830.9L336.9,832.1L339.2,832.8L340.7,834.0L340.0,836.1L339.9,838.0L340.4,839.5L340.9,841.1L341.3,842.7L341.5,844.3L341.6,846.0L341.7,847.6L341.6,849.3L341.5,850.9Z" fill="#D5787B" stroke="#A84C50" stroke-width="1.3"/><path d="M323.3,857.0L323.3,858.5L323.2,859.9L323.1,861.4L322.8,862.9L322.5,864.5L322.1,866.0L321.5,867.5L320.5,868.8L319.4,869.9L318.0,870.7L316.5,871.3L315.1,871.8L313.7,872.5L312.4,873.2L311.1,874.1L309.7,875.1L308.2,876.0L306.5,876.6L304.8,876.6L303.1,876.1L301.6,875.2L300.4,873.9L299.3,872.5L298.3,871.2L297.3,870.2L296.2,869.3L294.9,868.6L293.6,867.8L292.4,866.9L291.4,865.7L290.6,864.4L290.2,862.9L289.9,861.4L289.9,859.9L289.8,858.5L289.8,857.0L289.8,855.5L290.0,854.1L290.2,852.6L290.6,851.2L291.2,849.9L291.9,848.6L292.6,847.3L293.4,846.0L294.1,844.6L294.8,843.1L295.7,841.6L296.9,840.3L298.2,839.3L299.8,838.7L301.6,838.6L303.3,838.9L305.0,839.5L306.5,840.0L308.0,840.3L309.4,840.5L310.9,840.4L312.6,840.3L314.2,840.4L315.8,840.8L317.2,841.7L318.4,842.9L319.1,844.4L319.7,845.9L320.1,847.5L320.4,848.9L320.9,850.3L321.5,851.6L322.1,852.8L322.6,854.2L323.0,855.6Z" fill="#AD5258" stroke="#A84C50" stroke-width="0.6" stroke-opacity="0.5"/><circle cx="266.8" cy="847.9" r="0.9" fill="#B85A60"/><circle cx="325.7" cy="846.0" r="0.9" fill="#B85A60"/><circle cx="303.7" cy="820.2" r="0.9" fill="#B85A60"/><circle cx="288.2" cy="832.8" r="0.9" fill="#B85A60"/><circle cx="327.6" cy="857.1" r="0.9" fill="#B85A60"/><circle cx="299.9" cy="827.1" r="0.9" fill="#B85A60"/><circle cx="274.1" cy="852.3" r="0.9" fill="#B85A60"/><circle cx="321.0" cy="822.7" r="0.9" fill="#B85A60"/><circle cx="270.4" cy="874.0" r="0.9" fill="#B85A60"/><circle cx="332.0" cy="865.5" r="0.9" fill="#B85A60"/><circle cx="317.3" cy="835.6" r="0.9" fill="#B85A60"/><circle cx="292.1" cy="823.5" r="0.9" fill="#B85A60"/><circle cx="324.3" cy="845.5" r="0.9" fill="#B85A60"/><circle cx="266.4" cy="843.8" r="0.9" fill="#B85A60"/><circle cx="283.5" cy="832.4" r="0.9" fill="#B85A60"/><circle cx="331.9" cy="870.2" r="0.9" fill="#B85A60"/><circle cx="264.1" cy="858.5" r="0.9" fill="#B85A60"/><circle cx="322.0" cy="879.0" r="0.9" fill="#B85A60"/></g>
<ellipse cx="244.5" cy="704.7" rx="31.3" ry="30.1" fill="#8986C6" stroke="#6966A8" stroke-width="1.3"/><ellipse cx="239.2" cy="706.3" rx="16.9" ry="19.4" transform="rotate(-25 239.2 706.3)" fill="#7A6AB0" stroke="#6E5FA4" stroke-width="0.8"/><circle cx="261.9" cy="724.3" r="1.6" fill="#7670B6"/><circle cx="243.7" cy="729.2" r="1.4" fill="#7670B6"/><circle cx="229.4" cy="683.6" r="1.1" fill="#7670B6"/><circle cx="270.3" cy="709.3" r="1.3" fill="#7670B6"/><circle cx="246.1" cy="682.8" r="1.4" fill="#7670B6"/><circle cx="240.3" cy="681.9" r="1.8" fill="#7670B6"/><circle cx="262.5" cy="691.8" r="1.0" fill="#7670B6"/><circle cx="218.7" cy="697.9" r="1.3" fill="#7670B6"/><circle cx="249.5" cy="728.3" r="1.0" fill="#7670B6"/><circle cx="248.8" cy="728.5" r="1.4" fill="#7670B6"/><circle cx="247.0" cy="727.7" r="1.2" fill="#7670B6"/><circle cx="270.4" cy="708.2" r="1.4" fill="#7670B6"/><circle cx="230.1" cy="686.9" r="1.8" fill="#7670B6"/>
<ellipse cx="177.6" cy="746.1" rx="30.5" ry="31.4" fill="#8986C6" stroke="#6966A8" stroke-width="1.3"/><ellipse cx="180.2" cy="751" rx="19.5" ry="17" transform="rotate(-30 180.2 751)" fill="#7A6AB0" stroke="#6E5FA4" stroke-width="0.8"/><circle cx="203.3" cy="738.7" r="1.0" fill="#7670B6"/><circle cx="200.1" cy="759.4" r="1.6" fill="#7670B6"/><circle cx="166.2" cy="725.5" r="1.5" fill="#7670B6"/><circle cx="158.1" cy="730.7" r="1.1" fill="#7670B6"/><circle cx="155.9" cy="756.2" r="1.6" fill="#7670B6"/><circle cx="204.3" cy="745.1" r="1.4" fill="#7670B6"/><circle cx="155.7" cy="754.1" r="1.0" fill="#7670B6"/><circle cx="201.6" cy="750.3" r="1.3" fill="#7670B6"/><circle cx="158.3" cy="764.2" r="1.4" fill="#7670B6"/><circle cx="156.1" cy="737.5" r="1.0" fill="#7670B6"/><circle cx="150.7" cy="744.4" r="1.5" fill="#7670B6"/><circle cx="185.0" cy="721.5" r="1.7" fill="#7670B6"/>
<circle cx="177.6" cy="832" r="30" fill="#79AB89" stroke="#5B8B69" stroke-width="1.3"/><circle cx="174.1" cy="832" r="18.2" fill="#4F8B61" stroke="#427A52" stroke-width="1"/><circle cx="202.3" cy="830.7" r="1.6" fill="#5E9A70"/><circle cx="201.5" cy="839.6" r="1.3" fill="#5E9A70"/><circle cx="200.6" cy="843.8" r="1.5" fill="#5E9A70"/><circle cx="196.0" cy="851.1" r="1.8" fill="#5E9A70"/><circle cx="186.3" cy="854.9" r="2.0" fill="#5E9A70"/><circle cx="182.9" cy="856.5" r="2.2" fill="#5E9A70"/><circle cx="173.9" cy="857.2" r="2.0" fill="#5E9A70"/><circle cx="169.0" cy="856.1" r="1.9" fill="#5E9A70"/><circle cx="163.4" cy="849.8" r="2.2" fill="#5E9A70"/><circle cx="156.3" cy="845.9" r="2.3" fill="#5E9A70"/><circle cx="152.2" cy="838.3" r="1.7" fill="#5E9A70"/><circle cx="153.3" cy="830.5" r="2.3" fill="#5E9A70"/><circle cx="156.0" cy="823.8" r="1.4" fill="#5E9A70"/><circle cx="154.6" cy="819.0" r="1.7" fill="#5E9A70"/><circle cx="162.4" cy="813.6" r="1.8" fill="#5E9A70"/><circle cx="167.1" cy="810.4" r="1.9" fill="#5E9A70"/><circle cx="174.3" cy="806.1" r="2.0" fill="#5E9A70"/><circle cx="183.5" cy="806.7" r="2.4" fill="#5E9A70"/><circle cx="188.0" cy="811.1" r="2.2" fill="#5E9A70"/><circle cx="196.5" cy="813.9" r="1.9" fill="#5E9A70"/><circle cx="197.9" cy="820.2" r="2.2" fill="#5E9A70"/><circle cx="200.5" cy="825.6" r="1.3" fill="#5E9A70"/>
<circle cx="198.9" cy="923.5" r="29.5" fill="#79AB89" stroke="#5B8B69" stroke-width="1.3"/><circle cx="201.9" cy="921.0" r="18.2" fill="#4F8B61" stroke="#427A52" stroke-width="1"/><circle cx="221.9" cy="922.3" r="1.7" fill="#5E9A70"/><circle cx="221.3" cy="928.4" r="1.7" fill="#5E9A70"/><circle cx="219.0" cy="938.9" r="2.1" fill="#5E9A70"/><circle cx="215.9" cy="941.1" r="1.5" fill="#5E9A70"/><circle cx="209.8" cy="943.8" r="1.5" fill="#5E9A70"/><circle cx="200.4" cy="948.9" r="2.2" fill="#5E9A70"/><circle cx="194.2" cy="946.4" r="1.6" fill="#5E9A70"/><circle cx="187.9" cy="946.1" r="2.2" fill="#5E9A70"/><circle cx="182.6" cy="939.7" r="1.9" fill="#5E9A70"/><circle cx="178.0" cy="936.0" r="1.4" fill="#5E9A70"/><circle cx="176.9" cy="930.1" r="2.3" fill="#5E9A70"/><circle cx="174.5" cy="921.7" r="1.6" fill="#5E9A70"/><circle cx="176.0" cy="914.7" r="2.3" fill="#5E9A70"/><circle cx="179.4" cy="908.9" r="1.7" fill="#5E9A70"/><circle cx="183.5" cy="905.0" r="1.4" fill="#5E9A70"/><circle cx="187.5" cy="900.8" r="1.3" fill="#5E9A70"/><circle cx="193.2" cy="899.4" r="1.5" fill="#5E9A70"/><circle cx="202.5" cy="899.5" r="1.6" fill="#5E9A70"/><circle cx="210.7" cy="903.3" r="1.7" fill="#5E9A70"/><circle cx="214.0" cy="903.8" r="1.5" fill="#5E9A70"/><circle cx="219.7" cy="909.3" r="1.6" fill="#5E9A70"/><circle cx="223.6" cy="916.6" r="1.3" fill="#5E9A70"/>
<circle cx="413.5" cy="885.7" r="29.2" fill="#79AB89" stroke="#5B8B69" stroke-width="1.3"/><circle cx="413.5" cy="885.7" r="18.1" fill="#4F8B61" stroke="#427A52" stroke-width="1"/><circle cx="438.4" cy="886.3" r="2.2" fill="#5E9A70"/><circle cx="436.7" cy="894.8" r="2.3" fill="#5E9A70"/><circle cx="434.9" cy="896.7" r="2.3" fill="#5E9A70"/><circle cx="429.5" cy="905.4" r="1.3" fill="#5E9A70"/><circle cx="423.3" cy="906.9" r="1.9" fill="#5E9A70"/><circle cx="416.4" cy="908.2" r="1.5" fill="#5E9A70"/><circle cx="411.0" cy="911.0" r="2.1" fill="#5E9A70"/><circle cx="404.7" cy="909.2" r="1.4" fill="#5E9A70"/><circle cx="398.0" cy="902.7" r="1.2" fill="#5E9A70"/><circle cx="393.1" cy="896.8" r="1.5" fill="#5E9A70"/><circle cx="388.6" cy="890.5" r="1.5" fill="#5E9A70"/><circle cx="389.3" cy="883.5" r="2.0" fill="#5E9A70"/><circle cx="388.6" cy="880.0" r="2.0" fill="#5E9A70"/><circle cx="393.5" cy="870.1" r="1.6" fill="#5E9A70"/><circle cx="397.9" cy="868.7" r="1.4" fill="#5E9A70"/><circle cx="401.9" cy="865.2" r="1.9" fill="#5E9A70"/><circle cx="407.6" cy="861.7" r="1.6" fill="#5E9A70"/><circle cx="416.1" cy="860.7" r="1.8" fill="#5E9A70"/><circle cx="422.7" cy="863.4" r="2.0" fill="#5E9A70"/><circle cx="428.5" cy="864.9" r="1.2" fill="#5E9A70"/><circle cx="435.4" cy="873.1" r="1.2" fill="#5E9A70"/><circle cx="436.6" cy="880.3" r="1.9" fill="#5E9A70"/>
<text x="169" y="692.5" font-size="15" fill="#111" font-weight="bold" font-style="normal" text-anchor="start" textLength="29.5" lengthAdjust="spacingAndGlyphs" >NKs</text>
<text x="74" y="922.9" font-size="15" fill="#111" font-weight="bold" font-style="normal" text-anchor="start" textLength="82" lengthAdjust="spacingAndGlyphs" >CD8 T cells</text>
<text x="425.8" y="782.5" font-size="15.5" fill="#111" font-weight="bold" font-style="normal" text-anchor="start" textLength="40" lengthAdjust="spacingAndGlyphs" >APCs</text>
<path d="M390.5,797.9 L459.9,812.1 Q475.1,815.8 481.2,826.2 L485.8,802.6 Q476.2,809.9 460.8,807.6 L391.1,794.5Z" fill="#A176BE"/><circle cx="390.8" cy="796.2" r="3.4" fill="#A176BE"/><path d="M486.2,805.8 Q485.1,796.0 492.6,785.8" fill="none" stroke="#A176BE" stroke-width="3.6" stroke-linecap="round"/><path d="M479.4,808.2 Q478.7,799.7 469.9,793.6" fill="none" stroke="#A176BE" stroke-width="3.6" stroke-linecap="round"/><path d="M488.4,808.0 Q490.0,799.1 499.7,793" fill="none" stroke="#A176BE" stroke-width="3.6" stroke-linecap="round"/><path d="M491.5,811.3 Q500.9,811.9 510.1,804" fill="none" stroke="#A176BE" stroke-width="3.6" stroke-linecap="round"/><path d="M493.4,816.7 Q504.3,815.1 516.6,822.1" fill="none" stroke="#A176BE" stroke-width="3.6" stroke-linecap="round"/><path d="M491.3,821.6 Q496.3,831.7 509.4,838.3" fill="none" stroke="#A176BE" stroke-width="3.6" stroke-linecap="round"/><path d="M487.0,820.8 Q494.0,825.3 495.2,835.7" fill="none" stroke="#A176BE" stroke-width="3.6" stroke-linecap="round"/><path d="M484.9,821.2 Q482.3,828.7 488,837" fill="none" stroke="#A176BE" stroke-width="3.6" stroke-linecap="round"/><path d="M481.2,821.2 Q482.6,829.3 475.7,837" fill="none" stroke="#A176BE" stroke-width="3.6" stroke-linecap="round"/><path d="M477.9,818.5 Q469.9,819.3 464.7,828" fill="none" stroke="#A176BE" stroke-width="3.6" stroke-linecap="round"/><circle cx="483.5" cy="814.4" r="16.5" fill="#A176BE"/><ellipse cx="479.6" cy="816.3" rx="10" ry="6.5" transform="rotate(15 479.6 816.3)" fill="#6E4A8E"/>
<path d="M405.9,825.4 L458.5,873.4 Q469.7,884.5 469.7,896.5 L485.7,878.7 Q473.8,880.0 461.6,870.0 L408.1,822.8Z" fill="#A176BE"/><circle cx="407" cy="824.1" r="3.4" fill="#A176BE"/><path d="M476.7,880.2 Q471.8,873.4 474.4,863" fill="none" stroke="#A176BE" stroke-width="3.6" stroke-linecap="round"/><path d="M484.1,881.8 Q493.2,878.9 499,868.2" fill="none" stroke="#A176BE" stroke-width="3.6" stroke-linecap="round"/><path d="M485.1,884.5 Q490.9,877.7 502.3,877.2" fill="none" stroke="#A176BE" stroke-width="3.6" stroke-linecap="round"/><path d="M485.5,888.8 Q492.6,893.9 503.6,891.5" fill="none" stroke="#A176BE" stroke-width="3.6" stroke-linecap="round"/><path d="M484.1,894.4 Q493.4,898.5 499,910.3" fill="none" stroke="#A176BE" stroke-width="3.6" stroke-linecap="round"/><path d="M480.0,897.5 Q478.5,908.3 485.5,920.6" fill="none" stroke="#A176BE" stroke-width="3.6" stroke-linecap="round"/><path d="M476.7,895.0 Q479.7,902.9 474.4,912.2" fill="none" stroke="#A176BE" stroke-width="3.6" stroke-linecap="round"/><path d="M474.8,893.8 Q468.3,898.3 468,908.3" fill="none" stroke="#A176BE" stroke-width="3.6" stroke-linecap="round"/><path d="M471.1,892.1 Q466.7,899.9 455.7,902.5" fill="none" stroke="#A176BE" stroke-width="3.6" stroke-linecap="round"/><path d="M469.9,887.8 Q462.1,884.0 451.8,888.2" fill="none" stroke="#A176BE" stroke-width="3.6" stroke-linecap="round"/><circle cx="477.7" cy="887.6" r="16.5" fill="#A176BE"/><ellipse cx="471.2" cy="886.3" rx="7" ry="11" transform="rotate(-30 471.2 886.3)" fill="#6E4A8E"/>
<circle cx="323.4" cy="940.1" r="3.5" fill="#D64A50"/><circle cx="346.2" cy="941.7" r="3.5" fill="#D64A50"/><circle cx="369" cy="942.8" r="3.5" fill="#E47A7E"/><circle cx="392.3" cy="939.7" r="3.5" fill="#F0AEB0"/><circle cx="421.4" cy="932.3" r="3.5" fill="#D64A50"/><circle cx="441.9" cy="942.5" r="3.5" fill="#F0AEB0"/><circle cx="464.6" cy="934.6" r="3.5" fill="#F0AEB0"/><circle cx="329.7" cy="952.3" r="3.5" fill="#D64A50"/><circle cx="340.4" cy="952.3" r="3.5" fill="#D64A50"/><circle cx="357.2" cy="959" r="3.5" fill="#D64A50"/><circle cx="380.5" cy="952.3" r="3.5" fill="#E47A7E"/><circle cx="402.6" cy="955.9" r="3.5" fill="#D64A50"/><circle cx="421.8" cy="957.8" r="3.5" fill="#E47A7E"/><circle cx="368.2" cy="974.3" r="3.5" fill="#D64A50"/><circle cx="387.6" cy="970.8" r="3.5" fill="#D64A50"/><circle cx="409.2" cy="972.4" r="3.5" fill="#D64A50"/><circle cx="442.5" cy="974.8" r="3.5" fill="#E47A7E"/><circle cx="465.5" cy="968" r="3.5" fill="#D64A50"/><circle cx="415.5" cy="986.1" r="3.5" fill="#D64A50"/><circle cx="396.6" cy="994.3" r="3.5" fill="#D64A50"/><circle cx="433.1" cy="1001.5" r="3.5" fill="#F0AEB0"/><circle cx="388.4" cy="1011.6" r="3.5" fill="#D64A50"/><circle cx="418.3" cy="1009.4" r="3.5" fill="#D64A50"/><circle cx="432.5" cy="1028.6" r="3.5" fill="#D64A50"/><circle cx="411.2" cy="1032.5" r="3.5" fill="#F0AEB0"/>
<text x="451.1" y="1004.3" font-size="15.5" fill="#111" font-weight="bold" font-style="normal" text-anchor="start" textLength="72.2" lengthAdjust="spacingAndGlyphs" >Type I IFN</text>
<text x="451.1" y="1022.5" font-size="15.5" fill="#111" font-weight="bold" font-style="normal" text-anchor="start" textLength="58" lengthAdjust="spacingAndGlyphs" >CXCL10</text>
<rect x="38" y="990" width="336.5" height="134" fill="#C84A4C" stroke="#8A2A2C" stroke-width="2"/>
<text x="61" y="1016.7" font-size="19.5" fill="#fff" font-weight="bold" font-style="italic" text-anchor="start" textLength="92.6" lengthAdjust="spacingAndGlyphs" >Type I IFN</text>
<text x="61" y="1038.9" font-size="19.5" fill="#fff" font-weight="bold" font-style="italic" text-anchor="start" textLength="143.9" lengthAdjust="spacingAndGlyphs" >CCL3 and CCL5</text>
<text x="61" y="1062.2" font-size="19.5" fill="#fff" font-weight="bold" font-style="italic" text-anchor="start" textLength="261" lengthAdjust="spacingAndGlyphs" >APCs: both cross-priming T-</text>
<text x="61" y="1085.8" font-size="19.5" fill="#fff" font-weight="bold" font-style="italic" text-anchor="start" textLength="147.2" lengthAdjust="spacingAndGlyphs" >cells and MHC-I</text>
<text x="61" y="1108.9" font-size="19.5" fill="#fff" font-weight="bold" font-style="italic" text-anchor="start" textLength="163.9" lengthAdjust="spacingAndGlyphs" >PD-L1 expression</text>
<line x1="48" y1="1007.5" x2="48" y2="1021" stroke="#fff" stroke-width="2"/><path d="M48,999.5 L52.5,1008.5 L43.5,1008.5Z" fill="#fff"/>
<line x1="48" y1="1029.5" x2="48" y2="1044" stroke="#fff" stroke-width="2"/><path d="M48,1021.5 L52.5,1030.5 L43.5,1030.5Z" fill="#fff"/>
<line x1="48" y1="1053" x2="48" y2="1067" stroke="#fff" stroke-width="2"/><path d="M48,1045 L52.5,1054 L43.5,1054Z" fill="#fff"/>
<line x1="48" y1="1099" x2="48" y2="1113" stroke="#fff" stroke-width="2"/><path d="M48,1091 L52.5,1100 L43.5,1100Z" fill="#fff"/>
<ellipse cx="830" cy="815" rx="88" ry="95" fill="#FDEDF2"/>
<path d="M829.4,720.6L828.1,721.8L827.4,723.0L827.1,724.1L827.0,725.3L826.9,726.5L826.8,727.7L826.7,728.9L826.5,730.1L826.3,731.3L826.0,732.4L825.7,733.7L825.7,735.0L826.1,736.6L826.1,738.2L824.9,739.0L823.2,739.3L821.9,739.9L820.9,740.7L820.0,741.5L819.1,742.3L818.1,743.0L817.1,743.7L816.1,744.4L815.3,745.3L815.0,746.9L814.6,748.6L813.3,749.0L811.5,748.3L810.0,747.9L808.8,748.0L807.6,748.4L806.5,748.7L805.4,748.9L804.3,749.4L803.4,750.5L802.4,752.4L801.3,753.2L799.9,751.8L798.6,750.2L797.4,749.6L796.3,749.5L795.1,749.5L794.0,749.6L792.7,750.2L791.3,751.5L789.8,752.4L788.7,751.4L787.9,749.8L787.0,748.8L785.9,748.4L784.8,747.9L783.7,747.4L782.6,747.1L781.1,747.1L779.6,747.2L778.8,746.2L778.5,744.5L778.1,743.2L777.5,742.1L776.8,741.2L776.0,740.4L775.3,739.5L774.6,738.6L773.8,737.7L773.0,736.9L771.5,736.5L769.4,736.3L768.0,735.6L768.4,734.0L769.0,732.4L768.9,731.1L768.5,730.0L768.0,728.9L767.4,727.8L766.3,726.8L764.3,725.8L763.0,724.7L764.0,723.2L765.6,721.8L766.3,720.6L766.5,719.4L766.6,718.2L766.7,717.0L766.8,715.8L767.0,714.6L767.2,713.4L767.3,712.1L766.9,710.7L766.2,709.1L766.5,707.8L768.1,707.1L769.6,706.5L770.6,705.6L771.4,704.7L772.2,703.7L772.9,702.8L773.5,701.8L773.4,700.1L772.8,697.9L773.6,696.8L775.8,697.3L777.8,697.6L779.0,697.3L779.9,696.6L780.8,695.8L781.8,695.1L782.7,694.4L783.7,693.7L784.7,693.1L785.8,692.5L786.9,692.0L788.0,691.6L789.1,691.2L790.2,690.5L791.1,688.9L792.1,687.1L793.5,687.5L794.9,689.4L796.2,690.7L797.4,691.2L798.5,691.5L799.7,691.7L800.8,691.9L801.9,692.0L803.1,691.7L804.5,690.9L805.8,690.7L806.8,691.8L807.6,693.1L808.5,693.8L809.6,694.2L810.6,694.6L811.7,695.0L813.1,695.1L814.9,694.5L816.5,694.3L817.1,695.6L817.1,697.5L817.6,698.8L818.3,699.7L819.2,700.4L820.1,701.2L821.1,701.9L822.7,702.2L825.1,702.1L826.8,702.6L826.4,704.4L825.5,706.3L825.4,707.7L825.8,708.8L826.3,709.9L826.7,711.1L827.0,712.3L827.2,713.4L827.4,714.6L827.5,715.8L827.9,717.0L828.9,718.1L829.9,719.3Z" fill="#FCE6EC" stroke="#F4D0DA" stroke-width="0.8" opacity="0.85"/>
<path d="M901.0,720.6L901.1,721.8L901.2,723.0L901.3,724.2L901.2,725.4L901.3,726.7L902.0,728.1L902.8,729.7L902.3,730.9L900.6,731.6L899.1,732.4L898.3,733.3L897.6,734.3L897.0,735.3L896.3,736.3L895.6,737.2L894.9,738.2L894.2,739.2L893.6,740.1L893.1,741.3L893.0,742.9L893.1,744.8L892.2,745.8L890.5,745.7L889.2,746.0L888.7,747.5L888.5,749.6L887.4,750.4L885.5,749.7L883.8,749.1L882.5,749.2L881.4,749.5L880.2,749.9L879.0,750.2L877.9,750.5L876.7,750.7L875.5,750.9L874.3,751.3L873.2,752.6L872.0,754.5L870.7,755.0L869.4,753.3L868.3,751.6L867.1,750.8L866.0,750.4L864.8,750.1L863.7,749.7L862.6,749.3L861.4,749.3L859.8,750.3L858.0,751.2L857.2,750.0L857.0,747.6L856.5,745.9L855.7,745.1L854.8,744.5L853.8,743.9L852.8,743.3L851.8,742.7L850.8,742.1L849.6,741.7L847.7,741.9L845.6,742.0L844.9,740.9L845.4,739.0L845.5,737.4L845.1,736.3L844.5,735.3L844.0,734.2L843.6,733.1L843.2,732.0L842.9,730.9L842.6,729.7L842.4,728.6L842.2,727.5L841.9,726.3L841.4,725.2L840.0,724.2L838.2,723.2L838.1,721.9L839.7,720.6L840.8,719.4L841.1,718.3L841.2,717.1L841.3,715.9L841.4,714.8L841.5,713.6L841.6,712.4L841.0,711.0L839.8,709.2L839.5,707.7L841.1,707.0L842.7,706.3L842.6,704.9L841.7,702.8L842.1,701.5L844.2,701.4L846.0,701.1L847.0,700.4L847.8,699.4L848.6,698.5L849.4,697.6L850.3,696.7L851.2,695.9L852.3,695.2L853.3,694.6L854.4,694.0L855.5,693.5L856.5,692.7L857.2,691.2L858.0,690.0L859.5,690.3L861.2,691.3L862.6,691.7L863.8,691.7L864.9,691.5L866.0,690.9L867.0,689.4L868.1,687.5L869.4,687.2L870.7,688.9L871.9,690.1L873.1,690.5L874.3,690.6L875.4,690.7L876.6,690.8L877.8,691.1L878.9,691.4L880.1,691.8L881.2,692.3L882.3,692.6L883.7,692.4L885.6,691.4L887.2,691.1L887.6,693.0L887.6,695.3L888.1,696.7L888.9,697.5L889.7,698.3L890.6,699.1L891.4,699.9L892.2,700.7L892.9,701.6L893.8,702.4L895.3,702.7L897.6,702.6L898.9,703.3L898.2,705.2L897.2,707.1L897.0,708.5L897.4,709.6L897.8,710.6L898.2,711.7L898.8,712.7L900.2,713.5L902.3,714.3L903.1,715.5L902.0,716.9L901.0,718.2L900.8,719.4Z" fill="#FCE6EC" stroke="#F4D0DA" stroke-width="0.8" opacity="0.85"/>
<path d="M934.7,759.3L935.0,760.4L935.3,761.5L936.1,762.7L937.4,764.1L938.2,765.4L937.4,766.5L936.0,767.4L935.2,768.3L935.2,769.6L936.2,771.2L936.9,772.9L935.9,773.8L933.8,774.1L932.1,774.4L931.1,775.2L930.4,776.0L929.6,776.8L928.9,777.7L928.1,778.5L927.4,779.3L926.6,780.0L925.8,780.8L925.0,781.6L924.3,782.5L923.9,784.1L923.8,786.1L923.0,787.2L921.4,786.7L919.7,785.9L918.4,785.8L917.3,786.1L916.2,786.4L915.1,786.7L914.0,787.0L913.0,787.3L912.0,788.1L911.0,789.7L909.9,791.6L908.7,791.6L907.4,789.9L906.3,788.5L905.1,788.0L904.0,787.8L902.9,787.7L901.8,787.7L900.4,788.3L898.9,789.5L897.5,789.8L896.8,788.1L896.3,786.0L895.7,784.7L894.9,783.8L894.1,783.1L893.3,782.4L892.4,781.7L891.6,781.1L890.5,780.7L888.9,781.0L887.1,781.3L886.4,780.3L886.6,778.6L886.5,777.1L886.0,776.1L885.3,775.4L884.6,774.6L883.9,773.7L883.2,772.8L882.6,771.9L882.1,771.0L881.5,770.0L880.5,769.2L879.0,768.5L877.9,767.6L878.3,766.3L879.3,764.9L879.8,763.7L879.7,762.6L879.0,761.5L877.6,760.5L876.6,759.3L877.3,758.1L878.7,757.0L879.6,756.0L879.9,754.9L880.1,753.9L880.3,752.8L880.5,751.7L880.9,750.7L881.2,749.6L881.6,748.6L881.9,747.5L881.8,746.2L881.1,744.6L880.8,743.0L882.0,742.3L883.8,742.2L885.1,741.7L885.8,740.9L886.5,740.0L887.1,739.0L887.5,737.7L887.5,736.0L887.8,734.4L888.9,733.8L890.5,734.0L891.9,734.0L893.0,733.6L894.1,733.1L895.1,732.7L896.2,732.4L897.4,732.1L898.5,731.9L899.6,731.8L900.7,731.6L901.8,731.0L902.7,729.8L903.8,729.0L905.1,729.5L906.3,730.7L907.4,731.4L908.5,731.6L909.6,731.7L910.7,731.7L911.8,731.8L912.8,731.9L914.0,731.9L915.3,731.4L916.7,730.8L917.8,731.0L918.6,732.3L919.3,733.5L920.1,734.4L921.0,735.0L922.0,735.5L923.3,735.6L925.0,735.0L926.7,734.8L927.3,736.0L927.1,738.0L927.2,739.5L927.7,740.5L928.4,741.3L929.1,742.2L929.7,743.1L930.3,744.0L930.9,744.9L931.4,745.9L931.9,746.8L932.8,747.6L934.4,748.1L935.7,748.8L935.6,750.2L934.4,751.7L933.8,753.0L933.7,754.1L933.9,755.1L934.1,756.1L934.3,757.2L934.5,758.2Z" fill="#FCE6EC" stroke="#F4D0DA" stroke-width="0.8" opacity="0.85"/>
<path d="M779.8,767.4L779.8,768.5L779.8,769.5L779.8,770.6L779.8,771.7L780.4,772.9L781.8,774.4L782.8,775.9L781.8,776.9L779.8,777.4L778.4,778.1L777.7,779.0L777.3,780.0L776.8,781.0L776.3,781.9L775.8,782.9L775.3,783.9L774.7,784.8L774.0,785.7L773.3,786.6L772.7,787.5L772.4,788.8L772.3,790.5L771.7,791.7L770.2,791.6L768.5,791.2L767.2,791.2L766.1,791.6L765.2,792.0L764.2,792.6L763.3,793.3L762.7,794.7L761.9,796.0L760.7,796.3L759.4,795.7L758.2,795.4L757.1,795.5L756.0,795.9L754.9,796.2L753.7,796.4L752.6,796.6L751.4,796.8L750.3,797.1L749.0,797.9L747.6,798.7L746.4,798.4L745.5,797.0L744.6,795.7L743.6,795.0L742.6,794.4L741.6,793.8L740.7,793.3L739.7,792.8L738.5,792.6L736.9,793.0L735.1,793.6L734.1,792.8L734.1,790.8L734.1,789.1L733.6,788.0L732.8,787.2L732.1,786.3L731.4,785.5L730.8,784.6L730.1,783.8L729.1,783.1L727.6,782.7L726.0,782.3L725.7,781.1L726.4,779.5L726.9,778.1L726.8,776.9L726.4,775.9L726.0,774.9L725.7,773.9L725.4,772.8L725.0,771.8L724.3,770.8L722.7,769.8L720.8,768.6L720.7,767.4L722.5,766.2L724.0,765.2L724.2,764.0L723.3,762.8L722.6,761.4L723.4,760.4L725.3,759.7L726.7,759.0L727.4,758.1L727.9,757.2L728.3,756.2L728.8,755.3L729.2,754.3L729.7,753.4L730.1,752.4L730.6,751.4L731.1,750.4L731.6,749.5L732.2,748.5L732.7,747.5L732.8,746.0L732.6,744.0L732.7,742.2L734.1,742.0L736.0,742.6L737.5,742.8L738.6,742.4L739.5,741.6L740.1,740.3L740.7,738.7L741.8,738.1L743.3,738.7L744.7,739.4L745.9,739.5L747.0,739.3L748.1,739.1L749.2,738.9L750.3,738.8L751.5,738.7L752.6,738.7L753.7,738.8L754.8,738.9L756.0,738.9L757.2,738.6L758.5,737.8L759.7,737.6L760.7,738.7L761.5,740.1L762.4,740.9L763.3,741.5L764.4,741.9L765.4,742.3L766.6,742.5L768.1,742.1L770.1,741.2L771.7,741.1L772.0,742.8L772.0,744.7L772.4,746.0L773.3,746.7L774.7,747.0L776.4,747.1L777.3,747.9L777.1,749.6L776.7,751.3L776.7,752.6L777.0,753.7L777.3,754.8L777.6,755.9L777.8,757.0L778.1,758.0L778.4,759.0L779.2,759.9L780.7,760.7L782.1,761.5L781.9,762.8L780.7,764.1L779.9,765.3L779.7,766.3Z" fill="#FCE6EC" stroke="#F4D0DA" stroke-width="0.8" opacity="0.85"/>
<path d="M773.0,832.6L773.5,833.8L772.5,835.0L771.3,836.0L770.7,837.1L770.5,838.2L770.4,839.3L770.1,840.4L769.8,841.5L769.4,842.6L768.9,843.6L768.4,844.6L768.1,845.7L768.3,847.1L768.3,848.5L767.4,849.3L765.7,849.5L764.2,849.8L763.2,850.4L762.4,851.1L761.6,851.8L760.8,852.5L759.9,853.1L759.2,853.9L758.6,854.9L758.5,856.6L758.4,858.7L757.4,859.4L755.6,858.6L754.0,857.8L752.8,857.8L751.8,858.1L750.8,858.5L749.8,858.8L748.9,859.5L748.0,861.0L747.2,862.9L746.0,863.4L744.7,862.2L743.5,860.9L742.4,860.4L741.3,860.4L740.2,860.5L739.1,860.5L738.0,860.5L736.9,860.4L735.7,860.5L734.3,861.1L732.7,862.4L731.3,862.8L730.5,861.2L730.2,859.1L729.6,857.8L728.7,857.0L727.8,856.5L726.5,856.4L724.8,856.8L723.5,856.6L723.1,855.2L723.0,853.6L722.6,852.4L721.9,851.6L721.0,850.9L720.2,850.1L719.4,849.3L718.6,848.5L717.8,847.7L717.1,846.8L716.2,846.0L714.9,845.3L713.4,844.6L712.8,843.5L713.3,842.0L713.9,840.6L714.1,839.4L714.0,838.3L713.9,837.1L713.8,836.0L713.8,834.8L713.9,833.7L713.9,832.6L714.0,831.5L714.1,830.4L714.0,829.2L713.3,828.0L712.1,826.6L711.7,825.2L713.1,824.3L714.6,823.6L714.7,822.4L714.0,820.8L714.4,819.7L716.2,819.2L718.0,818.9L719.0,818.3L719.7,817.4L720.4,816.6L721.0,815.7L721.7,814.9L722.3,814.0L723.0,813.2L723.7,812.3L724.2,811.3L724.4,809.7L724.6,808.1L725.5,807.4L727.1,807.6L728.5,807.8L729.6,807.6L730.7,807.2L731.7,806.8L732.7,806.3L733.6,805.4L734.3,803.9L735.3,803.0L736.7,803.8L738.0,805.1L739.2,805.7L740.3,805.8L741.3,805.8L742.4,805.8L743.5,805.7L744.5,805.3L745.8,804.3L747.1,802.8L748.4,802.5L749.3,803.8L750.1,805.2L751.1,805.9L752.1,806.2L753.2,806.5L754.2,806.9L755.3,807.3L756.3,807.8L757.3,808.3L758.2,808.9L759.2,809.5L760.1,810.1L761.2,810.5L762.7,810.6L764.2,810.8L765.1,811.6L765.2,813.2L765.3,814.5L765.8,815.6L766.5,816.5L767.1,817.5L767.6,818.5L768.1,819.5L768.5,820.6L768.8,821.6L769.2,822.7L769.9,823.7L771.1,824.5L772.3,825.4L772.2,826.7L771.1,828.1L770.4,829.3L770.6,830.4L771.5,831.5Z" fill="#FCE6EC" stroke="#F4D0DA" stroke-width="0.8" opacity="0.85"/>
<path d="M796.9,879.4L797.0,880.6L796.9,881.8L796.7,882.9L796.4,884.1L796.1,885.2L795.7,886.3L795.3,887.4L794.9,888.5L795.0,889.8L795.9,891.4L796.6,893.1L795.4,893.9L793.3,894.2L792.0,894.8L791.9,896.1L792.6,898.1L792.8,899.8L791.3,900.2L789.3,900.1L788.1,900.6L787.2,901.4L786.4,902.3L785.6,903.1L784.7,903.9L783.7,904.6L782.8,905.3L781.8,905.9L780.7,906.6L779.8,907.3L779.0,908.6L778.4,910.6L777.5,912.0L775.9,911.4L774.3,910.3L773.0,910.0L771.8,910.2L770.6,910.4L769.4,910.6L768.1,910.6L766.9,910.6L765.7,910.5L764.5,910.3L763.3,910.0L762.1,909.9L760.7,910.5L759.1,912.0L757.6,912.3L756.9,910.3L756.3,908.1L755.5,907.0L754.4,906.5L753.0,906.6L751.1,907.6L749.3,908.2L748.6,906.8L748.6,904.6L748.1,903.3L747.2,902.5L746.2,901.8L745.3,901.0L744.4,900.2L743.6,899.3L742.9,898.3L742.3,897.3L741.6,896.3L740.7,895.5L738.9,895.1L736.8,894.7L736.6,893.4L738.0,891.4L738.8,889.8L738.1,888.8L736.1,888.1L734.6,887.1L735.5,885.7L737.1,884.1L737.9,882.8L737.9,881.7L737.9,880.5L737.9,879.4L737.9,878.3L738.0,877.1L738.1,876.0L738.2,874.8L737.8,873.6L737.0,872.2L736.6,870.9L737.7,869.9L739.0,869.1L739.8,868.2L740.2,867.1L740.6,866.0L741.0,864.9L741.4,863.8L741.9,862.7L742.4,861.6L743.0,860.6L743.6,859.5L743.9,858.1L743.6,856.1L743.5,854.0L744.9,853.6L747.1,854.3L748.8,854.5L750.0,854.1L751.1,853.6L752.2,853.1L753.3,852.7L754.4,852.3L755.5,851.8L756.6,851.4L757.7,851.0L758.7,850.3L759.6,848.8L760.5,847.2L761.8,846.9L763.2,848.0L764.5,848.6L765.7,848.6L766.9,848.5L768.1,848.4L769.3,848.4L770.6,848.4L771.9,848.0L773.3,847.2L774.7,847.0L775.7,848.2L776.6,849.5L777.6,850.4L778.7,851.0L779.8,851.5L780.8,852.1L781.8,852.7L782.8,853.4L783.9,854.0L785.0,854.5L786.6,854.4L788.3,854.4L789.0,855.5L788.9,857.4L789.1,858.9L789.6,860.0L790.2,861.0L790.9,861.9L792.1,862.5L793.6,863.0L794.2,864.1L793.7,865.7L793.4,867.2L793.6,868.3L794.1,869.4L794.9,870.3L796.2,871.1L797.4,872.1L797.4,873.3L796.8,874.7L796.5,875.9L796.7,877.1L796.8,878.2Z" fill="#FCE6EC" stroke="#F4D0DA" stroke-width="0.8" opacity="0.85"/>
<path d="M863.7,910.0L863.0,911.1L862.8,912.3L862.8,913.4L862.7,914.5L862.6,915.7L862.4,916.8L862.2,917.9L861.9,919.1L861.6,920.2L861.3,921.3L861.4,922.6L862.1,924.3L862.2,925.8L860.8,926.4L859.1,926.8L858.0,927.5L857.3,928.4L856.8,929.5L856.7,931.0L857.2,933.2L857.0,934.9L855.2,934.8L853.2,934.3L851.8,934.5L850.8,935.1L849.7,935.7L848.7,936.3L847.7,936.9L847.0,938.2L846.6,940.3L845.7,941.6L844.0,940.7L842.3,939.3L840.9,938.9L839.8,939.0L838.6,939.3L837.5,939.6L836.3,939.9L835.2,940.1L834.0,940.4L832.8,940.6L831.6,940.9L830.2,941.7L828.8,942.8L827.4,943.0L826.4,941.8L825.4,940.6L824.3,940.0L823.1,939.5L822.0,939.0L820.9,938.4L819.9,937.7L818.9,937.0L817.9,936.2L817.0,935.5L816.1,934.7L814.9,934.2L813.2,934.3L811.3,934.5L810.6,933.4L810.9,931.4L810.5,930.1L808.8,929.8L806.8,929.8L806.3,928.5L807.2,926.4L807.6,924.8L807.4,923.5L807.0,922.4L806.6,921.3L806.3,920.2L805.9,919.1L805.6,918.0L805.4,916.9L805.1,915.7L804.9,914.6L804.6,913.5L804.3,912.3L803.5,911.2L801.8,910.0L800.5,908.7L801.3,907.4L803.1,906.3L804.2,905.3L804.6,904.1L804.9,903.0L805.3,901.9L805.8,900.8L806.0,899.7L805.4,898.2L804.3,896.3L804.6,895.0L806.9,894.8L809.0,894.7L810.0,894.0L810.2,892.7L809.5,890.7L809.0,888.7L810.4,888.2L812.6,888.6L814.0,888.4L814.9,887.6L815.7,886.7L816.5,885.9L817.3,885.0L818.2,884.2L819.2,883.5L820.2,882.9L821.2,882.3L822.3,881.7L823.4,881.2L824.4,880.5L825.3,879.2L826.3,877.8L827.6,877.6L829.0,878.7L830.4,879.3L831.6,879.4L832.8,879.4L834.0,879.3L835.2,879.3L836.4,879.3L837.6,879.2L839.0,878.5L840.5,877.4L841.8,877.6L842.7,879.2L843.5,880.6L844.5,881.4L845.6,882.0L846.6,882.6L847.7,883.1L848.7,883.7L849.8,884.3L851.0,884.5L852.9,884.0L854.9,883.5L855.7,884.6L855.6,886.6L855.9,888.1L856.6,889.1L857.5,890.0L858.3,890.8L859.1,891.8L859.9,892.7L861.1,893.4L862.6,894.0L863.5,895.0L863.0,896.6L862.4,898.2L862.3,899.6L862.4,900.8L862.5,902.0L862.6,903.1L862.7,904.3L863.2,905.4L864.4,906.4L865.5,907.5L865.0,908.8Z" fill="#FCE6EC" stroke="#F4D0DA" stroke-width="0.8" opacity="0.85"/>
<path d="M942.5,810.2L941.5,811.3L940.5,812.3L940.1,813.4L939.9,814.4L939.8,815.4L939.7,816.5L939.8,817.6L940.6,819.0L941.8,820.6L942.1,822.1L940.6,822.7L938.6,823.0L937.2,823.5L936.3,824.2L935.6,825.0L934.9,825.7L934.2,826.5L933.6,827.4L933.4,828.6L933.5,830.2L933.1,831.4L931.7,831.5L930.0,831.2L928.8,831.3L927.9,831.7L927.1,832.3L926.3,833.0L925.7,834.1L925.2,835.7L924.7,837.2L923.6,837.6L922.2,836.9L920.8,836.3L919.7,836.1L918.7,836.2L917.6,836.2L916.6,836.2L915.5,836.2L914.5,836.1L913.5,835.9L912.5,835.8L911.5,835.5L910.5,835.4L909.5,835.5L908.4,836.0L907.1,836.7L906.1,836.6L905.3,835.5L904.6,834.3L903.8,833.7L902.7,833.7L901.3,834.1L900.1,834.1L899.4,833.2L899.0,831.9L898.5,830.8L897.8,830.1L897.1,829.4L896.3,828.8L895.6,828.1L894.8,827.5L893.9,826.9L892.7,826.6L891.1,826.5L890.0,825.9L889.8,824.7L890.0,823.4L889.9,822.2L889.5,821.3L889.0,820.3L888.6,819.4L888.2,818.4L887.9,817.4L887.7,816.4L887.5,815.4L887.4,814.3L887.4,813.3L887.4,812.3L887.2,811.2L886.6,810.2L885.5,809.1L884.9,808.0L885.7,806.9L886.9,806.0L887.8,805.1L888.1,804.1L888.3,803.1L888.5,802.1L888.6,801.0L888.8,800.0L888.7,798.8L888.3,797.4L887.9,795.9L888.5,794.9L889.8,794.4L891.2,794.0L892.2,793.4L893.0,792.7L893.7,791.9L894.5,791.2L895.2,790.5L895.7,789.3L895.8,787.7L896.1,786.3L897.3,786.0L899.0,786.6L900.5,786.9L901.6,786.8L902.6,786.5L903.5,786.1L904.4,785.6L905.2,784.5L905.8,782.9L906.7,781.8L908.0,782.4L909.3,783.7L910.5,784.7L911.5,784.9L912.5,784.9L913.5,784.4L914.6,783.4L915.7,782.6L916.7,782.9L917.6,784.1L918.5,785.0L919.5,785.4L920.4,785.6L921.4,785.8L922.4,786.0L923.4,786.2L924.4,786.6L925.3,787.0L926.3,787.4L927.3,787.8L928.5,787.8L929.9,787.6L931.0,788.1L931.3,789.4L931.3,790.9L931.7,792.0L932.8,792.3L934.6,792.2L936.1,792.4L936.3,793.6L935.7,795.4L935.4,796.8L935.6,797.8L936.1,798.7L936.7,799.5L937.2,800.4L937.7,801.3L938.2,802.2L938.6,803.1L939.0,804.1L939.4,805.1L939.7,806.0L940.4,807.0L941.6,808.0L942.7,809.1Z" fill="#FCE6EC" stroke="#F4D0DA" stroke-width="0.8" opacity="0.85"/>
<path d="M936.6,873.3L937.3,874.4L936.7,875.4L935.3,876.4L934.3,877.2L933.7,878.1L933.4,879.1L933.1,880.0L932.7,880.9L932.3,881.7L931.8,882.6L931.4,883.4L931.1,884.3L931.1,885.5L931.7,887.0L931.9,888.4L931.0,889.0L929.4,889.1L928.0,889.2L927.3,889.9L927.3,891.2L927.6,893.0L927.6,894.6L926.5,895.0L924.9,894.6L923.6,894.5L922.6,894.8L921.7,895.3L920.9,895.8L920.0,896.3L919.1,896.7L918.2,897.2L917.5,898.1L916.8,899.5L916.0,900.7L914.8,900.6L913.6,899.5L912.4,898.5L911.4,898.1L910.4,898.0L909.4,898.0L908.4,898.1L907.4,898.3L906.4,899.0L905.2,900.1L903.9,900.9L902.9,900.3L902.2,899.0L901.4,897.9L900.6,897.3L899.6,896.9L898.7,896.5L897.8,896.1L896.9,895.7L896.0,895.2L895.1,894.6L894.3,894.1L893.4,893.5L892.4,893.2L891.0,893.2L889.3,893.4L888.0,893.0L887.8,891.7L888.1,890.1L888.1,888.7L887.8,887.7L887.3,886.8L886.9,885.9L886.4,885.0L885.9,884.2L884.8,883.5L883.1,883.0L882.1,882.2L882.5,880.9L883.9,879.4L884.9,878.2L885.2,877.1L885.1,876.2L884.5,875.3L883.3,874.3L882.2,873.3L882.3,872.2L883.4,871.3L884.5,870.3L884.9,869.4L885.1,868.5L885.2,867.5L885.4,866.5L885.6,865.6L885.9,864.6L886.3,863.7L886.7,862.8L887.2,862.0L887.6,861.1L887.9,860.1L887.9,858.9L887.8,857.6L888.4,856.7L889.7,856.5L891.1,856.4L892.1,856.0L892.7,855.3L893.0,854.1L893.1,852.6L893.6,851.5L894.7,851.3L896.1,851.6L897.3,851.7L898.3,851.5L899.2,851.1L900.0,850.7L900.9,850.2L901.6,849.3L902.2,847.7L902.8,845.8L903.8,845.1L905.1,846.0L906.3,847.4L907.4,848.1L908.4,848.2L909.4,848.1L910.4,847.9L911.4,847.8L912.5,847.4L913.6,846.5L915.0,845.2L916.3,844.6L917.2,845.6L917.9,847.2L918.6,848.5L919.4,849.2L920.2,849.8L921.1,850.3L921.9,851.0L922.7,851.5L923.6,852.0L924.9,851.9L926.6,851.5L928.0,851.5L928.4,852.7L928.2,854.5L928.1,856.0L928.5,857.0L929.1,857.7L929.8,858.5L930.5,859.2L931.1,860.0L932.0,860.7L933.2,861.2L934.6,861.7L935.4,862.5L935.1,863.8L934.4,865.2L934.1,866.3L934.1,867.4L934.2,868.4L934.3,869.4L934.4,870.3L934.7,871.3L935.4,872.3Z" fill="#FCE6EC" stroke="#F4D0DA" stroke-width="0.8" opacity="0.85"/>
<g opacity="0.93"><path d="M853.3,736.9L853.3,738.2L853.3,739.5L853.2,740.7L853.5,742.1L854.3,743.6L854.6,745.0L853.5,746.1L852.1,747.1L851.4,748.2L850.9,749.4L850.5,750.6L850.6,752.1L851.6,754.1L851.9,756.0L850.1,756.5L847.8,756.5L846.7,757.3L846.6,759.0L846.5,760.7L845.2,761.3L843.2,761.2L841.8,761.5L840.7,762.2L839.7,762.9L838.6,763.6L837.6,764.3L836.5,764.9L835.4,765.6L834.3,766.2L833.2,766.8L832.1,767.4L831.0,768.3L830.1,769.8L829.0,771.2L827.6,770.9L826.0,770.0L824.7,769.6L823.4,769.5L822.1,769.5L820.8,769.4L819.5,769.2L818.2,769.6L816.8,770.9L815.3,771.6L814.2,770.1L813.3,768.1L812.2,767.3L810.7,767.9L809.0,768.8L807.9,768.1L807.3,766.1L806.6,764.7L805.6,764.0L804.5,763.4L803.5,762.8L802.4,762.2L801.4,761.5L800.4,760.8L799.4,760.1L797.9,759.8L795.9,759.9L794.6,759.3L794.7,757.5L794.9,755.7L794.5,754.5L793.8,753.4L793.2,752.4L792.5,751.3L791.9,750.2L791.4,749.1L790.8,747.9L790.4,746.8L789.9,745.6L789.1,744.5L787.7,743.5L786.4,742.4L785.7,741.1L784.7,739.7L785.1,738.3L787.2,736.9L788.6,735.6L789.1,734.4L789.3,733.2L789.5,731.9L789.8,730.7L790.0,729.5L790.3,728.3L790.5,727.1L790.6,725.8L790.1,724.2L789.3,722.4L789.8,721.1L791.4,720.4L792.6,719.6L793.3,718.5L794.0,717.4L794.7,716.3L795.4,715.2L795.8,713.8L795.8,711.9L796.3,710.4L798.2,710.4L800.1,710.6L801.5,710.3L802.7,709.8L803.8,709.2L805.0,708.6L806.1,708.1L807.3,707.7L808.5,707.2L809.7,706.8L810.9,706.4L812.1,705.9L813.1,704.9L814.1,703.4L815.4,702.9L816.9,703.8L818.2,704.2L819.5,702.8L820.8,701.8L822.1,702.9L823.3,704.6L824.5,705.4L825.7,705.7L827.0,705.9L828.2,706.2L829.4,706.5L830.6,706.8L831.8,707.1L833.1,707.3L834.8,706.5L836.9,705.2L838.3,705.7L838.4,708.1L838.8,710.0L839.6,711.0L840.6,711.8L841.5,712.7L842.3,713.6L843.1,714.6L843.9,715.6L844.7,716.5L845.9,717.1L847.7,717.3L848.8,718.2L848.4,720.0L848.1,721.6L849.1,722.5L851.4,722.8L853.0,723.6L852.3,725.3L851.2,727.0L851.2,728.3L851.6,729.5L852.1,730.7L852.5,731.9L852.8,733.1L853.0,734.4L853.2,735.6Z" fill="#FAD6E0" stroke="#C98A9E" stroke-width="1.1"/><path d="M828.2,745.0L828.2,746.3L828.1,747.5L827.9,748.8L827.5,750.0L826.9,751.2L826.2,752.2L825.3,753.1L824.4,754.0L823.6,754.9L822.7,755.8L821.9,756.8L821.1,757.7L820.0,758.6L818.9,759.2L817.6,759.5L816.2,759.4L814.9,758.9L813.7,758.3L812.6,757.6L811.6,757.1L810.5,756.8L809.4,756.7L808.2,756.7L806.9,756.7L805.7,756.5L804.5,756.0L803.5,755.2L802.8,754.1L802.3,753.0L801.9,751.8L801.5,750.7L801.1,749.6L800.6,748.5L800.2,747.4L799.8,746.2L799.5,745.0L799.4,743.7L799.5,742.5L799.7,741.2L799.9,740.0L800.3,738.7L800.7,737.5L801.3,736.3L802.0,735.2L802.9,734.2L804.1,733.5L805.4,733.1L806.7,732.9L808.0,732.8L809.2,732.7L810.3,732.5L811.4,732.1L812.5,731.6L813.7,731.0L815.0,730.7L816.2,730.6L817.5,731.0L818.6,731.7L819.5,732.6L820.2,733.7L820.9,734.7L821.7,735.5L822.5,736.2L823.5,736.8L824.5,737.4L825.6,738.1L826.5,739.0L827.2,740.1L827.7,741.2L828.0,742.5L828.2,743.7Z" fill="#F5B4C7" stroke="#C98A9E" stroke-width="0.6" stroke-opacity="0.5"/><circle cx="806.5" cy="719.8" r="0.9" fill="#F0B0C0"/><circle cx="817.8" cy="718.5" r="0.9" fill="#F0B0C0"/><circle cx="813.8" cy="716.3" r="0.9" fill="#F0B0C0"/><circle cx="805.4" cy="724.6" r="0.9" fill="#F0B0C0"/><circle cx="809.2" cy="754.0" r="0.9" fill="#F0B0C0"/><circle cx="808.7" cy="759.1" r="0.9" fill="#F0B0C0"/><circle cx="793.6" cy="741.6" r="0.9" fill="#F0B0C0"/><circle cx="803.2" cy="726.9" r="0.9" fill="#F0B0C0"/><circle cx="803.1" cy="721.8" r="0.9" fill="#F0B0C0"/><circle cx="835.5" cy="754.9" r="0.9" fill="#F0B0C0"/></g>
<g opacity="0.93"><path d="M790.9,779.6L790.6,780.6L790.5,781.6L790.6,782.6L791.1,783.8L792.3,785.1L793.4,786.5L793.0,787.5L791.1,788.2L789.3,788.7L788.3,789.3L787.7,790.2L787.3,791.1L786.9,792.0L786.8,793.1L787.1,794.5L787.2,795.9L786.5,796.7L785.1,796.9L783.8,797.1L782.8,797.6L782.0,798.2L781.3,798.9L780.7,799.8L780.3,801.0L780.0,802.3L779.2,803.0L777.9,802.9L776.5,802.6L775.4,802.7L774.5,802.9L773.6,803.3L772.6,803.7L771.8,804.4L771.0,805.5L770.2,806.9L769.2,807.5L768.0,806.8L766.9,805.7L765.8,805.0L764.8,804.7L763.8,804.5L762.9,804.3L761.9,804.1L760.9,804.2L759.8,804.7L758.6,805.5L757.5,805.5L756.8,804.3L756.2,802.9L755.5,802.0L754.7,801.5L753.9,801.1L753.0,800.7L752.1,800.3L751.2,799.9L750.4,799.5L749.5,799.0L748.7,798.5L747.9,797.9L746.8,797.6L745.5,797.5L744.0,797.3L743.2,796.6L743.3,795.2L743.5,793.8L743.4,792.7L743.0,791.8L742.5,791.0L741.7,790.3L740.2,789.8L738.5,789.3L737.7,788.4L738.4,787.1L739.5,785.7L740.0,784.5L740.0,783.5L739.9,782.6L739.6,781.6L738.9,780.6L737.9,779.6L737.3,778.5L737.9,777.5L739.0,776.5L739.8,775.6L740.1,774.7L740.2,773.7L739.7,772.5L738.6,771.1L737.6,769.6L738.1,768.5L739.7,768.0L741.3,767.6L742.2,767.0L742.8,766.1L743.3,765.2L743.6,764.2L743.7,763.0L743.3,761.2L742.9,759.4L743.7,758.5L745.6,758.8L747.5,759.3L748.8,759.3L749.8,759.0L750.8,758.6L751.7,758.2L752.6,757.8L753.5,757.4L754.3,756.9L755.0,756.0L755.6,754.6L756.2,753.3L757.2,752.7L758.2,752.2L759.2,751.5L760.4,751.6L761.6,752.8L762.8,754.0L763.8,754.6L764.8,754.7L765.8,754.7L766.8,754.8L767.7,754.8L768.8,754.6L769.9,754.0L771.1,753.5L772.1,753.8L772.8,754.9L773.5,756.0L774.3,756.7L775.1,757.2L776.0,757.6L776.9,758.1L777.7,758.5L778.5,759.1L779.3,759.6L780.1,760.2L781.1,760.6L782.4,760.6L784.2,760.2L785.6,760.3L785.8,761.6L785.2,763.5L784.9,765.0L785.1,766.1L785.5,766.9L786.0,767.7L786.5,768.5L787.4,769.2L788.9,769.6L791.0,769.9L792.2,770.7L791.8,772.0L790.8,773.4L790.8,774.4L791.7,775.3L792.5,776.3L792.3,777.4L791.5,778.6Z" fill="#FAD6E0" stroke="#C98A9E" stroke-width="1.1"/><path d="M779.1,781.7L778.7,782.6L778.2,783.3L777.8,784.1L777.6,784.9L777.4,785.7L777.3,786.6L777.2,787.5L777.0,788.5L776.6,789.4L776.0,790.1L775.2,790.7L774.3,791.1L773.4,791.4L772.5,791.5L771.6,791.7L770.7,791.8L769.8,791.9L768.9,791.9L768.0,791.7L767.2,791.5L766.4,791.2L765.6,790.8L764.8,790.4L764.1,790.1L763.3,789.8L762.5,789.4L761.7,788.9L761.1,788.3L760.6,787.5L760.4,786.6L760.3,785.7L760.4,784.8L760.4,784.0L760.3,783.2L760.0,782.5L759.7,781.7L759.2,780.9L758.8,779.9L758.6,779.0L758.7,778.0L759.1,777.1L759.7,776.4L760.4,775.7L761.1,775.2L761.9,774.7L762.5,774.1L763.2,773.5L763.8,772.9L764.5,772.3L765.3,771.8L766.2,771.5L767.1,771.3L768.0,771.2L768.9,771.3L769.8,771.4L770.7,771.5L771.6,771.7L772.4,772.1L773.2,772.5L773.9,773.1L774.4,773.8L774.9,774.6L775.3,775.3L775.7,776.0L776.2,776.6L776.8,777.1L777.5,777.7L778.2,778.3L778.8,779.0L779.2,779.9L779.2,780.8Z" fill="#F5B4C7" stroke="#C98A9E" stroke-width="0.6" stroke-opacity="0.5"/><circle cx="769.0" cy="795.8" r="0.9" fill="#F0B0C0"/><circle cx="770.5" cy="795.4" r="0.9" fill="#F0B0C0"/><circle cx="747.7" cy="772.5" r="0.9" fill="#F0B0C0"/><circle cx="764.3" cy="796.1" r="0.9" fill="#F0B0C0"/><circle cx="773.4" cy="797.3" r="0.9" fill="#F0B0C0"/><circle cx="759.3" cy="799.0" r="0.9" fill="#F0B0C0"/><circle cx="777.4" cy="785.9" r="0.9" fill="#F0B0C0"/><circle cx="749.8" cy="787.4" r="0.9" fill="#F0B0C0"/><circle cx="765.0" cy="759.5" r="0.9" fill="#F0B0C0"/><circle cx="748.8" cy="778.3" r="0.9" fill="#F0B0C0"/></g>
<g opacity="0.93"><path d="M833.9,775.6L834.6,776.8L836.1,778.2L836.5,779.5L835.1,780.6L833.7,781.6L833.0,782.7L832.7,783.8L832.6,785.1L833.0,786.5L834.1,788.3L834.3,789.8L832.5,790.4L830.7,790.8L829.6,791.6L828.9,792.6L828.2,793.6L827.5,794.5L826.7,795.5L826.0,796.4L825.2,797.3L824.3,798.1L823.5,799.0L822.6,799.9L822.0,801.1L821.8,803.0L821.3,804.6L819.7,804.5L817.9,803.8L816.5,803.8L815.3,804.1L814.1,804.5L813.0,804.8L811.8,805.1L810.7,805.5L809.7,806.6L808.7,808.7L807.6,809.9L806.1,808.6L804.7,807.0L803.5,806.5L802.3,806.5L801.0,806.8L799.7,807.9L798.1,809.7L796.7,810.0L795.6,808.4L794.7,806.8L793.5,806.2L792.3,806.1L790.7,806.5L789.1,806.9L788.0,806.0L787.4,804.3L786.7,803.0L785.8,802.1L784.8,801.3L783.9,800.4L783.0,799.6L782.2,798.7L781.4,797.7L780.6,796.8L779.8,795.9L779.0,794.9L778.3,793.9L777.5,793.0L776.3,792.2L774.6,791.8L773.3,791.0L773.5,789.4L773.5,788.0L771.9,787.3L770.3,786.4L771.0,784.8L772.6,783.0L773.1,781.6L773.1,780.4L773.0,779.2L772.8,778.0L772.7,776.8L772.7,775.6L772.6,774.4L772.7,773.2L772.7,772.0L772.4,770.7L771.6,769.2L770.9,767.8L771.8,766.7L773.4,765.8L774.4,764.9L774.9,763.8L775.0,762.5L774.5,760.8L774.7,759.5L776.3,759.0L778.1,758.6L779.3,758.0L780.1,757.1L780.9,756.3L781.7,755.4L782.4,754.5L783.2,753.7L784.0,752.8L784.9,751.9L785.7,751.0L786.2,749.7L786.3,747.5L786.5,745.3L788.0,745.1L789.9,746.1L791.1,745.6L791.7,743.7L792.7,742.5L794.4,743.4L796.0,744.5L797.4,744.8L798.6,744.6L799.8,744.5L801.0,744.4L802.3,744.3L803.5,744.3L804.7,744.3L806.0,744.2L807.3,743.8L808.7,742.6L810.3,741.6L811.4,742.6L812.3,744.4L813.3,745.5L814.4,746.1L815.5,746.6L816.6,747.1L817.7,747.7L818.8,748.3L819.8,749.0L820.9,749.5L822.4,749.6L824.4,749.1L825.9,749.4L826.0,751.2L826.1,753.0L826.8,754.1L828.4,754.3L830.9,754.0L832.5,754.5L832.1,756.5L831.4,758.5L831.5,759.9L832.0,761.1L832.5,762.2L832.9,763.4L833.2,764.6L833.5,765.8L834.1,767.0L835.3,768.0L836.5,769.0L836.1,770.4L834.8,771.9L834.0,773.2L833.8,774.4Z" fill="#FAD6E0" stroke="#C98A9E" stroke-width="1.1"/><path d="M827.0,779.6L826.4,780.8L825.8,781.9L825.4,783.0L825.3,784.2L825.3,785.5L825.3,786.9L825.1,788.3L824.7,789.7L824.0,790.9L823.0,791.9L821.8,792.6L820.5,793.2L819.2,793.6L817.9,794.0L816.7,794.4L815.4,794.8L814.0,795.0L812.7,795.1L811.4,795.0L810.0,794.8L808.7,794.4L807.5,793.9L806.2,793.5L805.0,793.0L803.7,792.4L802.6,791.7L801.5,790.8L800.8,789.6L800.3,788.3L800.1,786.9L800.1,785.5L800.2,784.2L800.1,783.0L799.7,781.9L799.2,780.8L798.5,779.6L797.9,778.3L797.6,776.9L797.6,775.6L798.0,774.3L798.8,773.1L799.8,772.2L800.8,771.3L801.8,770.5L802.7,769.6L803.5,768.6L804.2,767.5L805.1,766.4L806.1,765.4L807.3,764.7L808.5,764.1L809.9,763.8L811.3,763.6L812.7,763.6L814.1,763.7L815.5,763.9L816.8,764.2L818.1,764.8L819.3,765.5L820.3,766.5L821.1,767.6L821.9,768.6L822.6,769.7L823.4,770.6L824.3,771.5L825.3,772.3L826.3,773.2L827.2,774.3L827.7,775.6L827.8,776.9L827.6,778.3Z" fill="#F5B4C7" stroke="#C98A9E" stroke-width="0.6" stroke-opacity="0.5"/><circle cx="778.4" cy="782.3" r="0.9" fill="#F0B0C0"/><circle cx="824.3" cy="779.8" r="0.9" fill="#F0B0C0"/><circle cx="827.1" cy="769.7" r="0.9" fill="#F0B0C0"/><circle cx="818.6" cy="791.3" r="0.9" fill="#F0B0C0"/><circle cx="819.9" cy="760.1" r="0.9" fill="#F0B0C0"/><circle cx="829.2" cy="780.3" r="0.9" fill="#F0B0C0"/><circle cx="820.0" cy="793.2" r="0.9" fill="#F0B0C0"/><circle cx="786.9" cy="760.1" r="0.9" fill="#F0B0C0"/><circle cx="823.3" cy="770.7" r="0.9" fill="#F0B0C0"/><circle cx="787.7" cy="763.5" r="0.9" fill="#F0B0C0"/></g>
<g opacity="0.93"><path d="M902.6,771.5L902.1,772.8L901.9,774.1L901.8,775.4L901.6,776.7L901.4,778.0L901.3,779.3L901.8,780.8L902.8,782.6L902.3,783.9L900.4,784.6L899.1,785.5L898.4,786.7L897.8,787.8L897.1,788.9L896.4,790.0L895.7,791.1L894.9,792.2L894.1,793.2L893.4,794.3L892.9,795.7L893.3,798.1L893.0,800.0L891.0,799.8L888.9,799.4L887.6,799.8L886.4,800.5L885.3,801.1L884.1,801.7L882.9,802.2L881.6,802.7L880.5,803.5L879.5,804.8L878.4,806.0L876.8,805.4L875.3,804.6L874.0,805.1L872.9,806.6L871.5,807.3L870.1,806.1L868.7,805.3L867.4,805.1L866.0,805.2L864.7,805.3L863.3,805.4L862.0,805.3L860.6,805.2L859.2,805.1L857.9,804.8L856.5,804.7L854.7,805.3L852.5,806.6L851.2,805.9L850.9,803.3L850.3,801.6L849.3,800.6L848.2,799.7L847.2,798.8L846.2,797.9L845.2,796.9L844.2,796.0L843.1,795.2L841.1,795.0L838.6,795.2L838.1,793.7L839.1,791.3L839.2,789.6L838.7,788.3L838.2,787.1L837.5,785.9L836.3,784.9L834.2,784.2L833.2,783.0L834.4,781.2L835.4,779.5L835.5,778.1L835.3,776.8L835.0,775.5L834.0,774.2L832.4,772.9L832.3,771.5L833.7,770.1L834.6,768.8L834.8,767.5L834.9,766.1L835.1,764.8L835.3,763.5L835.0,762.0L833.9,760.2L833.7,758.6L835.7,757.8L837.7,757.2L838.7,756.2L839.6,755.2L840.4,754.1L841.2,753.2L842.1,752.2L843.0,751.2L843.9,750.3L844.7,749.3L845.1,747.9L844.9,745.8L845.2,744.0L847.1,744.1L849.0,744.4L850.2,743.8L851.3,743.0L852.3,742.2L853.3,741.2L853.9,739.4L854.6,737.4L856.1,737.4L857.9,738.4L859.4,738.6L860.7,738.3L862.0,738.0L863.3,737.7L864.6,737.1L865.8,735.3L867.2,733.5L868.7,734.4L870.1,736.3L871.4,737.1L872.8,737.3L874.1,737.4L875.4,737.6L876.8,737.9L878.1,738.2L879.4,738.7L880.7,739.0L882.3,738.8L884.3,737.6L885.9,737.8L886.2,740.2L886.7,742.1L887.6,743.2L888.7,743.9L889.8,744.7L891.3,745.1L893.6,744.5L895.9,744.3L896.0,746.3L895.6,748.5L896.1,749.9L896.9,751.0L897.8,752.0L898.7,753.1L899.4,754.3L900.2,755.4L901.6,756.3L903.4,757.1L903.9,758.5L902.8,760.4L902.2,762.1L902.2,763.5L902.3,764.8L902.8,766.1L904.4,767.3L905.5,768.6L904.2,770.1Z" fill="#FAD6E0" stroke="#C98A9E" stroke-width="1.1"/><path d="M891.3,777.6L891.1,779.0L890.5,780.4L889.9,781.6L889.2,782.9L888.7,784.1L888.3,785.4L888.1,786.9L887.7,788.5L887.2,790.0L886.4,791.4L885.2,792.5L883.7,793.1L882.1,793.3L880.5,793.2L878.9,792.9L877.5,792.7L876.1,792.6L874.8,792.7L873.5,792.9L872.1,793.0L870.7,793.0L869.3,792.7L868.0,792.2L866.9,791.4L865.8,790.4L864.9,789.4L864.0,788.4L863.1,787.4L862.3,786.4L861.5,785.3L861.0,784.1L860.5,782.8L860.3,781.5L860.1,780.2L859.8,778.9L859.5,777.6L859.1,776.2L858.6,774.8L858.3,773.2L858.3,771.6L858.7,770.1L859.5,768.8L860.7,767.7L862.0,766.9L863.5,766.3L864.8,765.7L866.0,765.0L867.0,764.1L868.0,763.1L869.1,762.0L870.4,761.1L871.8,760.5L873.3,760.3L874.8,760.5L876.2,761.1L877.6,761.9L878.8,762.7L879.9,763.5L881.1,764.2L882.2,764.8L883.3,765.4L884.4,766.1L885.5,766.9L886.4,767.9L887.2,768.9L888.0,770.0L888.8,771.1L889.5,772.2L890.3,773.5L890.9,774.8L891.3,776.2Z" fill="#F5B4C7" stroke="#C98A9E" stroke-width="0.6" stroke-opacity="0.5"/><circle cx="852.4" cy="786.7" r="0.9" fill="#F0B0C0"/><circle cx="883.4" cy="796.7" r="0.9" fill="#F0B0C0"/><circle cx="844.9" cy="758.9" r="0.9" fill="#F0B0C0"/><circle cx="846.2" cy="763.7" r="0.9" fill="#F0B0C0"/><circle cx="865.7" cy="745.9" r="0.9" fill="#F0B0C0"/><circle cx="873.8" cy="745.4" r="0.9" fill="#F0B0C0"/><circle cx="881.6" cy="750.8" r="0.9" fill="#F0B0C0"/><circle cx="880.8" cy="789.3" r="0.9" fill="#F0B0C0"/><circle cx="865.0" cy="750.1" r="0.9" fill="#F0B0C0"/><circle cx="853.9" cy="749.9" r="0.9" fill="#F0B0C0"/></g>
<g opacity="0.93"><path d="M805.3,828.5L806.0,829.8L807.2,831.1L807.2,832.4L805.9,833.6L805.0,834.7L804.6,835.8L804.4,837.1L804.1,838.3L803.9,839.5L803.8,840.8L804.5,842.6L805.7,844.7L805.0,845.9L802.6,846.0L800.7,846.4L799.7,847.2L798.9,848.1L798.0,849.0L797.1,849.9L796.2,850.7L795.3,851.6L794.4,852.4L793.5,853.2L792.9,854.5L792.8,856.7L792.4,858.6L790.7,858.4L788.7,857.4L787.3,857.3L786.1,857.7L784.9,858.1L783.8,858.5L782.6,858.9L781.4,859.2L780.2,859.5L779.0,859.8L777.8,860.3L776.6,861.7L775.4,863.3L774.0,863.1L772.7,861.6L771.5,860.8L770.2,860.7L768.9,860.7L767.6,860.7L766.3,860.6L764.9,860.7L763.2,861.7L761.4,862.7L760.2,861.7L759.7,859.6L758.9,858.2L757.9,857.3L756.8,856.6L755.7,855.9L754.1,855.9L752.0,856.5L750.8,855.7L751.0,853.4L751.1,851.4L750.5,850.2L749.7,849.3L748.9,848.3L748.1,847.3L747.4,846.3L746.5,845.3L745.4,844.5L743.6,844.0L742.1,843.2L742.4,841.6L743.0,839.9L742.9,838.6L741.7,837.6L739.6,836.8L738.9,835.5L740.3,833.8L741.6,832.3L741.9,831.0L742.0,829.8L742.0,828.5L742.1,827.2L742.2,826.0L742.3,824.7L742.1,823.5L741.1,821.9L739.7,820.3L740.4,819.0L742.6,818.3L744.1,817.5L744.9,816.4L745.5,815.3L745.9,814.2L745.6,812.6L744.6,810.5L745.0,809.1L747.4,809.2L749.4,809.1L750.6,808.5L751.3,807.5L751.7,806.2L751.3,804.0L751.5,802.1L753.2,802.1L755.1,802.5L756.4,802.1L757.4,801.4L758.4,800.6L759.4,799.9L760.5,799.2L761.6,798.6L762.8,798.1L763.9,797.5L765.0,796.6L766.0,795.3L767.3,794.6L768.8,795.4L770.2,796.3L771.5,796.5L772.7,796.5L774.0,796.6L775.3,796.6L776.5,796.7L777.8,796.8L779.0,796.9L780.3,796.7L781.8,795.8L783.4,795.3L784.5,796.3L785.4,797.7L786.4,798.5L787.7,798.9L789.2,798.7L791.0,798.1L792.4,798.4L792.9,800.2L793.3,801.9L794.2,802.9L795.2,803.7L796.2,804.5L797.1,805.4L798.4,806.0L800.1,806.2L801.8,806.6L802.1,808.1L801.9,809.9L802.2,811.2L802.7,812.4L803.3,813.6L803.8,814.7L804.6,815.8L806.1,816.6L808.2,817.4L808.4,818.8L806.6,820.7L805.5,822.2L805.3,823.5L805.2,824.8L805.2,826.0L805.2,827.3Z" fill="#FAD6E0" stroke="#C98A9E" stroke-width="1.1"/><path d="M787.6,834.6L787.2,835.8L787.1,836.9L787.1,838.1L787.2,839.4L787.3,840.8L787.1,842.2L786.6,843.4L785.7,844.5L784.7,845.3L783.4,845.9L782.2,846.3L781.1,846.8L779.9,847.4L778.9,848.0L777.8,848.6L776.6,849.2L775.3,849.7L774.0,850.0L772.6,850.1L771.3,850.0L769.9,849.8L768.6,849.5L767.2,849.2L765.9,848.7L764.6,848.0L763.6,847.1L762.7,845.9L762.1,844.6L761.7,843.2L761.4,841.8L761.1,840.6L760.7,839.4L760.1,838.3L759.4,837.2L758.8,835.9L758.3,834.6L758.3,833.2L758.6,831.9L759.4,830.7L760.4,829.6L761.5,828.7L762.4,827.9L763.2,827.1L763.8,826.1L764.4,825.0L764.9,823.8L765.6,822.6L766.4,821.5L767.5,820.6L768.7,820.0L770.0,819.7L771.3,819.4L772.7,819.3L774.0,819.2L775.3,819.2L776.7,819.3L778.0,819.6L779.3,820.0L780.5,820.6L781.6,821.4L782.7,822.2L783.7,823.0L784.8,823.8L786.0,824.5L787.1,825.4L788.1,826.5L788.8,827.7L789.2,829.1L789.1,830.6L788.7,832.0L788.2,833.4Z" fill="#F5B4C7" stroke="#C98A9E" stroke-width="0.6" stroke-opacity="0.5"/><circle cx="761.7" cy="813.8" r="0.9" fill="#F0B0C0"/><circle cx="770.7" cy="849.3" r="0.9" fill="#F0B0C0"/><circle cx="771.8" cy="803.5" r="0.9" fill="#F0B0C0"/><circle cx="789.4" cy="816.1" r="0.9" fill="#F0B0C0"/><circle cx="757.0" cy="837.6" r="0.9" fill="#F0B0C0"/><circle cx="778.6" cy="851.6" r="0.9" fill="#F0B0C0"/><circle cx="794.5" cy="831.9" r="0.9" fill="#F0B0C0"/><circle cx="759.9" cy="809.2" r="0.9" fill="#F0B0C0"/><circle cx="778.5" cy="852.4" r="0.9" fill="#F0B0C0"/><circle cx="780.9" cy="810.7" r="0.9" fill="#F0B0C0"/></g>
<g opacity="0.93"><path d="M919.5,832.6L919.6,833.9L919.6,835.2L919.6,836.5L919.7,837.8L920.3,839.2L921.8,841.0L922.4,842.6L920.6,843.5L918.4,844.2L917.3,845.1L916.5,846.2L915.8,847.3L915.1,848.3L914.3,849.3L913.5,850.3L912.6,851.2L911.8,852.2L911.4,853.4L911.5,855.2L911.2,856.8L909.6,857.0L907.7,856.9L906.4,857.3L905.4,857.9L904.4,858.6L903.5,859.5L902.9,861.1L902.7,863.5L901.7,864.4L899.7,863.3L898.0,862.3L896.7,862.4L895.5,862.9L894.5,864.0L893.5,865.5L892.3,865.8L890.8,864.9L889.5,864.3L888.2,864.3L887.0,864.4L885.7,864.5L884.5,864.5L883.2,864.5L881.9,864.8L880.4,866.0L878.7,867.3L877.5,866.4L876.8,864.1L875.9,862.7L874.8,862.0L873.8,861.3L872.7,860.7L871.6,860.1L870.5,859.6L869.0,859.6L867.2,859.9L866.1,859.2L865.8,857.4L865.3,856.1L864.4,855.2L863.4,854.4L862.5,853.6L861.5,852.7L860.6,851.8L859.7,850.9L858.3,850.2L856.4,849.7L855.0,848.9L855.4,847.2L856.0,845.4L855.9,844.1L855.6,842.8L855.3,841.5L855.1,840.3L854.8,839.0L854.6,837.7L854.2,836.5L853.1,835.3L852.0,834.0L852.4,832.6L853.7,831.3L854.5,830.0L854.8,828.8L854.9,827.5L854.7,826.2L853.8,824.6L853.2,823.1L854.6,822.1L856.4,821.3L857.5,820.4L858.2,819.3L858.8,818.2L859.4,817.2L860.1,816.1L860.8,815.1L861.4,814.0L862.1,813.0L862.5,811.7L862.4,809.9L862.7,808.3L864.1,807.8L865.8,807.8L867.0,807.3L868.1,806.5L869.1,805.8L870.2,805.1L871.1,804.2L871.7,802.6L872.4,801.0L874.0,801.1L875.8,802.2L877.3,802.6L878.5,802.3L879.5,801.2L880.5,799.8L881.8,800.0L883.3,801.1L884.6,801.7L885.8,801.8L887.0,801.7L888.2,801.6L889.4,801.5L890.7,801.5L891.9,801.6L893.2,801.6L894.4,801.8L895.7,801.7L897.2,801.1L898.8,800.6L899.9,801.5L900.7,802.9L901.6,803.9L902.7,804.5L903.8,805.1L905.1,805.5L906.8,805.3L908.7,805.1L909.5,806.2L909.6,808.1L910.1,809.5L911.0,810.4L911.9,811.4L912.7,812.3L913.5,813.4L914.3,814.4L915.3,815.2L917.1,815.7L918.7,816.5L918.4,818.1L917.5,820.0L917.3,821.4L917.5,822.7L917.8,823.9L918.3,825.1L919.3,826.2L921.2,827.2L922.1,828.4L920.9,829.9L919.8,831.3Z" fill="#FAD6E0" stroke="#C98A9E" stroke-width="1.1"/><path d="M891.8,832.6L891.1,833.8L890.6,834.8L890.3,835.9L890.1,837.0L890.1,838.3L889.9,839.5L889.6,840.8L888.9,841.9L888.0,842.7L886.9,843.3L885.7,843.8L884.5,844.1L883.4,844.3L882.3,844.7L881.2,845.1L880.2,845.5L879.1,845.9L877.9,846.2L876.7,846.3L875.5,846.3L874.3,846.1L873.0,845.9L871.8,845.7L870.5,845.4L869.3,844.9L868.1,844.3L867.1,843.4L866.3,842.3L865.8,841.0L865.5,839.7L865.3,838.5L865.1,837.2L864.8,836.1L864.3,835.0L863.7,833.8L863.2,832.6L862.9,831.3L862.9,830.0L863.4,828.7L864.2,827.6L865.2,826.7L866.4,825.9L867.4,825.3L868.4,824.6L869.1,823.8L869.8,822.9L870.4,822.0L871.2,821.0L872.1,820.2L873.1,819.5L874.3,819.1L875.5,818.9L876.7,818.8L877.9,818.7L879.1,818.7L880.3,818.8L881.6,819.0L882.8,819.3L883.9,819.8L884.9,820.4L885.9,821.1L886.9,821.9L887.8,822.7L888.8,823.4L889.9,824.2L891.0,825.0L891.9,826.1L892.6,827.2L892.9,828.6L892.9,830.0L892.4,831.3Z" fill="#F5B4C7" stroke="#C98A9E" stroke-width="0.6" stroke-opacity="0.5"/><circle cx="911.2" cy="838.6" r="0.9" fill="#F0B0C0"/><circle cx="901.0" cy="850.4" r="0.9" fill="#F0B0C0"/><circle cx="874.7" cy="809.8" r="0.9" fill="#F0B0C0"/><circle cx="865.0" cy="839.3" r="0.9" fill="#F0B0C0"/><circle cx="909.2" cy="835.3" r="0.9" fill="#F0B0C0"/><circle cx="868.6" cy="851.7" r="0.9" fill="#F0B0C0"/><circle cx="862.5" cy="825.2" r="0.9" fill="#F0B0C0"/><circle cx="868.9" cy="840.6" r="0.9" fill="#F0B0C0"/><circle cx="902.5" cy="811.4" r="0.9" fill="#F0B0C0"/><circle cx="873.5" cy="845.9" r="0.9" fill="#F0B0C0"/></g>
<g opacity="0.93"><path d="M814.9,873.3L815.0,874.3L815.6,875.4L816.6,876.5L817.3,877.7L816.8,878.8L815.5,879.6L814.5,880.4L813.9,881.3L813.7,882.3L813.8,883.5L814.6,885.0L815.4,886.6L814.8,887.6L813.0,887.8L811.2,888.0L810.1,888.4L809.3,889.1L808.6,889.8L807.9,890.5L807.4,891.4L807.4,892.9L807.8,894.9L807.5,896.4L806.2,896.5L804.3,895.8L803.0,895.6L802.0,895.9L801.1,896.5L800.3,897.1L799.4,897.7L798.5,898.2L797.5,898.7L796.6,899.1L795.6,899.7L794.8,900.9L794.0,902.7L792.9,903.9L791.7,903.6L790.5,902.9L789.3,902.6L788.2,902.0L787.1,900.9L786.1,899.9L785.2,899.4L784.2,899.2L783.1,898.9L782.1,898.7L781.1,898.4L780.1,898.3L778.8,898.7L777.3,899.4L776.0,899.3L775.5,898.0L775.1,896.4L774.6,895.3L773.9,894.5L773.1,893.8L772.4,893.1L771.6,892.4L770.9,891.7L770.2,891.0L769.3,890.4L767.8,890.2L765.8,890.3L764.4,890.0L764.4,888.5L765.2,886.8L765.5,885.4L765.3,884.3L764.9,883.4L764.3,882.5L763.1,881.8L761.4,881.2L760.6,880.2L761.3,878.9L762.7,877.5L763.5,876.3L763.9,875.3L764.0,874.3L764.1,873.3L764.0,872.3L763.6,871.3L762.8,870.2L762.4,869.0L763.1,868.1L764.2,867.3L764.9,866.4L765.3,865.5L765.5,864.5L765.7,863.5L765.7,862.4L765.3,861.1L764.8,859.6L765.1,858.5L766.4,858.0L767.8,857.7L768.8,857.1L769.5,856.4L770.2,855.6L770.7,854.7L771.0,853.5L771.2,852.1L771.8,851.1L773.1,851.0L774.4,851.1L775.6,850.9L776.5,850.5L777.4,850.0L778.3,849.5L779.2,849.0L780.2,848.5L781.0,847.7L781.6,846.1L782.3,844.3L783.4,843.8L784.8,845.0L786.1,846.2L787.2,846.1L788.2,844.9L789.3,843.9L790.4,844.5L791.5,845.9L792.4,846.9L793.4,847.3L794.4,847.4L795.5,847.5L796.5,847.7L797.6,847.9L798.6,848.1L799.7,848.3L800.9,848.2L802.4,847.6L804.0,847.0L805.1,847.5L805.4,849.3L805.5,851.0L805.9,852.3L806.5,853.1L807.3,853.9L808.3,854.3L809.8,854.4L811.3,854.5L811.9,855.5L811.5,857.2L811.1,858.7L811.2,859.9L811.8,860.7L812.7,861.4L814.4,861.7L816.1,862.2L816.4,863.3L815.5,864.8L814.6,866.2L814.4,867.3L814.5,868.3L814.6,869.3L814.8,870.3L814.8,871.3L814.9,872.3Z" fill="#FAD6E0" stroke="#C98A9E" stroke-width="1.1"/><path d="M808.8,875.4L808.8,876.4L808.7,877.4L808.4,878.4L808.1,879.3L807.8,880.2L807.3,881.1L806.8,882.0L806.2,882.8L805.5,883.5L804.6,884.0L803.8,884.5L802.9,884.9L802.1,885.4L801.2,885.9L800.3,886.4L799.4,886.9L798.4,887.2L797.4,887.3L796.4,887.0L795.4,886.5L794.6,885.8L793.9,885.0L793.3,884.3L792.6,883.7L791.9,883.3L791.0,883.0L790.1,882.7L789.1,882.3L788.3,881.8L787.6,881.1L787.2,880.2L787.0,879.2L786.9,878.2L786.9,877.2L786.9,876.3L786.9,875.4L786.8,874.5L786.7,873.5L786.7,872.5L786.8,871.6L787.1,870.6L787.5,869.7L788.0,868.8L788.5,868.0L789.1,867.1L789.8,866.3L790.5,865.6L791.4,865.0L792.4,864.6L793.4,864.5L794.5,864.6L795.5,864.8L796.5,865.0L797.4,865.2L798.3,865.2L799.2,865.2L800.2,865.0L801.2,865.0L802.2,865.1L803.1,865.5L803.9,866.1L804.5,867.0L804.9,867.9L805.1,868.9L805.4,869.8L805.8,870.5L806.3,871.2L806.9,871.9L807.6,872.7L808.2,873.5L808.6,874.4Z" fill="#F5B4C7" stroke="#C98A9E" stroke-width="0.6" stroke-opacity="0.5"/><circle cx="773.5" cy="883.5" r="0.9" fill="#F0B0C0"/><circle cx="799.8" cy="860.9" r="0.9" fill="#F0B0C0"/><circle cx="791.7" cy="888.3" r="0.9" fill="#F0B0C0"/><circle cx="800.5" cy="883.4" r="0.9" fill="#F0B0C0"/><circle cx="799.6" cy="888.8" r="0.9" fill="#F0B0C0"/><circle cx="809.1" cy="871.9" r="0.9" fill="#F0B0C0"/><circle cx="776.4" cy="885.7" r="0.9" fill="#F0B0C0"/><circle cx="783.0" cy="857.2" r="0.9" fill="#F0B0C0"/><circle cx="808.0" cy="882.6" r="0.9" fill="#F0B0C0"/><circle cx="777.6" cy="862.7" r="0.9" fill="#F0B0C0"/></g>
<g opacity="0.93"><path d="M915.7,871.3L914.1,872.4L912.8,873.5L912.2,874.5L911.9,875.6L911.7,876.6L911.5,877.7L911.2,878.7L910.9,879.7L910.8,880.8L911.0,882.1L911.6,883.6L911.5,884.8L910.2,885.4L908.8,885.9L907.8,886.5L907.1,887.4L906.5,888.2L905.9,889.1L905.3,890.1L905.1,891.4L905.0,892.9L904.5,894.1L903.2,894.3L901.8,894.4L900.7,894.8L899.8,895.4L898.9,896.1L898.1,897.0L897.6,898.5L897.0,900.4L896.0,901.0L894.4,900.2L892.9,899.3L891.6,899.0L890.5,899.0L889.4,899.1L888.3,899.1L887.2,899.2L886.1,899.2L885.0,899.4L883.9,900.3L882.6,902.1L881.2,903.1L880.1,902.1L879.3,900.2L878.3,899.1L877.3,898.7L876.2,898.5L875.1,898.2L873.9,898.2L872.4,898.5L870.9,898.9L869.9,898.3L869.3,896.9L868.8,895.6L868.0,894.6L867.2,893.9L866.3,893.2L865.3,892.6L863.8,892.5L862.2,892.3L861.6,891.3L861.8,889.6L861.8,888.1L861.5,887.0L861.0,886.0L860.5,885.0L860.0,884.0L859.6,883.0L859.1,882.0L858.3,881.1L856.7,880.5L854.9,879.8L854.7,878.6L856.1,877.1L856.8,875.8L855.9,874.7L854.4,873.7L854.4,872.5L856.0,871.3L857.3,870.2L857.7,869.2L857.8,868.1L857.8,867.0L857.9,865.9L858.0,864.8L858.0,863.7L857.7,862.4L857.0,861.0L856.7,859.6L857.8,858.7L859.3,858.2L860.4,857.5L861.2,856.7L861.9,855.9L862.6,855.0L863.4,854.2L864.0,853.4L864.4,852.3L864.4,850.7L864.5,849.1L865.6,848.6L867.4,848.9L868.8,848.9L869.7,848.5L870.6,847.8L871.5,847.1L872.2,846.2L872.7,844.6L873.1,842.7L874.1,841.9L875.7,842.6L877.2,843.5L878.4,843.7L879.5,843.5L880.5,843.1L881.6,842.3L882.6,840.9L883.8,839.9L885.0,840.5L886.2,841.8L887.3,842.5L888.4,842.7L889.5,842.9L890.6,843.0L891.7,843.2L892.9,843.2L894.3,842.8L895.8,842.0L897.1,842.1L897.8,843.5L898.3,845.2L899.0,846.3L899.8,847.1L900.7,847.8L901.5,848.6L902.3,849.3L903.1,850.1L903.9,850.9L904.7,851.6L905.8,852.0L907.5,852.1L909.3,852.2L909.8,853.3L909.4,855.0L909.3,856.4L909.7,857.5L910.2,858.4L910.8,859.4L911.3,860.4L911.7,861.4L912.2,862.5L913.1,863.4L914.7,864.2L915.9,865.2L915.4,866.5L914.4,867.8L914.7,869.0L915.8,870.1Z" fill="#FAD6E0" stroke="#C98A9E" stroke-width="1.1"/><path d="M889.0,876.4L888.7,877.4L888.3,878.4L887.9,879.3L887.4,880.2L887.0,881.1L886.6,882.0L886.2,882.9L885.7,883.8L885.1,884.6L884.4,885.4L883.7,886.1L882.9,886.7L882.0,887.4L881.2,888.1L880.2,888.7L879.2,889.2L878.1,889.6L876.9,889.6L875.8,889.3L874.7,888.8L873.8,888.1L872.9,887.4L872.0,886.9L871.1,886.4L870.1,886.1L869.0,885.8L868.0,885.3L867.0,884.7L866.3,883.8L865.8,882.8L865.7,881.6L865.8,880.4L866.0,879.3L866.2,878.3L866.2,877.3L866.2,876.4L866.0,875.4L865.9,874.5L865.8,873.4L865.9,872.4L866.2,871.4L866.6,870.5L867.2,869.6L867.8,868.8L868.4,867.9L869.1,867.1L869.9,866.4L870.8,865.8L871.7,865.3L872.7,865.0L873.8,864.8L874.8,864.7L875.9,864.6L876.9,864.4L878.0,864.2L879.1,864.0L880.3,863.8L881.5,863.8L882.6,864.2L883.6,864.9L884.3,865.8L884.8,866.9L885.2,868.1L885.5,869.2L885.9,870.1L886.4,870.9L887.0,871.7L887.7,872.5L888.4,873.3L888.9,874.3L889.1,875.3Z" fill="#F5B4C7" stroke="#C98A9E" stroke-width="0.6" stroke-opacity="0.5"/><circle cx="882.3" cy="891.0" r="0.9" fill="#F0B0C0"/><circle cx="901.3" cy="880.5" r="0.9" fill="#F0B0C0"/><circle cx="899.5" cy="878.4" r="0.9" fill="#F0B0C0"/><circle cx="881.4" cy="887.9" r="0.9" fill="#F0B0C0"/><circle cx="876.8" cy="891.7" r="0.9" fill="#F0B0C0"/><circle cx="905.5" cy="876.0" r="0.9" fill="#F0B0C0"/><circle cx="899.8" cy="888.1" r="0.9" fill="#F0B0C0"/><circle cx="883.5" cy="853.7" r="0.9" fill="#F0B0C0"/><circle cx="897.5" cy="853.5" r="0.9" fill="#F0B0C0"/><circle cx="902.2" cy="880.0" r="0.9" fill="#F0B0C0"/></g>
<g opacity="0.93"><path d="M865.6,869.3L864.4,870.6L864.0,871.9L863.7,873.2L863.4,874.4L863.0,875.7L862.6,876.9L862.2,878.1L862.4,879.5L863.1,881.2L862.9,882.5L861.1,883.2L859.6,883.9L858.8,884.9L858.2,886.0L857.6,887.1L857.0,888.2L856.9,889.7L857.0,891.5L856.3,892.7L854.7,893.0L853.2,893.3L852.1,894.0L851.1,894.8L850.1,895.6L849.0,896.2L847.9,896.8L846.7,897.4L845.6,897.9L844.4,898.5L843.5,899.5L842.7,901.0L841.4,901.4L839.8,900.7L838.4,900.2L837.2,900.4L836.1,901.6L835.0,903.4L833.7,903.8L832.3,902.2L831.0,900.9L829.8,900.5L828.6,900.4L827.3,900.2L826.1,900.0L824.9,899.7L823.8,899.4L822.6,899.1L821.4,898.9L820.0,899.2L818.2,900.3L816.5,900.7L815.8,899.1L815.3,897.3L814.4,896.3L813.3,895.7L812.2,895.2L811.1,894.6L809.9,894.0L808.5,893.7L806.2,894.1L804.3,894.0L804.3,892.1L804.8,889.9L804.6,888.5L804.1,887.3L803.5,886.2L802.9,885.0L802.4,883.9L802.0,882.7L801.5,881.5L800.7,880.5L798.9,879.7L796.6,879.0L796.5,877.6L798.2,875.8L799.0,874.4L798.5,873.1L797.0,872.0L795.7,870.7L796.3,869.3L797.6,868.0L798.3,866.7L798.4,865.4L798.6,864.2L798.8,862.9L799.1,861.6L799.4,860.4L799.8,859.1L799.8,857.8L799.2,856.1L798.8,854.5L800.1,853.6L801.9,853.0L803.1,852.2L803.8,851.2L804.5,850.1L804.9,848.7L804.8,846.9L805.3,845.5L807.0,845.3L808.8,845.3L810.1,844.8L811.2,844.2L812.3,843.6L813.4,843.0L814.6,842.5L815.7,842.0L816.8,841.5L818.0,841.0L819.0,840.4L819.8,839.0L820.6,837.3L821.9,837.0L823.5,838.0L824.8,838.4L826.1,838.2L827.3,837.9L828.5,837.6L829.7,837.4L831.0,837.3L832.3,836.8L833.6,835.7L835.0,835.1L836.3,835.9L837.6,836.0L839.1,835.4L840.3,836.5L841.0,838.4L841.9,839.7L843.0,840.3L844.1,840.9L845.2,841.5L846.3,842.1L847.3,842.7L848.4,843.3L849.4,843.9L850.7,844.3L852.6,844.1L854.8,843.6L855.6,844.7L855.3,846.9L855.4,848.5L856.0,849.6L856.8,850.5L857.6,851.5L858.3,852.6L859.0,853.6L859.6,854.7L860.2,855.8L861.0,856.9L862.2,857.8L864.3,858.5L865.4,859.6L864.6,861.2L863.7,862.8L864.0,864.1L865.4,865.2L867.4,866.4L867.4,867.9Z" fill="#FAD6E0" stroke="#C98A9E" stroke-width="1.1"/><path d="M840.2,869.3L840.4,870.6L840.5,871.9L840.5,873.2L840.4,874.6L839.9,875.8L839.0,876.9L837.9,877.7L836.7,878.3L835.5,878.9L834.4,879.4L833.4,880.0L832.6,880.9L831.8,882.0L830.9,883.1L829.9,884.2L828.7,885.0L827.3,885.4L825.9,885.4L824.5,885.1L823.2,884.6L822.0,884.0L820.8,883.4L819.6,882.9L818.3,882.4L817.1,881.9L815.9,881.2L814.8,880.4L813.9,879.4L813.1,878.3L812.4,877.1L811.8,875.9L811.3,874.6L810.8,873.3L810.5,872.0L810.4,870.7L810.6,869.3L811.1,868.0L811.8,866.8L812.6,865.7L813.3,864.7L813.9,863.7L814.3,862.6L814.6,861.4L814.9,860.0L815.3,858.7L816.0,857.4L816.9,856.5L818.1,855.9L819.5,855.6L820.9,855.6L822.2,855.6L823.5,855.6L824.7,855.4L825.9,855.0L827.2,854.6L828.6,854.2L830.0,854.0L831.4,854.1L832.8,854.5L834.0,855.2L835.1,856.1L836.1,857.1L837.1,858.1L837.9,859.2L838.7,860.4L839.3,861.6L839.8,862.8L840.1,864.1L840.2,865.5L840.2,866.8L840.2,868.1Z" fill="#F5B4C7" stroke="#C98A9E" stroke-width="0.6" stroke-opacity="0.5"/><circle cx="848.2" cy="854.7" r="0.9" fill="#F0B0C0"/><circle cx="808.3" cy="855.2" r="0.9" fill="#F0B0C0"/><circle cx="834.2" cy="892.7" r="0.9" fill="#F0B0C0"/><circle cx="807.2" cy="855.5" r="0.9" fill="#F0B0C0"/><circle cx="850.2" cy="873.2" r="0.9" fill="#F0B0C0"/><circle cx="819.8" cy="893.2" r="0.9" fill="#F0B0C0"/><circle cx="842.1" cy="852.4" r="0.9" fill="#F0B0C0"/><circle cx="851.7" cy="857.7" r="0.9" fill="#F0B0C0"/><circle cx="857.8" cy="863.7" r="0.9" fill="#F0B0C0"/><circle cx="854.2" cy="884.6" r="0.9" fill="#F0B0C0"/></g>
<g opacity="0.93"><path d="M870.2,819.4L871.3,820.7L873.4,822.3L873.8,823.7L871.7,824.9L870.1,826.0L869.5,827.2L869.1,828.4L868.7,829.7L868.2,830.9L867.6,832.1L867.2,833.3L867.3,834.8L867.5,836.5L866.6,837.5L864.8,837.9L863.5,838.6L862.6,839.5L861.8,840.5L860.9,841.4L860.0,842.3L859.1,843.2L858.1,844.0L857.1,844.8L856.1,845.6L855.3,846.7L854.9,848.4L854.0,849.5L852.3,849.2L850.6,848.8L849.3,849.0L848.2,849.4L847.0,849.9L846.0,851.0L845.2,853.0L844.1,854.4L842.5,853.4L841.0,852.3L839.7,852.2L838.4,852.4L837.1,852.6L835.8,853.1L834.3,854.4L832.7,856.5L831.2,856.4L830.2,854.1L829.1,852.6L827.9,851.9L826.7,851.5L825.4,851.2L823.7,851.8L821.8,852.6L820.7,851.5L820.4,849.2L819.7,847.7L818.8,846.9L817.7,846.1L816.7,845.3L815.5,844.6L813.9,844.4L811.5,845.0L809.6,844.8L809.9,842.7L810.3,840.5L809.9,839.2L809.1,838.1L808.4,837.0L807.7,835.9L807.0,834.7L806.0,833.7L804.2,833.0L802.5,832.2L802.9,830.5L804.1,828.7L804.3,827.3L804.1,826.0L803.9,824.7L803.7,823.3L803.6,822.0L803.6,820.7L803.6,819.4L803.6,818.1L803.8,816.8L804.0,815.5L803.9,814.1L802.8,812.6L801.4,810.8L802.4,809.6L804.8,808.9L805.5,807.7L804.4,805.9L804.5,804.4L806.9,804.0L808.9,803.6L809.9,802.7L810.6,801.7L811.3,800.7L812.0,799.6L812.7,798.5L813.4,797.5L814.2,796.5L815.0,795.5L815.8,794.5L816.8,793.6L817.6,792.6L818.1,791.0L818.5,789.0L819.8,788.5L821.7,789.1L823.3,789.4L824.5,789.1L825.8,788.7L827.0,788.4L828.2,788.0L829.4,787.1L830.4,785.6L831.6,784.8L833.1,785.8L834.5,786.7L835.8,786.6L837.1,785.4L838.5,784.3L839.8,784.9L841.0,786.2L842.3,786.9L843.5,787.1L844.8,787.4L846.1,787.7L847.3,788.0L848.6,788.3L849.9,788.5L851.7,787.7L853.8,786.5L855.0,787.5L855.2,789.9L855.8,791.4L856.9,792.2L858.0,792.9L859.1,793.6L860.2,794.4L861.3,795.2L862.5,796.0L864.4,796.1L867.0,795.9L867.9,797.0L866.9,799.5L866.4,801.4L866.7,802.8L867.1,804.1L867.5,805.4L867.9,806.6L868.2,807.9L868.5,809.2L869.1,810.4L870.4,811.4L871.6,812.5L871.0,814.0L870.1,815.5L869.8,816.8L869.9,818.1Z" fill="#FAD6E0" stroke="#C98A9E" stroke-width="1.1"/><path d="M856.5,822.4L856.7,823.8L856.7,825.1L856.5,826.5L856.0,827.8L855.4,829.0L854.6,830.2L853.8,831.2L853.0,832.3L852.0,833.2L851.0,834.0L849.8,834.7L848.5,835.1L847.2,835.3L845.9,835.3L844.7,835.4L843.5,835.5L842.4,835.9L841.2,836.3L839.9,836.8L838.6,837.3L837.2,837.4L835.8,837.2L834.6,836.5L833.6,835.6L832.8,834.4L832.1,833.3L831.3,832.3L830.5,831.4L829.5,830.6L828.3,829.8L827.1,829.0L826.1,827.9L825.3,826.7L824.9,825.3L824.8,823.8L825.0,822.4L825.4,821.0L825.9,819.7L826.4,818.4L826.9,817.2L827.5,816.0L828.1,814.9L829.0,813.8L829.9,812.9L830.9,812.1L831.9,811.4L832.9,810.6L834.0,809.8L835.0,809.1L836.1,808.3L837.3,807.7L838.6,807.4L839.9,807.5L841.2,807.8L842.4,808.4L843.6,809.0L844.6,809.6L845.7,810.0L846.9,810.1L848.3,810.1L849.8,810.2L851.3,810.4L852.6,811.0L853.8,811.8L854.6,813.0L855.1,814.4L855.3,815.8L855.4,817.2L855.6,818.5L855.8,819.8L856.2,821.1Z" fill="#F5B4C7" stroke="#C98A9E" stroke-width="0.6" stroke-opacity="0.5"/><circle cx="823.2" cy="838.1" r="0.9" fill="#F0B0C0"/><circle cx="815.6" cy="825.9" r="0.9" fill="#F0B0C0"/><circle cx="814.2" cy="817.6" r="0.9" fill="#F0B0C0"/><circle cx="859.5" cy="825.3" r="0.9" fill="#F0B0C0"/><circle cx="856.9" cy="822.4" r="0.9" fill="#F0B0C0"/><circle cx="834.6" cy="848.0" r="0.9" fill="#F0B0C0"/><circle cx="812.8" cy="822.3" r="0.9" fill="#F0B0C0"/><circle cx="861.4" cy="805.4" r="0.9" fill="#F0B0C0"/><circle cx="817.7" cy="810.7" r="0.9" fill="#F0B0C0"/><circle cx="814.7" cy="816.1" r="0.9" fill="#F0B0C0"/></g>
<ellipse cx="952" cy="821.5" rx="33.3" ry="34.3" fill="#B2BDE2" stroke="#7A84C8" stroke-width="1.4"/>
<circle cx="954.3" cy="816.6" r="20" fill="#9A98D4" stroke="#8886C4" stroke-width="1"/>
<text x="941.1" y="824.1" font-size="12" fill="#fff" font-weight="bold" font-style="normal" text-anchor="start" textLength="23.3" lengthAdjust="spacingAndGlyphs" >Treg</text>
<ellipse cx="884.8" cy="928.9" rx="36.8" ry="38" fill="#B2BDE2" stroke="#7A84C8" stroke-width="1.4"/>
<circle cx="886.5" cy="922.9" r="22.5" fill="#9A98D4" stroke="#8886C4" stroke-width="1"/>
<text x="872.1" y="931.7" font-size="12" fill="#fff" font-weight="bold" font-style="normal" text-anchor="start" textLength="25.7" lengthAdjust="spacingAndGlyphs" >Treg</text>
<ellipse cx="712.5" cy="706" rx="40.9" ry="39.4" fill="#F4C4C6" stroke="#D68A8E" stroke-width="1.3"/><path d="M 686.9,694.9 C 686.9,685.5 693.6,682.7 703.1,683.1 C 707.8,683.3 710.9,680.3 720.4,679.6 C 729.8,679.2 737.7,683.9 737.7,691.0 C 737.7,698.1 732.2,700.4 727.5,700.0 C 721.9,699.6 720.4,694.9 720.8,688.6 C 720.8,683.9 711.7,683.1 711.3,688.6 C 710.9,694.9 710.1,702.0 703.1,704.4 C 698.3,705.9 692.0,704.4 690.5,707.5 C 688.9,711.4 691.2,715.4 696.8,714.6 C 703.1,714.2 706.2,720.1 705.4,724.8 C 704.6,730.3 699.1,732.7 694.4,731.5 C 688.1,729.9 685.0,721.7 685.7,712.2 C 686.1,705.9 686.9,701.2 686.9,694.9 Z" fill="#E8AAAE" stroke="#D49296" stroke-width="0.8"/><circle cx="713.4" cy="727.0" r="0.9" fill="#E09A9E"/><circle cx="728.9" cy="732.5" r="0.9" fill="#E09A9E"/><circle cx="715.2" cy="728.5" r="0.9" fill="#E09A9E"/><circle cx="728.3" cy="698.1" r="0.9" fill="#E09A9E"/><circle cx="740.2" cy="700.2" r="0.9" fill="#E09A9E"/><circle cx="688.6" cy="698.6" r="0.9" fill="#E09A9E"/><circle cx="698.3" cy="697.5" r="0.9" fill="#E09A9E"/><circle cx="730.4" cy="705.6" r="0.9" fill="#E09A9E"/><circle cx="744.5" cy="702.6" r="0.9" fill="#E09A9E"/><circle cx="725.5" cy="708.3" r="0.9" fill="#E09A9E"/><circle cx="681.8" cy="710.4" r="0.9" fill="#E09A9E"/><circle cx="723.3" cy="728.1" r="0.9" fill="#E09A9E"/><circle cx="692.3" cy="728.3" r="0.9" fill="#E09A9E"/><circle cx="738.7" cy="692.8" r="0.9" fill="#E09A9E"/><ellipse cx="728.2" cy="721.3" rx="14.2" ry="14.6" fill="#fff" stroke="#D68A8E" stroke-width="1.2"/>
<ellipse cx="683.5" cy="829.7" rx="39.2" ry="41.1" fill="#F4C4C6" stroke="#D68A8E" stroke-width="1.3"/><path d="M 663.6,814.9 C 667.5,804.7 675.4,798.4 682.5,799.2 C 690.4,800.0 693.5,808.6 690.4,814.9 C 687.2,818.8 680.9,817.3 677.0,813.3 C 673.8,809.4 669.9,809.4 668.3,814.1 C 666.8,818.8 675.4,824.4 676.2,830.6 C 677.0,836.9 669.9,840.1 668.3,844.8 C 667.5,848.7 671.5,851.9 675.4,848.7 C 679.4,844.8 684.1,844.0 688.8,846.4 C 695.1,850.3 693.5,859.8 687.2,861.7 C 679.4,863.7 673.1,860.6 669.1,854.3 C 666.0,849.5 662.0,846.4 657.3,841.7 C 652.6,836.2 653.4,827.5 658.1,822.0 C 661.2,818.8 662.8,817.3 663.6,814.9 Z" fill="#E8AAAE" stroke="#D49296" stroke-width="0.8"/><circle cx="690.1" cy="828.8" r="0.9" fill="#E09A9E"/><circle cx="680.5" cy="810.3" r="0.9" fill="#E09A9E"/><circle cx="699.6" cy="823.5" r="0.9" fill="#E09A9E"/><circle cx="692.1" cy="824.9" r="0.9" fill="#E09A9E"/><circle cx="701.0" cy="829.1" r="0.9" fill="#E09A9E"/><circle cx="689.8" cy="843.8" r="0.9" fill="#E09A9E"/><circle cx="679.4" cy="825.3" r="0.9" fill="#E09A9E"/><circle cx="679.5" cy="833.2" r="0.9" fill="#E09A9E"/><circle cx="692.7" cy="834.0" r="0.9" fill="#E09A9E"/><circle cx="685.1" cy="842.9" r="0.9" fill="#E09A9E"/><circle cx="686.5" cy="812.4" r="0.9" fill="#E09A9E"/><circle cx="703.5" cy="804.6" r="0.9" fill="#E09A9E"/><circle cx="710.0" cy="809.1" r="0.9" fill="#E09A9E"/><circle cx="661.0" cy="818.1" r="0.9" fill="#E09A9E"/><ellipse cx="704.1" cy="829.5" rx="13.4" ry="15.7" fill="#fff" stroke="#D68A8E" stroke-width="1.2"/>
<text x="616.3" y="764.8" font-size="19" fill="#111" font-weight="bold" font-style="normal" text-anchor="start" textLength="52.9" lengthAdjust="spacingAndGlyphs" >PMNs</text>
<text x="614.2" y="897.9" font-size="18.5" fill="#111" font-weight="bold" font-style="normal" text-anchor="start" textLength="25.8" lengthAdjust="spacingAndGlyphs" >IL6</text>
<text x="614.2" y="920" font-size="18.5" fill="#111" font-weight="bold" font-style="normal" text-anchor="start" textLength="25.8" lengthAdjust="spacingAndGlyphs" >IL8</text>
<text x="614.2" y="942.2" font-size="18.5" fill="#111" font-weight="bold" font-style="normal" text-anchor="start" textLength="46.1" lengthAdjust="spacingAndGlyphs" >TGFβ</text>
<circle cx="687.5" cy="875.6" r="3.7" fill="#A9CFE3"/><circle cx="721.9" cy="878.1" r="3.7" fill="#4F9DC1"/><circle cx="693" cy="899.6" r="3.7" fill="#A9CFE3"/><circle cx="726" cy="902.2" r="3.7" fill="#6EACCC"/><circle cx="752.2" cy="914.8" r="3.7" fill="#A9CFE3"/><circle cx="779.6" cy="918.2" r="3.7" fill="#4F9DC1"/><circle cx="680.7" cy="919.3" r="3.7" fill="#4F9DC1"/><circle cx="706.6" cy="921.5" r="3.7" fill="#6EACCC"/><circle cx="734.7" cy="930.8" r="3.7" fill="#4F9DC1"/><circle cx="758.6" cy="930.7" r="3.7" fill="#4F9DC1"/><circle cx="720.1" cy="935.9" r="3.7" fill="#6EACCC"/><circle cx="702.6" cy="941" r="3.7" fill="#4F9DC1"/><circle cx="781.4" cy="940.3" r="3.7" fill="#A9CFE3"/><circle cx="684.8" cy="949.6" r="3.7" fill="#A9CFE3"/><circle cx="741.1" cy="950.7" r="3.7" fill="#4F9DC1"/><circle cx="716.2" cy="957.8" r="3.7" fill="#4F9DC1"/><circle cx="696.4" cy="963" r="3.7" fill="#6EACCC"/><circle cx="737.4" cy="962.2" r="3.7" fill="#4F9DC1"/><circle cx="757.7" cy="961.2" r="3.7" fill="#4F9DC1"/><circle cx="779.6" cy="959.3" r="3.7" fill="#4F9DC1"/><circle cx="795.9" cy="959.7" r="3.7" fill="#A9CFE3"/><circle cx="813" cy="964" r="3.7" fill="#A9CFE3"/><circle cx="685.6" cy="974.1" r="3.7" fill="#6EACCC"/><circle cx="717.4" cy="977.8" r="3.7" fill="#4F9DC1"/><circle cx="734.4" cy="976.3" r="3.7" fill="#4F9DC1"/><circle cx="756.2" cy="978.5" r="3.7" fill="#6EACCC"/><circle cx="700.8" cy="987.4" r="3.7" fill="#4F9DC1"/><circle cx="737.4" cy="988.1" r="3.7" fill="#4F9DC1"/><circle cx="682.1" cy="996.3" r="3.7" fill="#4F9DC1"/><circle cx="718.6" cy="994.5" r="3.7" fill="#4F9DC1"/>
<rect x="775" y="982.7" width="280.4" height="148.8" fill="#F0F4FA" stroke="#8A9CC4" stroke-width="2"/>
<text x="794.3" y="1015.5" font-size="19" fill="#111" font-weight="bold" font-style="italic" text-anchor="start" textLength="39.4" lengthAdjust="spacingAndGlyphs" >TILs</text>
<text x="794.3" y="1039" font-size="19" fill="#111" font-weight="bold" font-style="italic" text-anchor="start" textLength="209.5" lengthAdjust="spacingAndGlyphs" >IL6, CXCL5 and CXCL7</text>
<text x="794.3" y="1061.8" font-size="19" fill="#111" font-weight="bold" font-style="italic" text-anchor="start" textLength="52.1" lengthAdjust="spacingAndGlyphs" >Tregs</text>
<text x="794.3" y="1085.4" font-size="19" fill="#111" font-weight="bold" font-style="italic" text-anchor="start" textLength="180.6" lengthAdjust="spacingAndGlyphs" >PD1, LAG3, CTLA-4</text>
<text x="794.3" y="1108.5" font-size="19" fill="#111" font-weight="bold" font-style="italic" text-anchor="start" textLength="107.2" lengthAdjust="spacingAndGlyphs" >Neutrophils</text>
<line x1="783.4" y1="994.6" x2="783.4" y2="1010" stroke="#8C9CC6" stroke-width="2"/><path d="M783.4,1016 L778.4,1007 L788.4,1007Z" fill="#8C9CC6"/>
<line x1="783.4" y1="1027.5" x2="783.4" y2="1041.5" stroke="#8C9CC6" stroke-width="2"/><path d="M783.4,1019.5 L788.4,1028.5 L778.4,1028.5Z" fill="#8C9CC6"/>
<line x1="783.4" y1="1051" x2="783.4" y2="1065" stroke="#8C9CC6" stroke-width="2"/><path d="M783.4,1043 L788.4,1052 L778.4,1052Z" fill="#8C9CC6"/>
<line x1="783.4" y1="1074" x2="783.4" y2="1088" stroke="#8C9CC6" stroke-width="2"/><path d="M783.4,1066 L788.4,1075 L778.4,1075Z" fill="#8C9CC6"/>
<line x1="783.4" y1="1097.5" x2="783.4" y2="1111.5" stroke="#8C9CC6" stroke-width="2"/><path d="M783.4,1089.5 L788.4,1098.5 L778.4,1098.5Z" fill="#8C9CC6"/>
<g fill="#9FA3A7" opacity="0.95"><rect x="533.3" y="11.0" width="6.6" height="33"/><rect x="549" y="11.0" width="6.6" height="33"/><rect x="533.3" y="77.5" width="6.6" height="33"/><rect x="549" y="77.5" width="6.6" height="33"/><rect x="533.3" y="143.9" width="6.6" height="33"/><rect x="549" y="143.9" width="6.6" height="33"/><rect x="533.3" y="210.4" width="6.6" height="33"/><rect x="549" y="210.4" width="6.6" height="33"/><rect x="533.3" y="276.9" width="6.6" height="33"/><rect x="549" y="276.9" width="6.6" height="33"/><rect x="533.3" y="343.4" width="6.6" height="33"/><rect x="549" y="343.4" width="6.6" height="33"/><rect x="533.3" y="409.8" width="6.6" height="33"/><rect x="549" y="409.8" width="6.6" height="33"/><rect x="533.3" y="476.3" width="6.6" height="33"/><rect x="549" y="476.3" width="6.6" height="33"/><rect x="533.3" y="542.8" width="6.6" height="33"/><rect x="549" y="542.8" width="6.6" height="33"/><rect x="533.3" y="609.2" width="6.6" height="33"/><rect x="549" y="609.2" width="6.6" height="33"/><rect x="533.3" y="675.7" width="6.6" height="33"/><rect x="549" y="675.7" width="6.6" height="33"/><rect x="533.3" y="742.2" width="6.6" height="33"/><rect x="549" y="742.2" width="6.6" height="33"/><rect x="533.3" y="808.6" width="6.6" height="33"/><rect x="549" y="808.6" width="6.6" height="33"/><rect x="533.3" y="875.1" width="6.6" height="33"/><rect x="549" y="875.1" width="6.6" height="33"/><rect x="533.3" y="941.6" width="6.6" height="33"/><rect x="549" y="941.6" width="6.6" height="33"/><rect x="533.3" y="1008.0" width="6.6" height="33"/><rect x="549" y="1008.0" width="6.6" height="33"/><rect x="533.3" y="1074.5" width="6.6" height="33"/><rect x="549" y="1074.5" width="6.6" height="33"/><rect x="533.3" y="1141.0" width="6.6" height="33"/><rect x="549" y="1141.0" width="6.6" height="33"/></g>
</svg></body></html>
